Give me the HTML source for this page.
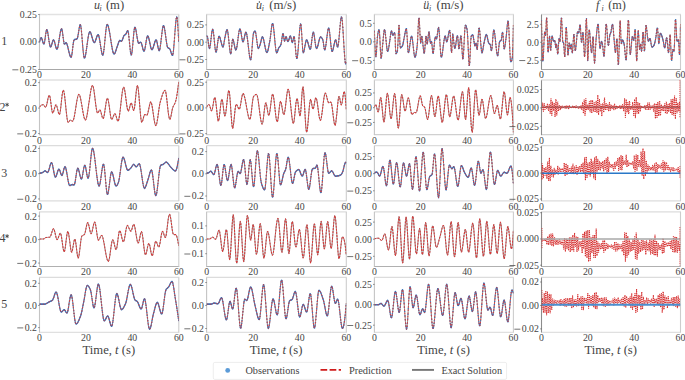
<!DOCTYPE html>
<html><head><meta charset="utf-8"><style>
html,body{margin:0;padding:0;background:#fff;width:685px;height:380px;overflow:hidden}
svg text{font-family:"Liberation Serif", serif}
</style></head><body>
<svg width="685" height="380" viewBox="0 0 685 380" style="display:block">
<rect width="685" height="380" fill="#fff"/>
<clipPath id="c00"><rect x="39.5" y="14.0" width="139.3" height="55.900000000000006"/></clipPath>
<path d="M39.0 14.5H179.3" stroke="#e2e2e2" stroke-width="1.3"/>
<path d="M39.0 69.5H179.3" stroke="#a8a8a8" stroke-width="1.0"/>
<path d="M178.8 14.5V69.4" stroke="#cdcdcd" stroke-width="1.1"/>
<path d="M39.5 14.5V69.4" stroke="#c4c4c4" stroke-width="1.1"/>
<g clip-path="url(#c00)">
<path id="p00" d="M39.5 42.0L40.0 39.9 40.5 38.4 41.0 37.7 41.5 37.8 42.0 39.0 42.5 40.8 43.0 42.5 43.5 43.8 44.0 44.1 44.5 42.4 45.0 39.3 45.5 35.5 46.0 32.0 46.5 29.8 47.0 29.7 47.5 31.3 48.0 34.1 48.5 37.6 49.0 41.1 49.6 44.2 50.1 46.4 50.6 47.1 51.1 46.4 51.6 45.0 52.1 43.2 52.6 41.5 53.1 40.2 53.6 39.8 54.1 40.5 54.6 42.1 55.1 44.0 55.6 46.1 56.1 47.9 56.6 49.1 57.1 49.2 57.6 48.1 58.1 46.0 58.6 43.2 59.1 40.0 59.6 36.7 60.1 33.6 60.6 31.1 61.1 29.3 61.6 28.7 62.1 30.0 62.6 33.1 63.1 37.0 63.6 40.8 64.1 43.5 64.6 44.2 65.1 43.6 65.6 42.9 66.1 42.7 66.6 43.3 67.1 44.6 67.6 46.3 68.1 48.3 68.6 50.5 69.1 52.6 69.7 54.5 70.2 56.1 70.7 57.1 71.2 57.4 71.7 55.8 72.2 52.5 72.7 48.2 73.2 44.1 73.7 40.9 74.2 39.8 74.7 39.6 75.2 39.5 75.7 39.4 76.2 39.3 76.7 39.1 77.2 38.8 77.7 37.1 78.2 34.5 78.7 31.3 79.2 28.2 79.7 25.8 80.2 24.6 80.7 25.5 81.2 28.8 81.7 33.8 82.2 39.7 82.7 45.9 83.2 51.5 83.7 55.8 84.2 58.0 84.7 57.9 85.2 56.5 85.7 54.2 86.2 51.1 86.7 47.6 87.2 43.9 87.7 40.3 88.2 37.0 88.7 34.3 89.3 32.5 89.8 31.7 90.3 32.0 90.8 33.0 91.3 34.4 91.8 36.2 92.3 38.0 92.8 39.7 93.3 41.2 93.8 42.3 94.3 42.7 94.8 42.3 95.3 41.4 95.8 40.0 96.3 38.4 96.8 36.8 97.3 35.5 97.8 34.7 98.3 34.7 98.8 35.8 99.3 37.9 99.8 40.8 100.3 44.0 100.8 47.2 101.3 50.3 101.8 52.9 102.3 54.6 102.8 55.2 103.3 54.0 103.8 51.0 104.3 46.6 104.8 41.6 105.3 36.3 105.8 31.4 106.3 27.4 106.8 24.9 107.3 24.3 107.8 25.0 108.3 26.5 108.8 28.6 109.4 31.2 109.9 34.1 110.4 37.3 110.9 40.6 111.4 43.7 111.9 46.7 112.4 49.4 112.9 51.6 113.4 53.2 113.9 54.0 114.4 54.0 114.9 53.3 115.4 52.1 115.9 50.7 116.4 49.0 116.9 47.4 117.4 46.0 117.9 44.6 118.4 43.1 118.9 41.6 119.4 40.7 119.9 40.5 120.4 40.8 120.9 41.1 121.4 41.3 121.9 41.0 122.4 39.9 122.9 38.4 123.4 36.9 123.9 35.8 124.4 35.2 124.9 35.0 125.4 34.7 125.9 34.1 126.4 33.0 126.9 31.7 127.4 30.7 127.9 30.6 128.4 32.9 128.9 37.1 129.5 42.4 130.0 47.8 130.5 52.3 131.0 54.9 131.5 54.9 132.0 52.2 132.5 47.6 133.0 42.1 133.5 36.4 134.0 31.4 134.5 28.0 135.0 27.0 135.5 28.1 136.0 30.4 136.5 33.4 137.0 36.7 137.5 39.7 138.0 42.0 138.5 43.2 139.0 43.1 139.5 42.9 140.0 42.6 140.5 42.3 141.0 42.4 141.5 43.4 142.0 45.2 142.5 47.3 143.0 49.3 143.5 50.8 144.0 51.3 144.5 50.4 145.0 48.4 145.5 45.5 146.0 42.4 146.5 39.4 147.0 37.1 147.5 35.9 148.0 36.1 148.5 37.3 149.1 39.2 149.6 41.6 150.1 44.1 150.6 46.4 151.1 48.3 151.6 49.5 152.1 49.8 152.6 49.1 153.1 47.9 153.6 46.3 154.1 44.5 154.6 42.8 155.1 41.3 155.6 40.2 156.1 39.8 156.6 40.5 157.1 42.5 157.6 45.0 158.1 47.6 158.6 49.7 159.1 50.8 159.6 50.2 160.1 47.9 160.6 44.4 161.1 40.2 161.6 35.8 162.1 31.7 162.6 28.3 163.1 26.1 163.6 25.6 164.1 26.7 164.6 29.0 165.1 32.2 165.6 35.8 166.1 39.5 166.6 43.0 167.1 45.8 167.6 47.5 168.1 48.0 168.6 48.2 169.2 48.4 169.7 48.7 170.2 49.7 170.7 51.2 171.2 52.8 171.7 54.3 172.2 55.3 172.7 55.3 173.2 53.0 173.7 48.4 174.2 42.4 174.7 35.7 175.2 29.0 175.7 23.2 176.2 18.8 176.7 16.8 177.2 18.1 177.7 23.5 178.2 31.7 178.7 41.3" fill="none" stroke-linejoin="round"/>
<use href="#p00" stroke="#7a7a7a" stroke-width="0.8"/>
<path d="M39.5 42h0m.3-1.2h0m.3-1.1h0m.3-.9h0m.3-.7h0m.3-.4h0m.3 .1h0m.3 .3h0m.3 .7h0m.3 .9h0m.3 1h0m.3 1.1h0m.3 1h0m.3 .7h0m.3 .4h0m.3 .2h0m.3-.9h0m.3-1.2h0m.3-1.9h0m.3-2.1h0m.3-2.3h0m.3-2.1h0m.3-1.9h0m.3-1.3h0m.3-.6h0m.3-.1h0m.3 .9h0m.3 1.1h0m.3 1.6h0m.3 1.9h0m.3 2h0m.3 2.1h0m.3 2.1h0m.3 1.9h0m.3 1.6h0m.3 1.3h0m.3 .5h0m.3 .3h0m.3-.4h0m.3-.6h0m.3-.8h0m.3-1h0m.3-1.1h0m.3-1h0m.3-1h0m.3-.7h0m.3-.4h0m.3-.1h0m.3 .4h0m.3 .6h0m.3 .9h0m.3 1.1h0m.3 1.2h0m.3 1.3h0m.3 1.1h0m.3 1.1h0m.3 .8h0m.3 .7h0m.3 .1h0m.3-.2h0m.3-.7h0m.3-1.1h0m.3-1.2h0m.3-1.7h0m.3-1.8h0m.3-1.9h0m.3-1.9h0m.3-2h0m.3-1.8h0m.3-1.8h0m.3-1.5h0m.3-1.2h0m.3-1h0m.3-.4h0m.3-.1h0m.3 .8h0m.3 1.4h0m.3 1.9h0m.3 2.3h0m.3 2.3h0m.3 2.3h0m.3 1.9h0m.3 1.6h0m.3 .5h0m.3 .2h0m.3-.3h0m.3-.4h0m.3-.4h0m.3-.2h0m.3 0h0m.3 .4h0m.3 .5h0m.3 .8h0m.3 1h0m.3 1h0m.3 1.2h0m.3 1.3h0m.3 1.3h0m.3 1.2h0m.3 1.3h0m.3 1.1h0m.3 1.1h0m.3 .9h0m.3 .7h0m.3 .5h0m.3 .2h0m.3-.4h0m.3-.9h0m.3-1.8h0m.3-2h0m.3-2.6h0m.3-2.5h0m.3-2.5h0m.3-2h0m.3-1.7h0m.3-.7h0m.3-.5h0m.3-.1h0m.3-.1h0m.3 0h0m.3-.1h0m.3 0h0m.3-.1h0m.3-.1h0m.3-.1h0m.3-.2h0m.3-.5h0m.3-1h0m.3-1.4h0m.3-1.6h0m.3-1.9h0m.3-1.8h0m.3-1.9h0m.3-1.5h0m.3-1.5h0m.3-.7h0m.3-.3h0m.3 .5h0m.3 1.5h0m.3 2h0m.3 2.9h0m.3 3.1h0m.3 3.6h0m.3 3.6h0m.3 3.7h0m.3 3.3h0m.3 3.1h0m.3 2.6h0m.3 1.9h0m.3 1.3h0m.3 .1h0m.3-.3h0m.3-.8h0m.3-1.2h0m.3-1.4h0m.3-1.8h0m.3-1.9h0m.3-2h0m.3-2.2h0m.3-2.2h0m.3-2.1h0m.3-2.2h0m.3-1.9h0m.3-1.8h0m.3-1.6h0m.3-1.2h0m.3-1h0m.3-.5h0m.3-.1h0m.3 .2h0m.3 .5h0m.3 .6h0m.3 .9h0m.3 .9h0m.3 1h0m.3 1.1h0m.3 1.1h0m.3 1.1h0m.3 .9h0m.3 .9h0m.3 .7h0m.3 .6h0m.3 .3h0m.3 0h0m.3-.2h0m.3-.5h0m.3-.6h0m.3-.8h0m.3-.9h0m.3-1h0m.3-.9h0m.3-.9h0m.3-.8h0m.3-.6h0m.3-.5h0m.3-.2h0m.3 0h0m.3 .7h0m.3 .9h0m.3 1.2h0m.3 1.6h0m.3 1.6h0m.3 1.9h0m.3 2h0m.3 1.9h0m.3 1.9h0m.3 1.8h0m.3 1.6h0m.3 1.4h0m.3 1h0m.3 .6h0m.3 .4h0m.3-.7h0m.3-1h0m.3-1.8h0m.3-2.3h0m.3-2.5h0m.3-3h0m.3-3.1h0m.3-3.1h0m.3-3.1h0m.3-2.9h0m.3-2.4h0m.3-2.2h0m.3-1.5h0m.3-.9h0m.3-.3h0m.3 .3h0m.3 .5h0m.3 .9h0m.3 1h0m.3 1.3h0m.3 1.5h0m.3 1.6h0m.3 1.7h0m.3 1.9h0m.3 1.8h0m.3 2h0m.3 1.9h0m.3 1.9h0m.3 1.9h0m.3 1.8h0m.3 1.6h0m.3 1.5h0m.3 1.4h0m.3 1.1h0m.3 .9h0m.3 .7h0m.3 .4h0m.3 0h0m.3-.2h0m.3-.4h0m.3-.6h0m.3-.7h0m.3-.9h0m.3-.9h0m.3-1h0m.3-1h0m.3-.9h0m.3-.9h0m.3-.8h0m.3-.8h0m.3-.9h0m.3-1h0m.3-.8h0m.3-.8h0m.3-.5h0m.3-.3h0m.3-.1h0m.3 .2h0m.3 .1h0m.3 .2h0m.3 .2h0m.3 .1h0m.3-.2h0m.3-.3h0m.3-.7h0m.3-.7h0m.3-.9h0m.3-.9h0m.3-.9h0m.3-.7h0m.3-.4h0m.3-.3h0m.3-.2h0m.3-.2h0m.3-.1h0m.3-.3h0m.3-.3h0m.3-.7h0m.3-.7h0m.3-.7h0m.3-.7h0m.3-.6h0m.3-.1h0m.3 .2h0m.3 1.3h0m.3 1.9h0m.3 2.6h0m.3 3h0m.3 3.2h0m.3 3.2h0m.3 3h0m.3 2.7h0m.3 1.8h0m.3 1.3h0m.3 0h0m.3-.8h0m.3-1.6h0m.3-2.5h0m.3-2.7h0m.3-3.4h0m.3-3.3h0m.3-3.4h0m.3-3.1h0m.3-2.8h0m.3-2.1h0m.3-1.4h0m.3-.6h0m.3 .3h0m.3 .7h0m.3 1.3h0m.3 1.6h0m.3 1.8h0m.3 1.9h0m.3 1.9h0m.3 1.8h0m.3 1.7h0m.3 1.4h0m.3 .9h0m.3 .7h0m.3-.1h0m.3 0h0m.3-.2h0m.3-.1h0m.3-.2h0m.3-.2h0m.3 0h0m.3 0h0m.3 .4h0m.3 .6h0m.3 1.1h0m.3 1.1h0m.3 1.2h0m.3 1.2h0m.3 1.2h0m.3 .9h0m.3 .7h0m.3 .4h0m.3-.2h0m.3-.5h0m.3-1.2h0m.3-1.3h0m.3-1.7h0m.3-1.8h0m.3-1.9h0m.3-1.8h0m.3-1.7h0m.3-1.3h0m.3-1.1h0m.3-.7h0m.3 0h0m.3 .2h0m.3 .7h0m.3 1h0m.3 1.1h0m.3 1.4h0m.3 1.4h0m.3 1.5h0m.3 1.4h0m.3 1.5h0m.3 1.2h0m.3 1h0m.3 .8h0m.3 .4h0m.3 .1h0m.3-.2h0m.3-.5h0m.3-.7h0m.3-.8h0m.3-1h0m.3-1h0m.3-1.1h0m.3-1h0m.3-1h0m.3-.9h0m.3-.7h0m.3-.6h0m.3-.2h0m.3 0h0m.3 .4h0m.3 .9h0m.3 1.2h0m.3 1.5h0m.3 1.6h0m.3 1.5h0m.3 1.4h0m.3 1.2h0m.3 .6h0m.3 .4h0m.3-.4h0m.3-1h0m.3-1.4h0m.3-2h0m.3-2.2h0m.3-2.5h0m.3-2.6h0m.3-2.6h0m.3-2.5h0m.3-2.4h0m.3-2h0m.3-1.6h0m.3-1.4h0m.3-.3h0m.3-.1h0m.3 .7h0m.3 1.1h0m.3 1.4h0m.3 1.8h0m.3 2h0m.3 2.1h0m.3 2.2h0m.3 2.3h0m.3 2h0m.3 2h0m.3 1.7h0m.3 1.3h0m.3 1.1h0m.3 .4h0m.3 .3h0m.3 .1h0m.3 .1h0m.3 .1h0m.3 .2h0m.3 .2h0m.3 .6h0m.3 .7h0m.3 .9h0m.3 1h0m.3 .9h0m.3 .9h0m.3 .8h0m.3 .6h0m.3 .1h0m.3-.1h0m.3-1.4h0m.3-2h0m.3-2.7h0m.3-3.4h0m.3-3.6h0m.3-4h0m.3-4h0m.3-4h0m.3-3.6h0m.3-3.5h0m.3-2.5h0m.3-2.1h0m.3-1.3h0m.3 .2h0m.3 .9h0m.3 3.3h0m.3 3.7h0m.3 4.9h0m.3 5.5h0m.3 5.7h0" stroke="#3874bc" stroke-width="1.45" stroke-linecap="round" fill="none"/>
<use href="#p00" stroke="#d83838" stroke-width="0.95" stroke-dasharray="1.7 1.5"/>
</g>
<text x="36.90" y="17.90" text-anchor="end" font-size="9.8" fill="#444444">0.25</text>
<path d="M38.30 14.50H39.5" stroke="#555" stroke-width="0.8"/>
<text x="36.90" y="45.40" text-anchor="end" font-size="9.8" fill="#444444">0.00</text>
<path d="M38.30 42.00H39.5" stroke="#555" stroke-width="0.8"/>
<text x="36.90" y="72.90" text-anchor="end" font-size="9.8" fill="#444444">0.25</text>
<path d="M12.35 69.80H18.35" stroke="#444444" stroke-width="0.75"/>
<path d="M38.30 69.50H39.5" stroke="#555" stroke-width="0.8"/>
<text x="39.50" y="78.30" text-anchor="middle" font-size="9.8" fill="#444444">0</text>
<text x="85.93" y="78.30" text-anchor="middle" font-size="9.8" fill="#444444">20</text>
<text x="132.37" y="78.30" text-anchor="middle" font-size="9.8" fill="#444444">40</text>
<text x="178.80" y="78.30" text-anchor="middle" font-size="9.8" fill="#444444">60</text>
<clipPath id="c01"><rect x="206.6" y="14.0" width="139.70000000000002" height="55.900000000000006"/></clipPath>
<path d="M206.1 14.5H346.8" stroke="#e2e2e2" stroke-width="1.3"/>
<path d="M206.1 69.5H346.8" stroke="#a8a8a8" stroke-width="1.0"/>
<path d="M346.3 14.5V69.4" stroke="#cdcdcd" stroke-width="1.1"/>
<path d="M206.6 14.5V69.4" stroke="#c4c4c4" stroke-width="1.1"/>
<g clip-path="url(#c01)">
<path id="p01" d="M206.6 36.0L207.1 36.1 207.6 37.3 208.1 40.8 208.6 45.0 209.1 48.0 209.6 48.4 210.1 46.2 210.6 42.6 211.1 38.3 211.6 34.0 212.1 30.7 212.6 29.2 213.1 30.3 213.6 33.7 214.1 38.5 214.6 43.8 215.1 48.4 215.6 51.6 216.1 52.2 216.7 50.3 217.2 47.0 217.7 42.9 218.2 39.2 218.7 36.7 219.2 36.2 219.7 36.9 220.2 38.4 220.7 40.3 221.2 42.3 221.7 44.3 222.2 45.9 222.7 46.9 223.2 46.9 223.7 45.0 224.2 41.8 224.7 38.6 225.2 36.3 225.7 33.8 226.2 31.5 226.7 30.0 227.2 29.6 227.7 31.3 228.2 34.8 228.7 39.4 229.2 44.4 229.7 49.0 230.2 52.5 230.7 54.1 231.2 52.2 231.7 46.8 232.2 41.3 232.7 39.0 233.2 39.8 233.7 41.7 234.2 44.2 234.7 46.8 235.2 48.9 235.7 50.0 236.2 49.6 236.8 47.6 237.3 44.4 237.8 40.6 238.3 36.6 238.8 32.9 239.3 30.2 239.8 28.8 240.3 29.2 240.8 31.3 241.3 34.2 241.8 37.4 242.3 40.2 242.8 41.8 243.3 41.7 243.8 40.2 244.3 37.8 244.8 35.3 245.3 33.1 245.8 32.0 246.3 32.5 246.8 34.6 247.3 37.8 247.8 41.7 248.3 46.1 248.8 50.4 249.3 54.3 249.8 57.5 250.3 59.5 250.8 59.9 251.3 57.0 251.8 51.5 252.3 44.8 252.8 38.5 253.3 34.0 253.8 32.4 254.3 31.5 254.8 31.0 255.3 31.2 255.8 33.3 256.3 36.9 256.9 41.0 257.4 44.9 257.9 47.7 258.4 48.6 258.9 48.0 259.4 46.7 259.9 45.2 260.4 43.7 260.9 41.7 261.4 39.4 261.9 37.6 262.4 36.8 262.9 37.3 263.4 38.7 263.9 40.8 264.4 43.3 264.9 46.0 265.4 48.5 265.9 50.6 266.4 52.1 266.9 52.6 267.4 52.0 267.9 50.5 268.4 48.4 268.9 45.8 269.4 43.2 269.9 40.6 270.4 37.1 270.9 32.9 271.4 28.7 271.9 25.3 272.4 23.4 272.9 23.9 273.4 26.5 273.9 30.7 274.4 35.9 274.9 41.3 275.4 46.4 275.9 50.4 276.4 52.7 277.0 52.8 277.5 51.7 278.0 50.0 278.5 48.5 279.0 47.6 279.5 46.9 280.0 46.3 280.5 45.6 281.0 44.4 281.5 41.7 282.0 38.2 282.5 35.0 283.0 33.3 283.5 34.7 284.0 38.8 284.5 41.3 285.0 40.1 285.5 37.7 286.0 36.4 286.5 37.3 287.0 39.3 287.5 41.1 288.0 41.7 288.5 40.8 289.0 39.2 289.5 37.5 290.0 36.2 290.5 35.9 291.0 37.5 291.5 40.2 292.0 42.3 292.5 42.4 293.0 40.4 293.5 37.9 294.0 36.4 294.5 38.0 295.0 42.7 295.5 48.8 296.0 54.6 296.6 58.4 297.1 58.5 297.6 55.4 298.1 50.2 298.6 43.8 299.1 37.0 299.6 30.8 300.1 26.1 300.6 23.7 301.1 25.4 301.6 31.9 302.1 40.6 302.6 48.5 303.1 52.8 303.6 52.5 304.1 50.8 304.6 48.2 305.1 45.3 305.6 42.6 306.1 40.6 306.6 39.8 307.1 40.3 307.6 41.5 308.1 43.3 308.6 45.2 309.1 47.1 309.6 48.5 310.1 49.3 310.6 48.8 311.1 46.2 311.6 42.2 312.1 37.9 312.6 34.2 313.1 32.2 313.6 32.5 314.1 34.8 314.6 38.3 315.1 42.2 315.6 45.7 316.1 48.0 316.7 48.6 317.2 47.8 317.7 46.3 318.2 44.4 318.7 42.2 319.2 40.1 319.7 38.4 320.2 37.2 320.7 36.8 321.2 37.1 321.7 37.7 322.2 38.5 322.7 39.5 323.2 41.4 323.7 45.0 324.2 48.5 324.7 50.1 325.2 49.2 325.7 46.7 326.2 43.1 326.7 39.0 327.2 35.0 327.7 31.4 328.2 28.9 328.7 28.0 329.2 29.5 329.7 33.1 330.2 37.9 330.7 43.1 331.2 47.7 331.7 50.8 332.2 51.6 332.7 50.6 333.2 48.8 333.7 46.5 334.2 44.1 334.7 41.9 335.2 40.3 335.7 39.8 336.2 41.3 336.8 44.1 337.3 46.6 337.8 47.1 338.3 44.9 338.8 40.7 339.3 35.3 339.8 29.4 340.3 23.9 340.8 19.5 341.3 17.0 341.8 17.3 342.3 21.0 342.8 27.3 343.3 35.1 343.8 43.6 344.3 51.7 344.8 58.4 345.3 62.9 345.8 64.0 346.3 62.0" fill="none" stroke-linejoin="round"/>
<use href="#p01" stroke="#7a7a7a" stroke-width="0.8"/>
<path d="M206.6 36h0m.3 0h0m.3 .3h0m.3 .7h0m.3 1.7h0m.3 2.1h0m.3 2.4h0m.3 2.3h0m.3 1.8h0m.3 .9h0m.3 .2h0m.3-1.2h0m.3-1.6h0m.3-2.1h0m.3-2.5h0m.3-2.5h0m.3-2.6h0m.3-2.4h0m.3-1.9h0m.3-1.4h0m.3-.9h0m.3 .5h0m.3 .9h0m.3 2.1h0m.3 2.5h0m.3 2.9h0m.3 3.1h0m.3 3h0m.3 2.8h0m.3 2.3h0m.3 1.9h0m.3 .6h0m.3 .1h0m.3-1.1h0m.3-1.6h0m.3-2h0m.3-2.3h0m.3-2.4h0m.3-2.2h0m.3-1.9h0m.3-1.5h0m.3-.6h0m.3-.2h0m.3 .5h0m.3 .6h0m.3 .9h0m.3 1h0m.3 1.2h0m.3 1.2h0m.3 1.2h0m.3 1.2h0m.3 1h0m.3 .9h0m.3 .6h0m.3 .4h0m.3 0h0m.3-.8h0m.3-1.2h0m.3-1.9h0m.3-1.9h0m.3-1.9h0m.3-1.6h0m.3-1.4h0m.3-1.4h0m.3-1.5h0m.3-1.3h0m.3-1.1h0m.3-.9h0m.3-.3h0m.3 .2h0m.3 1h0m.3 1.7h0m.3 2.1h0m.3 2.8h0m.3 2.8h0m.3 3h0m.3 2.8h0m.3 2.8h0m.3 2.1h0m.3 1.7h0m.3 1h0m.3-.3h0m.3-1.1h0m.3-3.1h0m.3-3.2h0m.3-3.3h0m.3-2.2h0m.3-1.4h0m.3 .3h0m.3 .7h0m.3 1.1h0m.3 1.4h0m.3 1.4h0m.3 1.6h0m.3 1.4h0m.3 1.3h0m.3 .9h0m.3 .7h0m.3-.1h0m.3-.4h0m.3-1.2h0m.3-1.5h0m.3-2h0m.3-2.2h0m.3-2.3h0m.3-2.4h0m.3-2.3h0m.3-2.1h0m.3-1.8h0m.3-1.5h0m.3-.9h0m.3-.3h0m.3 .3h0m.3 1h0m.3 1.2h0m.3 1.8h0m.3 1.8h0m.3 1.9h0m.3 1.7h0m.3 1.6h0m.3 1h0m.3 .6h0m.3-.1h0m.3-.6h0m.3-1h0m.3-1.4h0m.3-1.4h0m.3-1.6h0m.3-1.3h0m.3-1.3h0m.3-.6h0m.3-.4h0m.3 .3h0m.3 1h0m.3 1.2h0m.3 1.9h0m.3 2h0m.3 2.4h0m.3 2.5h0m.3 2.6h0m.3 2.6h0m.3 2.5h0m.3 2.4h0m.3 2h0m.3 1.9h0m.3 1.2h0m.3 1h0m.3 .2h0m.3-.9h0m.3-1.8h0m.3-3.1h0m.3-3.5h0m.3-4h0m.3-3.8h0m.3-3.8h0m.3-2.8h0m.3-2.3h0m.3-1h0m.3-.7h0m.3-.5h0m.3-.4h0m.3-.2h0m.3 .1h0m.3 .8h0m.3 1.2h0m.3 2h0m.3 2.2h0m.3 2.5h0m.3 2.3h0m.3 2.4h0m.3 1.7h0m.3 1.6h0m.3 .5h0m.3 .1h0m.3-.3h0m.3-.7h0m.3-.8h0m.3-.9h0m.3-.9h0m.3-.9h0m.3-1.1h0m.3-1.3h0m.3-1.3h0m.3-1.2h0m.3-1.1h0m.3-.7h0m.3-.4h0m.3 .3h0m.3 .5h0m.3 .9h0m.3 1.1h0m.3 1.3h0m.3 1.5h0m.3 1.5h0m.3 1.6h0m.3 1.5h0m.3 1.5h0m.3 1.3h0m.3 1.1h0m.3 .9h0m.3 .5h0m.3 .3h0m.3-.3h0m.3-.5h0m.3-.9h0m.3-1.2h0m.3-1.3h0m.3-1.5h0m.3-1.5h0m.3-1.6h0m.3-1.6h0m.3-1.5h0m.3-2.1h0m.3-2.1h0m.3-2.6h0m.3-2.5h0m.3-2.5h0m.3-2.1h0m.3-1.8h0m.3-1.1h0m.3-.3h0m.3 .2h0m.3 1.5h0m.3 1.7h0m.3 2.6h0m.3 2.8h0m.3 3.1h0m.3 3.2h0m.3 3.2h0m.3 3h0m.3 2.7h0m.3 2.4h0m.3 1.5h0m.3 1.2h0m.3 .1h0m.3-.3h0m.3-.7h0m.3-.9h0m.3-1h0m.3-.9h0m.3-.8h0m.3-.5h0m.3-.4h0m.3-.4h0m.3-.4h0m.3-.4h0m.3-.4h0m.3-.7h0m.3-.8h0m.3-1.6h0m.3-1.8h0m.3-2.1h0m.3-1.9h0m.3-1.9h0m.3-1h0m.3-.3h0m.3 .9h0m.3 2h0m.3 2.4h0m.3 1.5h0m.3 .6h0m.3-.7h0m.3-1.2h0m.3-1.4h0m.3-.8h0m.3-.3h0m.3 .5h0m.3 1h0m.3 1.2h0m.3 1.1h0m.3 .8h0m.3 .3h0m.3-.2h0m.3-.5h0m.3-.9h0m.3-1h0m.3-1h0m.3-.9h0m.3-.8h0m.3-.2h0m.3 .1h0m.3 1h0m.3 1.4h0m.3 1.6h0m.3 1.3h0m.3 .9h0m.3 .1h0m.3-.7h0m.3-1.2h0m.3-1.4h0m.3-1.4h0m.3-.9h0m.3 .1h0m.3 1h0m.3 2.5h0m.3 3h0m.3 3.7h0m.3 3.5h0m.3 3.5h0m.3 2.4h0m.3 1.9h0m.3 0h0m.3-.8h0m.3-1.8h0m.3-2.9h0m.3-3.2h0m.3-3.8h0m.3-4h0m.3-4h0m.3-3.8h0m.3-3.6h0m.3-2.8h0m.3-2.2h0m.3-1.5h0m.3 .5h0m.3 1.2h0m.3 3.9h0m.3 4.4h0m.3 5.2h0m.3 4.9h0m.3 4.5h0m.3 2.6h0m.3 1.5h0m.3-.1h0m.3-.8h0m.3-1.1h0m.3-1.5h0m.3-1.6h0m.3-1.8h0m.3-1.6h0m.3-1.6h0m.3-1.2h0m.3-1h0m.3-.4h0m.3 0h0m.3 .3h0m.3 .7h0m.3 .9h0m.3 1h0m.3 1.1h0m.3 1.2h0m.3 1.1h0m.3 1h0m.3 .9h0m.3 .6h0m.3 .5h0m.3-.2h0m.3-.7h0m.3-1.6h0m.3-2h0m.3-2.4h0m.3-2.5h0m.3-2.5h0m.3-2.2h0m.3-1.7h0m.3-1.2h0m.3 0h0m.3 .5h0m.3 1.4h0m.3 1.7h0m.3 2.1h0m.3 2.3h0m.3 2.3h0m.3 2.1h0m.3 1.7h0m.3 1.4h0m.3 .5h0m.3 .2h0m.3-.5h0m.3-.6h0m.3-.9h0m.3-1.1h0m.3-1.2h0m.3-1.3h0m.3-1.3h0m.3-1.2h0m.3-1.1h0m.3-1h0m.3-.7h0m.3-.5h0m.3-.2h0m.3 0h0m.3 .2h0m.3 .3h0m.3 .5h0m.3 .5h0m.3 .6h0m.3 .6h0m.3 1.1h0m.3 1.6h0m.3 2.1h0m.3 2.1h0m.3 2h0m.3 1h0m.3 .4h0m.3-.6h0m.3-1.2h0m.3-1.5h0m.3-2.1h0m.3-2.2h0m.3-2.4h0m.3-2.5h0m.3-2.4h0m.3-2.1h0m.3-2h0m.3-1.4h0m.3-.9h0m.3-.6h0m.3 .8h0m.3 1.3h0m.3 2.1h0m.3 2.6h0m.3 2.9h0m.3 3.1h0m.3 3h0m.3 2.8h0m.3 2.2h0m.3 1.8h0m.3 .6h0m.3 .2h0m.3-.5h0m.3-.9h0m.3-1.1h0m.3-1.3h0m.3-1.4h0m.3-1.5h0m.3-1.3h0m.3-1.4h0m.3-.9h0m.3-.8h0m.3-.3h0m.3 .3h0m.3 .9h0m.3 1.5h0m.3 1.6h0m.3 1.5h0m.3 .9h0m.3 .3h0m.3-1h0m.3-1.5h0m.3-2.5h0m.3-2.8h0m.3-3.2h0m.3-3.5h0m.3-3.4h0m.3-3.3h0m.3-3.1h0m.3-2.6h0m.3-1.7h0m.3-1.4h0m.3 .2h0m.3 1h0m.3 2.2h0m.3 3.3h0m.3 3.8h0m.3 4.7h0m.3 4.8h0m.3 5.1h0m.3 4.9h0m.3 4.8h0m.3 4h0m.3 3.6h0m.3 2.6h0m.3 1.3h0m.3 .7h0m.3-1.2h0" stroke="#3874bc" stroke-width="1.45" stroke-linecap="round" fill="none"/>
<use href="#p01" stroke="#d83838" stroke-width="0.95" stroke-dasharray="1.7 1.5"/>
</g>
<text x="204.00" y="28.30" text-anchor="end" font-size="9.8" fill="#444444">0.25</text>
<path d="M205.40 24.90H206.6" stroke="#555" stroke-width="0.8"/>
<text x="204.00" y="45.60" text-anchor="end" font-size="9.8" fill="#444444">0.00</text>
<path d="M205.40 42.20H206.6" stroke="#555" stroke-width="0.8"/>
<text x="204.00" y="62.90" text-anchor="end" font-size="9.8" fill="#444444">0.25</text>
<path d="M179.45 59.80H185.45" stroke="#444444" stroke-width="0.75"/>
<path d="M205.40 59.50H206.6" stroke="#555" stroke-width="0.8"/>
<text x="206.60" y="78.30" text-anchor="middle" font-size="9.8" fill="#444444">0</text>
<text x="253.17" y="78.30" text-anchor="middle" font-size="9.8" fill="#444444">20</text>
<text x="299.73" y="78.30" text-anchor="middle" font-size="9.8" fill="#444444">40</text>
<text x="346.30" y="78.30" text-anchor="middle" font-size="9.8" fill="#444444">60</text>
<clipPath id="c02"><rect x="374.4" y="14.0" width="139.0" height="55.900000000000006"/></clipPath>
<path d="M373.9 14.5H513.9" stroke="#e2e2e2" stroke-width="1.3"/>
<path d="M373.9 69.5H513.9" stroke="#a8a8a8" stroke-width="1.0"/>
<path d="M513.4 14.5V69.4" stroke="#cdcdcd" stroke-width="1.1"/>
<path d="M374.4 14.5V69.4" stroke="#c4c4c4" stroke-width="1.1"/>
<g clip-path="url(#c02)">
<path id="p02" d="M374.4 30.9L374.9 44.4 375.4 53.5 375.9 56.7 376.4 53.0 376.9 45.0 377.4 37.2 377.9 33.5 378.4 31.2 378.9 29.8 379.4 30.6 379.9 39.0 380.4 50.3 380.9 58.2 381.4 57.8 381.9 53.1 382.4 47.3 382.9 42.4 383.4 36.8 383.9 31.9 384.4 29.5 384.9 30.6 385.4 34.1 385.9 38.9 386.4 44.1 386.9 48.5 387.4 51.2 387.9 51.3 388.5 49.3 389.0 46.1 389.5 43.0 390.0 39.5 390.5 35.4 391.0 32.1 391.5 30.9 392.0 32.3 392.5 34.5 393.0 35.4 393.5 34.8 394.0 33.6 394.5 32.6 395.0 34.1 395.5 48.5 396.0 53.8 396.5 53.3 397.0 52.4 397.5 50.4 398.0 42.3 398.5 31.8 399.0 25.3 399.5 31.6 400.0 45.8 400.5 47.9 401.0 47.6 401.5 47.1 402.0 46.5 402.5 45.7 403.0 44.0 403.5 41.4 404.0 38.5 404.5 36.1 405.0 33.3 405.5 30.7 406.0 28.9 406.5 28.7 407.0 34.5 407.5 44.0 408.0 51.6 408.5 52.8 409.0 50.9 409.5 47.7 410.0 44.0 410.5 40.3 411.0 37.4 411.5 36.1 412.0 37.1 412.5 40.1 413.0 44.3 413.5 49.0 414.0 53.3 414.5 56.4 415.0 57.4 415.5 56.4 416.0 54.1 416.6 50.8 417.1 46.9 417.6 40.7 418.1 29.6 418.6 19.8 419.1 17.9 419.6 25.3 420.1 36.0 420.6 43.1 421.1 41.1 421.6 36.2 422.1 36.9 422.6 40.8 423.1 46.0 423.6 50.7 424.1 53.4 424.6 51.7 425.1 45.7 425.6 39.3 426.1 36.1 426.6 40.0 427.1 44.2 427.6 42.1 428.1 37.5 428.6 33.2 429.1 31.8 429.6 35.8 430.1 41.4 430.6 43.4 431.1 42.0 431.6 41.4 432.1 45.7 432.6 51.7 433.1 53.7 433.6 51.0 434.1 46.2 434.6 41.1 435.1 37.4 435.6 37.1 436.1 38.8 436.6 39.0 437.1 36.3 437.6 32.4 438.1 28.9 438.6 27.5 439.1 30.5 439.6 37.3 440.1 45.5 440.6 52.9 441.1 57.1 441.6 56.9 442.1 54.8 442.6 51.5 443.1 47.5 443.6 43.3 444.2 39.6 444.7 37.0 445.2 35.8 445.7 37.2 446.2 40.2 446.7 42.0 447.2 41.2 447.7 39.1 448.2 36.3 448.7 33.4 449.2 31.2 449.7 30.2 450.2 33.7 450.7 42.0 451.2 50.1 451.7 52.7 452.2 41.2 452.7 34.0 453.2 36.5 453.7 41.1 454.2 45.8 454.7 48.5 455.2 47.9 455.7 45.2 456.2 41.7 456.7 38.2 457.2 35.9 457.7 36.2 458.2 42.4 458.7 48.6 459.2 48.5 459.7 44.7 460.2 39.8 460.7 36.1 461.2 36.2 461.7 43.1 462.2 52.5 462.7 59.1 463.2 58.1 463.7 50.9 464.2 40.8 464.7 31.2 465.2 25.5 465.7 25.2 466.2 26.3 466.7 28.1 467.2 30.4 467.7 37.1 468.2 48.2 468.7 59.2 469.2 65.9 469.7 63.6 470.2 53.0 470.7 41.3 471.2 36.0 471.8 35.4 472.3 35.0 472.8 34.9 473.3 36.6 473.8 39.9 474.3 43.4 474.8 45.9 475.3 45.7 475.8 43.6 476.3 43.3 476.8 48.2 477.3 49.6 477.8 43.6 478.3 35.0 478.8 28.5 479.3 28.2 479.8 31.9 480.3 37.6 480.8 43.9 481.3 49.4 481.8 52.7 482.3 52.7 482.8 50.3 483.3 47.0 483.8 44.0 484.3 41.7 484.8 39.3 485.3 37.1 485.8 35.4 486.3 34.6 486.8 35.2 487.3 37.1 487.8 39.6 488.3 41.9 488.8 43.4 489.3 43.8 489.8 44.0 490.3 44.8 490.8 47.9 491.3 50.6 491.8 49.8 492.3 44.7 492.8 38.0 493.3 32.2 493.8 29.9 494.3 31.2 494.8 34.4 495.3 38.8 495.8 43.8 496.3 48.7 496.8 52.8 497.3 55.4 497.8 55.8 498.3 52.5 498.8 47.3 499.3 42.7 499.9 41.2 500.4 40.9 500.9 40.7 501.4 39.6 501.9 35.8 502.4 32.3 502.9 33.1 503.4 40.8 503.9 48.2 504.4 49.0 504.9 46.7 505.4 43.1 505.9 39.2 506.4 35.1 506.9 29.6 507.4 24.3 507.9 21.0 508.4 22.0 508.9 29.6 509.4 40.9 509.9 52.3 510.4 60.3 510.9 61.9 511.4 61.3 511.9 60.0 512.4 57.1 512.9 44.2 513.4 25.0" fill="none" stroke-linejoin="round"/>
<use href="#p02" stroke="#7a7a7a" stroke-width="0.8"/>
<path d="M374.4 30.9h0m.3 8.1h0m.3 7.2h0m.3 5.4h0m.3 3.1h0m.3 2h0m.3-2.2h0m.3-3h0m.3-4.8h0m.3-4.7h0m.3-4.6h0m.3-2.3h0m.3-2h0m.3-1.4h0m.3-1h0m.3-.9h0m.3 .4h0m.3 1.7h0m.3 5.1h0m.3 6h0m.3 6.8h0m.3 4.9h0m.3 3.4h0m.3-.2h0m.3-1.8h0m.3-2.8h0m.3-3.4h0m.3-3.3h0m.3-2.9h0m.3-3.2h0m.3-3.3h0m.3-3h0m.3-2.6h0m.3-1.4h0m.3-.3h0m.3 .6h0m.3 1.9h0m.3 2.3h0m.3 2.9h0m.3 2.9h0m.3 3.1h0m.3 2.7h0m.3 2.5h0m.3 1.6h0m.3 .8h0m.3 .1h0m.3-1h0m.3-1.4h0m.3-1.8h0m.3-1.9h0m.3-1.9h0m.3-2h0m.3-2.1h0m.3-2.5h0m.3-2.2h0m.3-2h0m.3-1h0m.3-.5h0m.3 .9h0m.3 1h0m.3 1.3h0m.3 .7h0m.3 .4h0m.3-.3h0m.3-.5h0m.3-.7h0m.3-.6h0m.3-.5h0m.3 .9h0m.3 4.1h0m.3 8.6h0m.3 4.6h0m.3 2.8h0m.3-.2h0m.3-.4h0m.3-.6h0m.3-1h0m.3-1.3h0m.3-4.9h0m.3-5.4h0m.3-6.3h0m.3-4.6h0m.3-3.6h0m.3 3.8h0m.3 5.5h0m.3 8.5h0m.3 3.4h0m.3 1.3h0m.3-.2h0m.3-.2h0m.3-.3h0m.3-.3h0m.3-.4h0m.3-.5h0m.3-.6h0m.3-1h0m.3-1.4h0m.3-1.6h0m.3-1.7h0m.3-1.6h0m.3-1.5h0m.3-1.6h0m.3-1.6h0m.3-1.6h0m.3-1.4h0m.3-1.1h0m.3-.5h0m.3-.1h0m.3 3.3h0m.3 4.1h0m.3 5.6h0m.3 5h0m.3 4.5h0m.3 1h0m.3 .3h0m.3-1.1h0m.3-1.6h0m.3-1.9h0m.3-2.2h0m.3-2.3h0m.3-2.2h0m.3-1.9h0m.3-1.7h0m.3-.9h0m.3-.5h0m.3 .6h0m.3 1.2h0m.3 1.8h0m.3 2.5h0m.3 2.6h0m.3 2.8h0m.3 2.7h0m.3 2.5h0m.3 2h0m.3 1.6h0m.3 .6h0m.3 0h0m.3-.6h0m.3-1.2h0m.3-1.5h0m.3-2h0m.3-2.1h0m.3-2.4h0m.3-3.5h0m.3-4.1h0m.3-6.6h0m.3-6.3h0m.3-5.8h0m.3-2.1h0m.3-.4h0m.3 4.4h0m.3 5.4h0m.3 6.3h0m.3 4.7h0m.3 3.7h0m.3-1.2h0m.3-2h0m.3-2.9h0m.3-.4h0m.3 .6h0m.3 2.3h0m.3 2.7h0m.3 3.1h0m.3 2.9h0m.3 2.8h0m.3 1.5h0m.3 .6h0m.3-1h0m.3-2.9h0m.3-3.6h0m.3-3.9h0m.3-3.1h0m.3-1.9h0m.3 1.2h0m.3 2.3h0m.3 2.5h0m.3 1.1h0m.3-1.2h0m.3-2.3h0m.3-2.7h0m.3-2.6h0m.3-2h0m.3-.8h0m.3 1.4h0m.3 2.4h0m.3 3.3h0m.3 2.6h0m.3 1.2h0m.3-.1h0m.3-.9h0m.3-.4h0m.3 .6h0m.3 2.6h0m.3 3.2h0m.3 3.6h0m.3 1.2h0m.3 .4h0m.3-1.6h0m.3-2.4h0m.3-2.9h0m.3-3h0m.3-2.8h0m.3-2.2h0m.3-1h0m.3-.2h0m.3 1h0m.3 .7h0m.3 .1h0m.3-.9h0m.3-1.6h0m.3-2.2h0m.3-2.3h0m.3-2.1h0m.3-1.4h0m.3-.8h0m.3 1.5h0m.3 2.3h0m.3 4.1h0m.3 4.5h0m.3 4.9h0m.3 4.5h0m.3 4h0m.3 2.5h0m.3 1.1h0m.3-.1h0m.3-1.1h0m.3-1.4h0m.3-2h0m.3-2.2h0m.3-2.4h0m.3-2.4h0m.3-2.4h0m.3-2.2h0m.3-2h0m.3-1.6h0m.3-.8h0m.3-.5h0m.3 .8h0m.3 1.3h0m.3 1.8h0m.3 1.2h0m.3 .9h0m.3-.4h0m.3-.8h0m.3-1.3h0m.3-1.6h0m.3-1.7h0m.3-1.7h0m.3-1.6h0m.3-1.3h0m.3-.8h0m.3-.3h0m.3 2.1h0m.3 3.3h0m.3 5h0m.3 4.9h0m.3 4.5h0m.3 1.6h0m.3-1.9h0m.3-6.9h0m.3-5h0m.3-3.9h0m.3 1.4h0m.3 2h0m.3 2.8h0m.3 2.8h0m.3 2.8h0m.3 1.6h0m.3 .8h0m.3-.3h0m.3-1.2h0m.3-1.6h0m.3-2.1h0m.3-2.2h0m.3-2h0m.3-1.6h0m.3-1.4h0m.3 .1h0m.3 1.4h0m.3 3.7h0m.3 3.7h0m.3 3.7h0m.3 0h0m.3-.7h0m.3-2.3h0m.3-2.7h0m.3-2.9h0m.3-2.2h0m.3-1.6h0m.3 .1h0m.3 2.6h0m.3 4.1h0m.3 5.6h0m.3 5.1h0m.3 3.9h0m.3 1.2h0m.3-.5h0m.3-4.1h0m.3-4.8h0m.3-6h0m.3-5.9h0m.3-5.7h0m.3-3.6h0m.3-2.7h0m.3-.1h0m.3 .3h0m.3 .6h0m.3 1.1h0m.3 1.1h0m.3 1.4h0m.3 2.8h0m.3 4h0m.3 6.3h0m.3 6.6h0m.3 6.7h0m.3 5.2h0m.3 4h0m.3-.7h0m.3-2.3h0m.3-6.4h0m.3-6.7h0m.3-6.9h0m.3-3.8h0m.3-2.6h0m.3-.4h0m.3-.3h0m.3-.2h0m.3-.1h0m.3 .1h0m.3 1h0m.3 1.4h0m.3 2h0m.3 2.1h0m.3 2h0m.3 1.5h0m.3 .7h0m.3-.1h0m.3-1h0m.3-1.2h0m.3-.1h0m.3 1.2h0m.3 3h0m.3 1.3h0m.3 .3h0m.3-3.5h0m.3-4.3h0m.3-5.2h0m.3-4.2h0m.3-3.5h0m.3-.2h0m.3 .8h0m.3 2.2h0m.3 3.1h0m.3 3.4h0m.3 3.8h0m.3 3.6h0m.3 3.3h0m.3 2.4h0m.3 1.8h0m.3 0h0m.3-.6h0m.3-1.4h0m.3-1.8h0m.3-1.9h0m.3-1.8h0m.3-1.7h0m.3-1.3h0m.3-1.5h0m.3-1.4h0m.3-1.3h0m.3-1.2h0m.3-1h0m.3-.7h0m.3-.5h0m.3 .3h0m.3 .6h0m.3 1.2h0m.3 1.3h0m.3 1.5h0m.3 1.4h0m.3 1.3h0m.3 .9h0m.3 .4h0m.3 .3h0m.3 .1h0m.3 .2h0m.3 .5h0m.3 1.3h0m.3 1.8h0m.3 1.7h0m.3 1.1h0m.3-.5h0m.3-2h0m.3-3h0m.3-4h0m.3-3.8h0m.3-3.5h0m.3-2.3h0m.3-1.4h0m.3 .6h0m.3 1.1h0m.3 1.9h0m.3 2.3h0m.3 2.6h0m.3 3h0m.3 2.9h0m.3 2.9h0m.3 2.7h0m.3 2.4h0m.3 1.7h0m.3 1.3h0m.3 .3h0m.3-.9h0m.3-2h0m.3-2.9h0m.3-3.1h0m.3-2.7h0m.3-1.8h0m.3-1h0m.3-.3h0m.3-.1h0m.3-.1h0m.3-.4h0m.3-.6h0m.3-2h0m.3-2.3h0m.3-2.1h0m.3-.9h0m.3 .5h0m.3 3.8h0m.3 4.5h0m.3 4.5h0m.3 2.6h0m.3 .5h0m.3-1h0m.3-1.4h0m.3-2.2h0m.3-2.2h0m.3-2.3h0m.3-2.5h0m.3-2.5h0m.3-3.3h0m.3-3.2h0m.3-3.2h0m.3-2.2h0m.3-1.9h0m.3 .6h0m.3 2.2h0m.3 4.5h0m.3 6.2h0m.3 6.7h0m.3 6.9h0m.3 6h0m.3 4.8h0m.3 2h0m.3 .9h0m.3-.3h0m.3-.5h0m.3-.7h0m.3-1.5h0m.3-1.8h0m.3-7.7h0m.3-9h0m.3-11.5h0" stroke="#3874bc" stroke-width="1.45" stroke-linecap="round" fill="none"/>
<use href="#p02" stroke="#d83838" stroke-width="0.95" stroke-dasharray="1.7 1.5"/>
</g>
<text x="371.80" y="26.70" text-anchor="end" font-size="9.8" fill="#444444">0.5</text>
<path d="M373.20 23.30H374.4" stroke="#555" stroke-width="0.8"/>
<text x="371.80" y="45.25" text-anchor="end" font-size="9.8" fill="#444444">0.0</text>
<path d="M373.20 41.85H374.4" stroke="#555" stroke-width="0.8"/>
<text x="371.80" y="63.80" text-anchor="end" font-size="9.8" fill="#444444">0.5</text>
<path d="M352.15 60.70H358.15" stroke="#444444" stroke-width="0.75"/>
<path d="M373.20 60.40H374.4" stroke="#555" stroke-width="0.8"/>
<text x="374.40" y="78.30" text-anchor="middle" font-size="9.8" fill="#444444">0</text>
<text x="420.73" y="78.30" text-anchor="middle" font-size="9.8" fill="#444444">20</text>
<text x="467.07" y="78.30" text-anchor="middle" font-size="9.8" fill="#444444">40</text>
<text x="513.40" y="78.30" text-anchor="middle" font-size="9.8" fill="#444444">60</text>
<clipPath id="c03"><rect x="541.5" y="14.0" width="139.0" height="55.900000000000006"/></clipPath>
<path d="M541.0 14.5H681.0" stroke="#e2e2e2" stroke-width="1.3"/>
<path d="M541.0 69.5H681.0" stroke="#a8a8a8" stroke-width="1.0"/>
<path d="M680.5 14.5V69.4" stroke="#cdcdcd" stroke-width="1.1"/>
<path d="M541.5 14.5V69.4" stroke="#8c8c8c" stroke-width="1.1"/>
<g clip-path="url(#c03)">
<path id="p03" d="M541.5 20.6L541.9 39.0 542.3 53.1 542.7 60.9 543.1 60.8 543.5 53.9 543.9 44.0 544.3 35.3 544.7 31.7 545.1 33.6 545.5 36.0 545.9 31.5 546.3 20.6 546.7 17.6 547.1 27.0 547.5 41.2 547.9 51.7 548.3 51.9 548.7 46.4 549.1 39.8 549.5 35.9 549.9 39.8 550.3 48.3 550.7 50.4 551.1 46.3 551.5 40.5 551.9 36.2 552.3 36.2 552.7 38.2 553.2 40.4 553.6 41.2 554.0 41.0 554.4 40.6 554.8 40.5 555.2 42.9 555.6 46.5 556.0 47.8 556.4 44.1 556.8 44.9 557.2 49.9 557.6 54.1 558.0 52.9 558.4 46.9 558.8 40.5 559.2 38.4 559.6 40.7 560.0 41.8 560.4 35.9 560.8 26.1 561.2 18.3 561.6 18.1 562.0 26.3 562.4 36.5 562.8 42.0 563.2 42.3 563.6 42.7 564.0 47.3 564.4 54.8 564.8 57.0 565.2 49.3 565.6 37.3 566.0 27.9 566.4 27.6 566.8 34.1 567.2 43.5 567.6 51.8 568.0 55.2 568.4 51.7 568.8 45.7 569.2 42.7 569.6 45.2 570.0 48.8 570.4 48.6 570.8 45.8 571.2 44.2 571.6 46.8 572.0 51.0 572.4 53.0 572.8 49.1 573.2 41.8 573.6 35.4 574.0 34.4 574.4 39.5 574.8 46.6 575.2 50.7 575.6 49.6 576.0 46.0 576.5 41.2 576.9 36.4 577.3 32.9 577.7 31.7 578.1 32.3 578.5 33.0 578.9 32.4 579.3 29.6 579.7 26.3 580.1 24.6 580.5 27.7 580.9 35.0 581.3 41.4 581.7 42.3 582.1 39.3 582.5 35.3 582.9 32.6 583.3 34.4 583.7 42.2 584.1 51.3 584.5 57.0 584.9 54.7 585.3 44.5 585.7 31.5 586.1 21.1 586.5 18.6 586.9 30.4 587.3 48.4 587.7 60.5 588.1 57.3 588.5 45.2 588.9 33.1 589.3 29.6 589.7 32.2 590.1 37.1 590.5 42.9 590.9 48.3 591.3 52.1 591.7 52.7 592.1 48.3 592.5 41.7 592.9 36.8 593.3 38.0 593.7 47.5 594.1 58.5 594.5 63.3 594.9 60.2 595.3 53.5 595.7 45.6 596.1 38.7 596.5 34.5 596.9 30.6 597.3 27.1 597.7 24.8 598.1 24.0 598.5 27.4 598.9 34.3 599.3 41.9 599.8 47.4 600.2 48.4 600.6 46.3 601.0 43.4 601.4 41.4 601.8 41.6 602.2 43.2 602.6 45.2 603.0 48.7 603.4 52.9 603.8 56.1 604.2 56.1 604.6 51.2 605.0 43.1 605.4 34.3 605.8 27.2 606.2 24.0 606.6 25.7 607.0 30.3 607.4 36.1 607.8 41.6 608.2 45.1 608.6 45.3 609.0 42.3 609.4 38.2 609.8 35.0 610.2 34.0 610.6 33.3 611.0 31.9 611.4 29.5 611.8 26.8 612.2 24.8 612.6 24.4 613.0 26.5 613.4 30.6 613.8 35.7 614.2 41.0 614.6 45.6 615.0 49.7 615.4 52.9 615.8 51.0 616.2 45.3 616.6 39.8 617.0 38.8 617.4 46.0 617.8 56.6 618.2 64.4 618.6 63.2 619.0 52.5 619.4 37.9 619.8 25.3 620.2 20.7 620.6 29.0 621.0 40.9 621.4 44.0 621.8 42.3 622.2 40.3 622.7 39.9 623.1 40.5 623.5 41.6 623.9 43.0 624.3 44.9 624.7 48.6 625.1 53.0 625.5 57.2 625.9 59.9 626.3 59.8 626.7 54.2 627.1 44.8 627.5 34.2 627.9 25.0 628.3 20.0 628.7 21.8 629.1 30.7 629.5 42.2 629.9 51.6 630.3 54.4 630.7 52.3 631.1 48.1 631.5 43.2 631.9 39.0 632.3 36.6 632.7 37.0 633.1 38.5 633.5 40.0 633.9 40.3 634.3 37.3 634.7 32.7 635.1 29.6 635.5 32.9 635.9 44.0 636.3 55.9 636.7 61.2 637.1 55.5 637.5 43.7 637.9 33.1 638.3 30.5 638.7 35.7 639.1 43.5 639.5 49.3 639.9 49.1 640.3 45.0 640.7 43.9 641.1 47.9 641.5 51.5 641.9 49.1 642.3 42.1 642.7 34.9 643.1 32.0 643.5 36.6 643.9 44.7 644.3 50.9 644.7 49.7 645.1 41.1 645.5 30.8 646.0 25.2 646.4 26.4 646.8 30.0 647.2 34.2 647.6 37.2 648.0 39.6 648.4 41.2 648.8 41.1 649.2 40.1 649.6 38.9 650.0 38.3 650.4 39.2 650.8 41.5 651.2 44.3 651.6 46.5 652.0 47.2 652.4 47.1 652.8 46.8 653.2 46.4 653.6 46.0 654.0 45.4 654.4 44.3 654.8 42.8 655.2 41.0 655.6 39.1 656.0 36.6 656.4 33.2 656.8 30.0 657.2 27.9 657.6 28.5 658.0 33.9 658.4 40.4 658.8 43.5 659.2 41.6 659.6 37.7 660.0 34.2 660.4 33.2 660.8 33.6 661.2 34.3 661.6 35.3 662.0 36.5 662.4 37.8 662.8 39.2 663.2 40.8 663.6 43.1 664.0 45.6 664.4 47.5 664.8 47.8 665.2 46.1 665.6 43.2 666.0 40.2 666.4 38.1 666.8 37.8 667.2 40.7 667.6 45.3 668.0 49.9 668.4 52.8 668.8 51.7 669.3 45.7 669.7 38.5 670.1 34.6 670.5 38.9 670.9 49.4 671.3 58.8 671.7 60.5 672.1 57.2 672.5 52.7 672.9 49.7 673.3 49.8 673.7 51.0 674.1 51.4 674.5 43.8 674.9 31.1 675.3 20.7 675.7 19.6 676.1 26.2 676.5 35.1 676.9 40.9 677.3 41.2 677.7 40.6 678.1 40.1 678.5 39.8 678.9 45.3 679.3 54.2 679.7 54.5 680.1 43.5 680.5 24.3" fill="none" stroke-linejoin="round"/>
<use href="#p03" stroke="#7a7a7a" stroke-width="0.8"/>
<path d="M541.5 20.6h0m.3 13.7h0m.3 11.6h0m.3 9h0m.3 5.9h0m.3 0h0m.3-3.3h0m.3-5.9h0m.3-7.3h0m.3-6.6h0m.3-4.1h0m.3-1.5h0m.3 1.5h0m.3 1.7h0m.3-1.4h0m.3-4.6h0m.3-8.2h0m.3-2.6h0m.3 3.3h0m.3 7.9h0m.3 10.6h0m.3 8h0m.3 3.5h0m.3-.8h0m.3-4.1h0m.3-4.9h0m.3-3.8h0m.3-1.7h0m.3 2.9h0m.3 5.9h0m.3 3.8h0m.3 .7h0m.3-3h0m.3-4.2h0m.3-3.8h0m.3-2.6h0m.3 0h0m.3 1.3h0m.3 1.5h0m.3 1.5h0m.3 .6h0m.3 0h0m.3-.2h0m.3-.3h0m.3 0h0m.3 1.4h0m.3 2.2h0m.3 2.4h0m.3 1h0m.3-2h0m.3-1.3h0m.3 1h0m.3 3.8h0m.3 3.3h0m.3 1.3h0m.3-1.2h0m.3-4.5h0m.3-4.7h0m.3-3.4h0m.3-1.4h0m.3 1.7h0m.3 1.1h0m.3-1.3h0m.3-4.5h0m.3-7.3h0m.3-6.3h0m.3-3.7h0m.3 .2h0m.3 6.1h0m.3 7.1h0m.3 6.4h0m.3 4h0m.3 .3h0m.3 .2h0m.3 1.4h0m.3 3.5h0m.3 5.6h0m.3 2.9h0m.3-.8h0m.3-5.7h0m.3-9h0m.3-7.7h0m.3-4.9h0m.3-.2h0m.3 4.7h0m.3 6.3h0m.3 6.7h0m.3 6.2h0m.3 2.7h0m.3-.6h0m.3-3.1h0m.3-4.5h0m.3-2.4h0m.3 .2h0m.3 2.1h0m.3 2.7h0m.3 .1h0m.3-1.3h0m.3-1.9h0m.3-1.2h0m.3 1.6h0m.3 2.7h0m.3 2.8h0m.3 1.4h0m.3-2.4h0m.3-4.3h0m.3-5.3h0m.3-4.8h0m.3-1.3h0m.3 1.7h0m.3 4.2h0m.3 5.2h0m.3 3.4h0m.3 1.1h0m.3-1.1h0m.3-2.7h0m.3-3.5h0m.3-3.5h0m.3-3.5h0m.3-2.7h0m.3-1.1h0m.3-.3h0m.3 .5h0m.3 .5h0m.3-.2h0m.3-1.3h0m.3-2.1h0m.3-2.4h0m.3-1.6h0m.3 .3h0m.3 2.7h0m.3 5.4h0m.3 5h0m.3 3h0m.3 .4h0m.3-2.2h0m.3-2.8h0m.3-2.6h0m.3-1.8h0m.3 1.4h0m.3 4.6h0m.3 6.1h0m.3 6.7h0m.3 4.3h0m.3 0h0m.3-4h0m.3-7.7h0m.3-9.6h0m.3-8.4h0m.3-5.7h0m.3-1.7h0m.3 8.9h0m.3 12h0m.3 11.9h0m.3 9h0m.3-2.4h0m.3-6.8h0m.3-9h0m.3-9h0m.3-2.7h0m.3 .3h0m.3 2.4h0m.3 3.7h0m.3 4.3h0m.3 4.1h0m.3 3.7h0m.3 2.8h0m.3 .6h0m.3-1.8h0m.3-3.7h0m.3-4.9h0m.3-3.8h0m.3-1h0m.3 2.5h0m.3 7.1h0m.3 8.2h0m.3 5.5h0m.3 2.1h0m.3-2.2h0m.3-4.8h0m.3-5.5h0m.3-5.8h0m.3-5.1h0m.3-3.4h0m.3-3h0m.3-2.9h0m.3-2.5h0m.3-1.9h0m.3-1.1h0m.3 0h0m.3 2.5h0m.3 4.8h0m.3 5.4h0m.3 5.4h0m.3 4.1h0m.3 1.3h0m.3-.4h0m.3-1.6h0m.3-2.2h0m.3-1.6h0m.3-.7h0m.3 .2h0m.3 1.2h0m.3 1.5h0m.3 2h0m.3 2.7h0m.3 3.1h0m.3 2.6h0m.3 1.3h0m.3-.3h0m.3-3.7h0m.3-5.5h0m.3-6.2h0m.3-6.5h0m.3-5.4h0m.3-3.1h0m.3-.9h0m.3 1.4h0m.3 3.4h0m.3 4.1h0m.3 4.3h0m.3 4h0m.3 2.7h0m.3 .8h0m.3-.7h0m.3-2.3h0m.3-3.1h0m.3-2.6h0m.3-1.8h0m.3-.7h0m.3-.5h0m.3-.9h0m.3-1.3h0m.3-1.8h0m.3-2h0m.3-1.7h0m.3-1.1h0m.3-.3h0m.3 1.5h0m.3 2.5h0m.3 3.3h0m.3 3.8h0m.3 4h0m.3 3.6h0m.3 3.4h0m.3 3h0m.3 2.4h0m.3 .1h0m.3-2.1h0m.3-4.3h0m.3-4.1h0m.3-2.1h0m.3 .8h0m.3 5.3h0m.3 7.6h0m.3 6.8h0m.3 4.3h0m.3-.9h0m.3-7.2h0m.3-9.6h0m.3-10.6h0m.3-9.4h0m.3-4.2h0m.3 1.7h0m.3 6.7h0m.3 9h0m.3 3.2h0m.3 .5h0m.3-1.4h0m.3-1.5h0m.3-.5h0m.3 .1h0m.3 .5h0m.3 .8h0m.3 1h0m.3 1.3h0m.3 1.6h0m.3 2.7h0m.3 3.3h0m.3 3.2h0m.3 2.9h0m.3 2.1h0m.3 .3h0m.3-1.9h0m.3-4.5h0m.3-7h0m.3-7.7h0m.3-7.4h0m.3-6.6h0m.3-3.8h0m.3 .1h0m.3 3.6h0m.3 6.8h0m.3 8.5h0m.3 7.5h0m.3 5h0m.3 1.9h0m.3-1.6h0m.3-2.7h0m.3-3.3h0m.3-3.6h0m.3-3.2h0m.3-2.2h0m.3-1h0m.3 .3h0m.3 1.1h0m.3 1.2h0m.3 .8h0m.3 .2h0m.3-2.2h0m.3-3.1h0m.3-3.1h0m.3-2.2h0m.3 2.4h0m.3 6.2h0m.3 8.4h0m.3 8.9h0m.3 4.1h0m.3-1.2h0m.3-5.6h0m.3-8.8h0m.3-7.9h0m.3-4.3h0m.3-.3h0m.3 3.9h0m.3 5.6h0m.3 5h0m.3 3.2h0m.3-.2h0m.3-2.8h0m.3-1.8h0m.3 .1h0m.3 3h0m.3 2.7h0m.3 .2h0m.3-2.5h0m.3-5.3h0m.3-5.4h0m.3-3.6h0m.3-1h0m.3 3.4h0m.3 5.8h0m.3 5.3h0m.3 3.6h0m.3-1h0m.3-5.6h0m.3-7h0m.3-7.1h0m.3-4.2h0m.3 0h0m.3 1.8h0m.3 2.8h0m.3 3.1h0m.3 2.4h0m.3 2.1h0m.3 1.6h0m.3 1.2h0m.3 .2h0m.3-.4h0m.3-.7h0m.3-.9h0m.3-.5h0m.3 0h0m.3 .8h0m.3 1.7h0m.3 2h0m.3 1.9h0m.3 1.6h0m.3 .5h0m.3 0h0m.3-.1h0m.3-.2h0m.3-.3h0m.3-.3h0m.3-.4h0m.3-.5h0m.3-.8h0m.3-1h0m.3-1.2h0m.3-1.3h0m.3-1.4h0m.3-1.8h0m.3-2.1h0m.3-2.5h0m.3-2.4h0m.3-1.9h0m.3-.8h0m.3 .4h0m.3 4h0m.3 4.6h0m.3 4h0m.3 2.4h0m.3-1.4h0m.3-2.3h0m.3-2.9h0m.3-2.6h0m.3-.8h0m.3-.1h0m.3 .3h0m.3 .6h0m.3 .7h0m.3 .8h0m.3 1h0m.3 1h0m.3 1h0m.3 1.1h0m.3 1.3h0m.3 1.8h0m.3 1.8h0m.3 1.6h0m.3 1.1h0m.3 .2h0m.3-1h0m.3-1.8h0m.3-2.1h0m.3-2.3h0m.3-1.7h0m.3-.8h0m.3 .3h0m.3 2.1h0m.3 3.2h0m.3 3.5h0m.3 3.2h0m.3 2.2h0m.3-.4h0m.3-2.6h0m.3-4.7h0m.3-5.3h0m.3-3.3h0m.3 0h0m.3 3.8h0m.3 7.9h0m.3 7.2h0m.3 4.3h0m.3 .8h0m.3-2.4h0m.3-3.2h0m.3-2.9h0m.3-2h0m.3 .1h0m.3 .7h0m.3 .6h0m.3-.2h0m.3-5.7h0m.3-8.6h0m.3-8.8h0m.3-7.2h0m.3-.8h0m.3 3.4h0m.3 5.7h0m.3 6.4h0m.3 4.4h0m.3 1.3h0m.3 0h0m.3-.4h0m.3-.4h0m.3-.3h0m.3 1.4h0m.3 4.2h0m.3 6.6h0m.3 2.3h0m.3-2.7h0m.3-8.2h0m.3-14.4h0" stroke="#3874bc" stroke-width="1.45" stroke-linecap="round" fill="none"/>
<use href="#p03" stroke="#d83838" stroke-width="0.95" stroke-dasharray="1.7 1.5"/>
</g>
<text x="538.90" y="27.75" text-anchor="end" font-size="9.8" fill="#444444">2.5</text>
<path d="M540.30 24.35H541.5" stroke="#555" stroke-width="0.8"/>
<text x="538.90" y="45.70" text-anchor="end" font-size="9.8" fill="#444444">0.0</text>
<path d="M540.30 42.30H541.5" stroke="#555" stroke-width="0.8"/>
<text x="538.90" y="63.65" text-anchor="end" font-size="9.8" fill="#444444">2.5</text>
<path d="M519.25 60.55H525.25" stroke="#444444" stroke-width="0.75"/>
<path d="M540.30 60.25H541.5" stroke="#555" stroke-width="0.8"/>
<text x="541.50" y="78.30" text-anchor="middle" font-size="9.8" fill="#444444">0</text>
<text x="587.83" y="78.30" text-anchor="middle" font-size="9.8" fill="#444444">20</text>
<text x="634.17" y="78.30" text-anchor="middle" font-size="9.8" fill="#444444">40</text>
<text x="680.50" y="78.30" text-anchor="middle" font-size="9.8" fill="#444444">60</text>
<text x="1.3" y="45.05" font-size="12" fill="#444444">1</text>
<clipPath id="c10"><rect x="39.5" y="79.8" width="139.3" height="55.8"/></clipPath>
<path d="M39.0 80.0H179.3" stroke="#e0e0e0" stroke-width="1.3"/>
<path d="M39.0 134.7H179.3" stroke="#d0d0d0" stroke-width="1.2"/>
<path d="M178.8 80.3V135.1" stroke="#cdcdcd" stroke-width="1.1"/>
<path d="M39.5 80.3V135.1" stroke="#c4c4c4" stroke-width="1.1"/>
<g clip-path="url(#c10)">
<path id="p10" d="M39.5 107.2L40.0 106.4 40.5 105.9 41.0 105.4 41.5 105.1 42.0 104.9 42.5 104.8 43.0 104.7 43.5 104.8 44.0 105.3 44.5 106.1 45.0 106.8 45.5 107.2 46.0 106.9 46.5 105.6 47.0 103.5 47.5 101.0 48.0 98.6 48.5 96.6 49.0 95.4 49.6 95.5 50.1 97.4 50.6 100.7 51.1 104.6 51.6 108.4 52.1 111.5 52.6 113.0 53.1 112.8 53.6 111.7 54.1 109.9 54.6 108.0 55.1 106.3 55.6 105.1 56.1 104.7 56.6 105.5 57.1 107.1 57.6 109.2 58.1 111.3 58.6 113.2 59.1 114.4 59.6 114.4 60.1 112.5 60.6 109.0 61.1 104.6 61.6 99.8 62.1 95.4 62.6 92.0 63.1 90.2 63.6 90.4 64.1 92.4 64.6 95.8 65.1 100.2 65.6 105.0 66.1 110.0 66.6 114.6 67.1 118.5 67.6 121.2 68.1 122.4 68.6 122.2 69.1 121.5 69.7 120.7 70.2 120.2 70.7 120.1 71.2 120.4 71.7 120.8 72.2 121.1 72.7 121.2 73.2 120.6 73.7 119.1 74.2 117.0 74.7 114.4 75.2 111.4 75.7 108.2 76.2 105.0 76.7 101.9 77.2 99.2 77.7 96.9 78.2 95.2 78.7 94.4 79.2 94.5 79.7 95.4 80.2 97.0 80.7 99.2 81.2 101.8 81.7 104.6 82.2 107.6 82.7 110.5 83.2 113.3 83.7 115.8 84.2 117.9 84.7 119.3 85.2 120.0 85.7 119.9 86.2 118.8 86.7 116.9 87.2 114.3 87.7 111.3 88.2 107.8 88.7 104.2 89.3 100.6 89.8 97.0 90.3 93.6 90.8 90.6 91.3 88.2 91.8 86.4 92.3 85.5 92.8 85.6 93.3 87.1 93.8 89.7 94.3 93.1 94.8 97.0 95.3 101.1 95.8 105.1 96.3 108.5 96.8 111.2 97.3 112.8 97.8 113.0 98.3 112.4 98.8 111.4 99.3 110.4 99.8 109.9 100.3 110.3 100.8 111.6 101.3 113.5 101.8 115.5 102.3 117.3 102.8 118.4 103.3 118.5 103.8 117.1 104.3 114.7 104.8 111.6 105.3 108.1 105.8 104.7 106.3 101.6 106.8 99.4 107.3 98.2 107.8 98.5 108.3 100.5 108.8 103.5 109.4 107.2 109.9 111.2 110.4 114.8 110.9 117.7 111.4 119.3 111.9 119.4 112.4 118.7 112.9 117.6 113.4 116.2 113.9 115.0 114.4 114.0 114.9 113.6 115.4 114.1 115.9 115.4 116.4 117.2 116.9 119.0 117.4 120.5 117.9 121.3 118.4 120.8 118.9 119.0 119.4 116.1 119.9 112.4 120.4 108.2 120.9 103.7 121.4 99.2 121.9 95.1 122.4 91.5 122.9 88.8 123.4 87.3 123.9 87.3 124.4 88.7 124.9 91.3 125.4 94.8 125.9 98.6 126.4 102.5 126.9 106.1 127.4 109.0 127.9 110.8 128.4 111.1 128.9 110.1 129.5 108.1 130.0 105.9 130.5 103.9 131.0 102.9 131.5 103.2 132.0 104.8 132.5 107.0 133.0 109.1 133.5 110.4 134.0 110.2 134.5 107.8 135.0 103.7 135.5 98.8 136.0 93.8 136.5 89.4 137.0 86.5 137.5 85.6 138.0 87.4 138.5 91.3 139.0 96.7 139.5 102.8 140.0 109.0 140.5 114.7 141.0 119.3 141.5 122.0 142.0 122.3 142.5 121.3 143.0 119.6 143.5 117.6 144.0 115.9 144.5 114.8 145.0 114.6 145.5 114.7 146.0 114.9 146.5 115.0 147.0 115.1 147.5 114.3 148.0 112.5 148.5 110.1 149.1 107.4 149.6 104.8 150.1 102.9 150.6 101.9 151.1 102.1 151.6 103.6 152.1 106.0 152.6 109.1 153.1 112.5 153.6 116.0 154.1 119.4 154.6 122.2 155.1 124.4 155.6 125.6 156.1 125.5 156.6 124.1 157.1 121.8 157.6 118.8 158.1 115.3 158.6 111.6 159.1 108.1 159.6 105.0 160.1 102.5 160.6 100.8 161.1 99.1 161.6 97.4 162.1 95.8 162.6 94.3 163.1 93.0 163.6 91.9 164.1 91.0 164.6 90.5 165.1 90.3 165.6 91.3 166.1 93.9 166.6 97.6 167.1 102.0 167.6 106.7 168.1 111.2 168.6 115.1 169.2 118.0 169.7 119.4 170.2 119.1 170.7 117.5 171.2 115.1 171.7 112.4 172.2 109.7 172.7 107.7 173.2 106.4 173.7 105.5 174.2 104.7 174.7 103.8 175.2 102.7 175.7 101.2 176.2 99.1 176.7 96.5 177.2 93.4 177.7 90.0 178.2 86.2 178.7 82.2" fill="none" stroke-linejoin="round"/>
<use href="#p10" stroke="#959595" stroke-width="1.0"/>
<use href="#p10" stroke="#d83838" stroke-width="1.05" stroke-dasharray="2.0 1.1"/>
</g>
<text x="36.90" y="86.04" text-anchor="end" font-size="9.8" fill="#444444">0.2</text>
<path d="M38.30 82.64H39.5" stroke="#555" stroke-width="0.8"/>
<text x="36.90" y="111.50" text-anchor="end" font-size="9.8" fill="#444444">0.0</text>
<path d="M38.30 108.10H39.5" stroke="#555" stroke-width="0.8"/>
<text x="36.90" y="136.96" text-anchor="end" font-size="9.8" fill="#444444">0.2</text>
<path d="M17.25 133.86H23.25" stroke="#444444" stroke-width="0.75"/>
<path d="M38.30 133.56H39.5" stroke="#555" stroke-width="0.8"/>
<text x="39.50" y="144.00" text-anchor="middle" font-size="9.8" fill="#444444">0</text>
<text x="85.93" y="144.00" text-anchor="middle" font-size="9.8" fill="#444444">20</text>
<text x="132.37" y="144.00" text-anchor="middle" font-size="9.8" fill="#444444">40</text>
<text x="178.80" y="144.00" text-anchor="middle" font-size="9.8" fill="#444444">60</text>
<clipPath id="c11"><rect x="206.6" y="79.8" width="139.70000000000002" height="55.8"/></clipPath>
<path d="M206.1 80.0H346.8" stroke="#e0e0e0" stroke-width="1.3"/>
<path d="M206.1 134.7H346.8" stroke="#d0d0d0" stroke-width="1.2"/>
<path d="M346.3 80.3V135.1" stroke="#cdcdcd" stroke-width="1.1"/>
<path d="M206.6 80.3V135.1" stroke="#c4c4c4" stroke-width="1.1"/>
<g clip-path="url(#c11)">
<path id="p11" d="M206.6 107.2L207.1 106.1 207.6 105.3 208.1 104.9 208.6 104.7 209.1 104.7 209.6 105.4 210.1 106.9 210.6 108.8 211.1 110.3 211.6 110.9 212.1 110.0 212.6 107.8 213.1 104.9 213.6 101.8 214.1 99.2 214.6 97.6 215.1 97.7 215.6 100.3 216.1 104.7 216.7 109.8 217.2 114.9 217.7 119.0 218.2 121.1 218.7 120.6 219.2 118.0 219.7 114.1 220.2 109.5 220.7 105.1 221.2 101.4 221.7 99.3 222.2 99.5 222.7 102.0 223.2 105.8 223.7 110.0 224.2 113.7 224.7 115.9 225.2 115.7 225.7 113.4 226.2 109.7 226.7 105.1 227.2 100.3 227.7 95.8 228.2 92.3 228.7 90.5 229.2 91.0 229.7 94.8 230.2 100.8 230.7 108.1 231.2 115.5 231.7 122.1 232.2 126.7 232.7 128.3 233.2 126.8 233.7 123.2 234.2 118.5 234.7 113.3 235.2 108.7 235.7 105.4 236.2 104.3 236.8 104.7 237.3 105.7 237.8 106.9 238.3 108.1 238.8 108.9 239.3 109.2 239.8 108.3 240.3 106.2 240.8 103.4 241.3 100.3 241.8 97.3 242.3 95.0 242.8 93.7 243.3 93.6 243.8 94.4 244.3 95.9 244.8 97.8 245.3 100.2 245.8 102.8 246.3 105.6 246.8 108.5 247.3 111.2 247.8 113.8 248.3 116.0 248.8 117.8 249.3 119.0 249.8 119.5 250.3 118.7 250.8 116.1 251.3 112.3 251.8 107.9 252.3 103.5 252.8 99.7 253.3 97.1 253.8 96.2 254.3 95.6 254.8 95.2 255.3 94.8 255.8 94.5 256.3 94.4 256.9 94.7 257.4 96.3 257.9 98.8 258.4 102.1 258.9 105.8 259.4 109.8 259.9 113.8 260.4 117.4 260.9 120.5 261.4 122.8 261.9 124.1 262.4 123.9 262.9 121.7 263.4 118.3 263.9 114.0 264.4 109.8 264.9 106.0 265.4 103.5 265.9 102.8 266.4 104.1 266.9 106.7 267.4 109.9 267.9 112.9 268.4 115.0 268.9 115.5 269.4 114.2 269.9 111.3 270.4 107.5 270.9 103.4 271.4 99.4 271.9 96.2 272.4 94.3 272.9 94.2 273.4 96.0 273.9 99.2 274.4 103.3 274.9 107.9 275.4 112.5 275.9 116.7 276.4 119.9 277.0 121.8 277.5 121.6 278.0 119.2 278.5 115.3 279.0 110.6 279.5 106.2 280.0 102.8 280.5 101.4 281.0 102.1 281.5 104.2 282.0 107.0 282.5 110.0 283.0 112.6 283.5 114.3 284.0 114.5 284.5 112.9 285.0 110.0 285.5 106.2 286.0 101.9 286.5 97.6 287.0 93.7 287.5 90.8 288.0 89.2 288.5 89.5 289.0 91.4 289.5 94.6 290.0 98.8 290.5 103.5 291.0 108.5 291.5 113.3 292.0 117.6 292.5 120.9 293.0 123.0 293.5 123.4 294.0 121.4 294.5 117.5 295.0 112.6 295.5 107.4 296.0 102.7 296.6 99.5 297.1 98.4 297.6 100.0 298.1 103.5 298.6 107.8 299.1 112.0 299.6 115.1 300.1 116.1 300.6 113.1 301.1 107.0 301.6 99.4 302.1 92.4 302.6 87.6 303.1 86.9 303.6 90.7 304.1 97.7 304.6 106.5 305.1 115.7 305.6 124.0 306.1 130.0 306.6 132.3 307.1 130.9 307.6 127.1 308.1 121.8 308.6 115.7 309.1 109.7 309.6 104.4 310.1 100.7 310.6 99.4 311.1 100.6 311.6 103.2 312.1 106.3 312.6 108.6 313.1 109.1 313.6 107.8 314.1 105.3 314.6 102.3 315.1 99.6 315.6 97.9 316.1 97.9 316.7 99.5 317.2 102.2 317.7 105.7 318.2 109.6 318.7 113.4 319.2 116.7 319.7 119.2 320.2 120.4 320.7 120.1 321.2 118.3 321.7 115.4 322.2 111.8 322.7 107.7 323.2 103.6 323.7 99.7 324.2 96.5 324.7 94.1 325.2 93.0 325.7 93.4 326.2 94.7 326.7 96.6 327.2 98.8 327.7 100.8 328.2 102.2 328.7 102.8 329.2 102.7 329.7 102.5 330.2 102.3 330.7 102.1 331.2 102.5 331.7 104.5 332.2 107.6 332.7 111.5 333.2 115.7 333.7 119.6 334.2 122.9 334.7 124.9 335.2 125.3 335.7 123.3 336.2 119.3 336.8 114.1 337.3 108.5 337.8 103.2 338.3 99.0 338.8 96.5 339.3 96.5 339.8 98.5 340.3 101.3 340.8 103.8 341.3 105.0 341.8 104.0 342.3 101.4 342.8 98.0 343.3 94.7 343.8 92.2 344.3 91.5 344.8 93.3 345.3 97.2 345.8 102.8 346.3 109.5" fill="none" stroke-linejoin="round"/>
<use href="#p11" stroke="#959595" stroke-width="1.0"/>
<use href="#p11" stroke="#d83838" stroke-width="1.05" stroke-dasharray="2.0 1.1"/>
</g>
<text x="204.00" y="85.60" text-anchor="end" font-size="9.8" fill="#444444">0.25</text>
<path d="M205.40 82.20H206.6" stroke="#555" stroke-width="0.8"/>
<text x="204.00" y="111.30" text-anchor="end" font-size="9.8" fill="#444444">0.00</text>
<path d="M205.40 107.90H206.6" stroke="#555" stroke-width="0.8"/>
<text x="204.00" y="137.00" text-anchor="end" font-size="9.8" fill="#444444">0.25</text>
<path d="M179.45 133.90H185.45" stroke="#444444" stroke-width="0.75"/>
<path d="M205.40 133.60H206.6" stroke="#555" stroke-width="0.8"/>
<text x="206.60" y="144.00" text-anchor="middle" font-size="9.8" fill="#444444">0</text>
<text x="253.17" y="144.00" text-anchor="middle" font-size="9.8" fill="#444444">20</text>
<text x="299.73" y="144.00" text-anchor="middle" font-size="9.8" fill="#444444">40</text>
<text x="346.30" y="144.00" text-anchor="middle" font-size="9.8" fill="#444444">60</text>
<clipPath id="c12"><rect x="374.4" y="79.8" width="139.0" height="55.8"/></clipPath>
<path d="M373.9 80.0H513.9" stroke="#e0e0e0" stroke-width="1.3"/>
<path d="M373.9 134.7H513.9" stroke="#d0d0d0" stroke-width="1.2"/>
<path d="M513.4 80.3V135.1" stroke="#cdcdcd" stroke-width="1.1"/>
<path d="M374.4 80.3V135.1" stroke="#c4c4c4" stroke-width="1.1"/>
<g clip-path="url(#c12)">
<path id="p12" d="M374.4 107.2L374.9 105.7 375.4 104.8 375.9 104.8 376.4 106.1 376.9 108.2 377.4 110.4 377.9 111.8 378.4 111.8 378.9 109.2 379.4 105.0 379.9 100.8 380.4 97.9 380.9 97.7 381.4 100.4 381.9 105.1 382.4 110.6 382.9 115.9 383.4 120.1 383.9 122.0 384.4 120.7 384.9 116.7 385.4 110.9 385.9 104.6 386.4 98.8 386.9 94.7 387.4 93.3 387.9 94.9 388.5 98.6 389.0 103.5 389.5 108.9 390.0 113.8 390.5 117.4 391.0 119.0 391.5 117.9 392.0 114.5 392.5 109.8 393.0 104.5 393.5 99.5 394.0 95.6 394.5 93.6 395.0 94.5 395.5 98.4 396.0 104.4 396.5 111.3 397.0 118.2 397.5 124.0 398.0 127.6 398.5 128.0 399.0 124.7 399.5 118.7 400.0 111.5 400.5 104.2 401.0 98.2 401.5 94.7 402.0 94.8 402.5 96.8 403.0 99.9 403.5 103.6 404.0 107.1 404.5 109.9 405.0 111.2 405.5 110.6 406.0 108.5 406.5 105.6 407.0 102.5 407.5 99.7 408.0 98.0 408.5 97.9 409.0 99.4 409.5 102.0 410.0 105.3 410.5 108.7 411.0 111.7 411.5 113.9 412.0 114.6 412.5 114.3 413.0 113.6 413.5 112.9 414.0 112.4 414.5 112.4 415.0 112.5 415.5 112.7 416.0 112.7 416.6 111.9 417.1 110.0 417.6 107.4 418.1 104.5 418.6 101.5 419.1 98.8 419.6 96.8 420.1 95.8 420.6 96.2 421.1 98.3 421.6 101.1 422.1 103.8 422.6 105.6 423.1 106.2 423.6 106.5 424.1 106.7 424.6 107.2 425.1 108.5 425.6 110.8 426.1 113.7 426.6 116.5 427.1 118.6 427.6 119.5 428.1 118.4 428.6 115.6 429.1 111.6 429.6 107.1 430.1 102.6 430.6 98.7 431.1 96.2 431.6 95.6 432.1 97.3 432.6 100.8 433.1 105.3 433.6 110.0 434.1 113.9 434.6 116.4 435.1 116.5 435.6 114.2 436.1 110.3 436.6 105.6 437.1 101.1 437.6 97.6 438.1 95.9 438.6 96.7 439.1 99.4 439.6 103.4 440.1 108.1 440.6 112.9 441.1 117.2 441.6 120.6 442.1 122.3 442.6 121.8 443.1 119.2 443.6 115.0 444.2 110.0 444.7 104.7 445.2 100.0 445.7 96.3 446.2 94.5 446.7 95.1 447.2 98.0 447.7 102.3 448.2 107.2 448.7 111.9 449.2 115.3 449.7 116.8 450.2 116.0 450.7 113.5 451.2 110.1 451.7 106.1 452.2 102.2 452.7 98.8 453.2 96.6 453.7 95.9 454.2 97.0 454.7 99.5 455.2 102.8 455.7 106.7 456.2 110.8 456.7 114.5 457.2 117.6 457.7 119.6 458.2 120.1 458.7 118.6 459.2 115.6 459.7 111.4 460.2 106.7 460.7 101.8 461.2 97.4 461.7 93.9 462.2 91.8 462.7 91.9 463.2 95.3 463.7 101.1 464.2 107.9 464.7 114.1 465.2 118.5 465.7 119.4 466.2 116.2 466.7 109.9 467.2 102.4 467.7 95.0 468.2 89.6 468.7 87.7 469.2 90.7 469.7 97.7 470.2 107.0 470.7 116.8 471.2 125.4 471.8 131.1 472.3 132.2 472.8 128.5 473.3 121.5 473.8 112.7 474.3 103.6 474.8 95.8 475.3 90.7 475.8 89.8 476.3 92.2 476.8 96.6 477.3 102.2 477.8 107.7 478.3 112.4 478.8 115.1 479.3 115.0 479.8 112.7 480.3 109.1 480.8 105.0 481.3 101.5 481.8 99.4 482.3 99.6 482.8 101.6 483.3 104.9 483.8 108.8 484.3 112.8 484.8 116.1 485.3 118.2 485.8 118.5 486.3 117.4 486.8 115.5 487.3 112.8 487.8 109.6 488.3 106.3 488.8 103.1 489.3 100.1 489.8 97.7 490.3 96.1 490.8 95.5 491.3 96.5 491.8 98.9 492.3 102.2 492.8 105.8 493.3 109.3 493.8 112.0 494.3 113.5 494.8 113.3 495.3 111.7 495.8 109.6 496.3 107.4 496.8 105.8 497.3 105.5 497.8 106.8 498.3 109.4 498.8 112.6 499.3 115.6 499.9 118.0 500.4 119.1 500.9 118.0 501.4 114.5 501.9 109.6 502.4 104.1 502.9 98.7 503.4 94.3 503.9 91.8 504.4 91.9 504.9 94.6 505.4 98.9 505.9 104.1 506.4 109.1 506.9 113.0 507.4 115.0 507.9 114.0 508.4 110.0 508.9 104.8 509.4 100.1 509.9 97.5 510.4 97.9 510.9 99.9 511.4 103.4 511.9 108.4 512.4 114.9 512.9 122.9 513.4 132.4" fill="none" stroke-linejoin="round"/>
<use href="#p12" stroke="#959595" stroke-width="1.0"/>
<use href="#p12" stroke="#d83838" stroke-width="1.05" stroke-dasharray="2.0 1.1"/>
</g>
<text x="371.80" y="96.35" text-anchor="end" font-size="9.8" fill="#444444">0.25</text>
<path d="M373.20 92.95H374.4" stroke="#555" stroke-width="0.8"/>
<text x="371.80" y="111.10" text-anchor="end" font-size="9.8" fill="#444444">0.00</text>
<path d="M373.20 107.70H374.4" stroke="#555" stroke-width="0.8"/>
<text x="371.80" y="125.85" text-anchor="end" font-size="9.8" fill="#444444">0.25</text>
<path d="M347.25 122.75H353.25" stroke="#444444" stroke-width="0.75"/>
<path d="M373.20 122.45H374.4" stroke="#555" stroke-width="0.8"/>
<text x="374.40" y="144.00" text-anchor="middle" font-size="9.8" fill="#444444">0</text>
<text x="420.73" y="144.00" text-anchor="middle" font-size="9.8" fill="#444444">20</text>
<text x="467.07" y="144.00" text-anchor="middle" font-size="9.8" fill="#444444">40</text>
<text x="513.40" y="144.00" text-anchor="middle" font-size="9.8" fill="#444444">60</text>
<clipPath id="c13"><rect x="541.5" y="79.8" width="139.0" height="55.8"/></clipPath>
<path d="M541.0 80.0H681.0" stroke="#e0e0e0" stroke-width="1.3"/>
<path d="M541.0 134.7H681.0" stroke="#d0d0d0" stroke-width="1.2"/>
<path d="M680.5 80.3V135.1" stroke="#cdcdcd" stroke-width="1.1"/>
<path d="M541.5 80.3V135.1" stroke="#8c8c8c" stroke-width="1.1"/>
<g clip-path="url(#c13)">
<path d="M541.5 107.2H680.5" stroke="#707070" stroke-width="1.2"/>
<path d="M541.8 110.2L542.2 107.9 542.6 102.8 543.0 105.4 543.4 111.6 543.8 109.3 544.2 103.1 544.6 105.5 545.0 109.6 545.4 107.8 545.8 106.3 546.2 105.9 546.6 108.5 547.0 108.4 547.4 103.6 547.8 105.0 548.2 109.3 548.6 111.0 549.0 106.8 549.4 104.3 549.8 107.5 550.2 113.8 550.6 107.2 551.0 98.6 551.4 106.9 551.8 115.7 552.2 109.4 552.6 101.8 553.0 104.8 553.4 110.8 553.8 108.7 554.2 103.1 554.6 104.1 555.0 117.0 555.4 111.5 555.8 99.1 556.2 100.6 556.6 115.3 557.0 115.3 557.4 102.7 557.8 101.8 558.2 109.4 558.6 111.2 559.0 107.0 559.4 105.3 559.8 107.0 560.2 110.1 560.6 107.5 561.0 105.7 561.4 106.9 561.8 108.6 562.2 107.7 562.6 105.8 563.0 106.6 563.4 107.7 563.8 107.7 564.2 106.3 564.6 106.3 565.0 108.6 565.4 108.3 565.8 105.5 566.2 105.5 566.6 108.3 567.0 108.4 567.4 106.7 567.8 105.5 568.2 107.5 568.6 109.5 569.0 107.1 569.4 105.1 569.8 106.8 570.2 107.9 570.6 107.4 571.0 106.7 571.4 107.0 571.8 107.8 572.2 107.6 572.6 105.8 573.0 105.5 573.4 108.1 573.8 107.9 574.2 106.5 574.6 106.0 575.0 108.1 575.4 108.0 575.8 106.9 576.2 105.6 576.6 107.8 577.0 108.2 577.4 107.1 577.8 106.6 578.2 107.4 578.6 108.6 579.0 107.1 579.4 106.3 579.8 107.5 580.2 108.5 580.6 107.0 581.0 105.4 581.4 107.4 581.8 109.9 582.2 106.9 582.6 102.2 583.0 107.0 583.4 113.5 583.8 108.0 584.2 99.6 584.6 105.4 585.0 115.7 585.4 110.6 585.8 98.5 586.2 103.3 586.6 109.9 587.0 109.7 587.4 105.6 587.8 104.6 588.2 109.9 588.6 108.9 589.0 104.2 589.4 101.5 589.8 110.6 590.2 112.2 590.6 105.3 591.0 100.0 591.4 109.8 591.8 113.3 592.2 106.6 592.6 100.1 593.0 107.0 593.4 111.5 593.8 108.2 594.2 102.4 594.6 104.1 595.0 112.4 595.4 110.9 595.8 104.3 596.2 100.9 596.6 109.0 597.0 113.0 597.4 105.4 597.8 94.9 598.2 106.5 598.6 115.0 599.0 107.6 599.4 99.0 599.8 105.2 600.2 111.6 600.6 108.8 601.0 104.4 601.4 105.5 601.8 116.3 602.2 108.0 602.6 103.4 603.0 104.0 603.4 110.4 603.8 112.5 604.2 100.2 604.6 97.7 605.0 108.9 605.4 110.0 605.8 104.2 606.2 103.2 606.6 106.6 607.0 109.6 607.4 107.0 607.8 104.3 608.2 105.8 608.6 111.4 609.0 108.7 609.4 102.1 609.8 105.0 610.2 110.8 610.6 109.3 611.0 104.6 611.4 106.1 611.8 109.0 612.2 108.8 612.6 106.3 613.0 105.3 613.4 108.5 613.8 110.1 614.2 105.7 614.6 103.7 615.0 107.8 615.4 109.7 615.8 107.0 616.2 105.4 616.6 107.1 617.0 108.8 617.4 107.7 617.8 106.1 618.2 106.7 618.6 108.0 619.0 107.8 619.4 105.3 619.8 106.1 620.2 109.2 620.6 108.8 621.0 105.4 621.4 105.9 621.8 108.7 622.2 108.2 622.6 104.1 623.0 105.7 623.4 108.0 623.8 111.3 624.2 106.0 624.6 98.3 625.0 106.0 625.4 117.6 625.8 111.4 626.2 99.3 626.6 105.6 627.0 112.4 627.4 111.1 627.8 102.3 628.2 105.2 628.6 114.1 629.0 112.4 629.4 100.9 629.8 102.7 630.2 109.8 630.6 109.5 631.0 106.0 631.4 105.8 631.8 108.9 632.2 109.7 632.6 102.1 633.0 104.5 633.4 109.8 633.8 115.8 634.2 106.5 634.6 99.2 635.0 107.3 635.4 118.1 635.8 109.1 636.2 97.1 636.6 104.6 637.0 113.4 637.4 110.3 637.8 102.2 638.2 104.6 638.6 114.0 639.0 109.9 639.4 102.9 639.8 103.8 640.2 111.6 640.6 109.5 641.0 105.7 641.4 106.1 641.8 107.9 642.2 107.9 642.6 106.6 643.0 106.6 643.4 107.8 643.8 108.0 644.2 106.8 644.6 105.2 645.0 108.0 645.4 109.8 645.8 106.6 646.2 105.1 646.6 107.5 647.0 109.7 647.4 107.4 647.8 102.7 648.2 106.8 648.6 110.1 649.0 108.1 649.4 102.7 649.8 106.5 650.2 109.7 650.6 108.5 651.0 105.7 651.4 106.2 651.8 108.5 652.2 107.8 652.6 106.1 653.0 105.4 653.4 110.3 653.8 111.8 654.2 104.3 654.6 103.4 655.0 111.3 655.4 118.6 655.8 108.3 656.2 103.5 656.6 109.1 657.0 117.8 657.4 110.6 657.8 102.0 658.2 106.8 658.6 116.0 659.0 114.2 659.4 100.7 659.8 101.6 660.2 115.7 660.6 114.9 661.0 105.4 661.4 104.4 661.8 110.7 662.2 110.8 662.6 108.0 663.0 105.9 663.4 108.2 663.8 111.3 664.2 107.4 664.6 103.6 665.0 105.6 665.4 113.5 665.8 109.8 666.2 101.8 666.6 102.9 667.0 114.0 667.4 112.4 667.8 104.3 668.2 104.3 668.6 112.0 669.0 110.2 669.4 102.9 669.8 103.5 670.2 110.7 670.6 113.3 671.0 99.3 671.4 100.3 671.8 113.5 672.2 114.9 672.6 100.7 673.0 98.7 673.4 112.2 673.8 115.4 674.2 101.7 674.6 95.7 675.0 109.6 675.4 119.0 675.8 106.7 676.2 98.0 676.6 106.7 677.0 113.2 677.4 108.4 677.8 102.8 678.2 106.3 678.6 111.3 679.0 110.9 679.4 102.1 679.8 103.8 680.2 111.7" fill="none" stroke="#d42a2a" stroke-width="1.0" stroke-dasharray="1.3 0.9"/>
<path d="M680.0 80.3V118.0" stroke="#d42a2a" stroke-width="1.0" stroke-dasharray="1.2 0.9"/>
</g>
<text x="538.90" y="92.90" text-anchor="end" font-size="9.8" fill="#444444">0.025</text>
<path d="M540.30 89.50H541.5" stroke="#555" stroke-width="0.8"/>
<text x="538.90" y="111.30" text-anchor="end" font-size="9.8" fill="#444444">0.000</text>
<path d="M540.30 107.90H541.5" stroke="#555" stroke-width="0.8"/>
<text x="538.90" y="129.70" text-anchor="end" font-size="9.8" fill="#444444">0.025</text>
<path d="M509.45 126.60H515.45" stroke="#444444" stroke-width="0.75"/>
<path d="M540.30 126.30H541.5" stroke="#555" stroke-width="0.8"/>
<text x="541.50" y="144.00" text-anchor="middle" font-size="9.8" fill="#444444">0</text>
<text x="587.83" y="144.00" text-anchor="middle" font-size="9.8" fill="#444444">20</text>
<text x="634.17" y="144.00" text-anchor="middle" font-size="9.8" fill="#444444">40</text>
<text x="680.50" y="144.00" text-anchor="middle" font-size="9.8" fill="#444444">60</text>
<text x="-0.6" y="110.80" font-size="12" fill="#444444">2</text>
<path d="M7.10 106.25L7.10 103.15M5.76 105.47L8.44 103.92M8.44 105.47L5.76 103.92" stroke="#444444" stroke-width="0.9" stroke-linecap="round"/>
<clipPath id="c20"><rect x="39.5" y="145.6" width="139.3" height="55.80000000000001"/></clipPath>
<path d="M39.0 145.7H179.3" stroke="#dcdcdc" stroke-width="1.3"/>
<path d="M39.0 200.9H179.3" stroke="#dcdcdc" stroke-width="1.3"/>
<path d="M178.8 146.1V200.9" stroke="#cdcdcd" stroke-width="1.1"/>
<path d="M39.5 146.1V200.9" stroke="#c4c4c4" stroke-width="1.1"/>
<g clip-path="url(#c20)">
<path id="p20" d="M39.5 173.2L40.0 173.2 40.5 173.2 41.0 173.1 41.5 173.0 42.0 172.9 42.5 172.6 43.0 172.3 43.5 171.8 44.0 171.4 44.5 171.1 45.0 171.0 45.5 171.1 46.0 171.5 46.5 171.9 47.0 172.3 47.5 172.5 48.0 172.1 48.5 171.0 49.0 169.4 49.6 167.5 50.1 165.6 50.6 164.0 51.1 162.9 51.6 162.5 52.1 163.3 52.6 165.2 53.1 167.7 53.6 170.5 54.1 173.3 54.6 175.5 55.1 176.9 55.6 177.1 56.1 176.4 56.6 175.0 57.1 173.4 57.6 171.7 58.1 170.2 58.6 169.3 59.1 169.2 59.6 170.0 60.1 171.4 60.6 173.0 61.1 174.4 61.6 175.3 62.1 175.4 62.6 174.3 63.1 172.5 63.6 170.3 64.1 168.3 64.6 167.0 65.1 166.6 65.6 167.5 66.1 169.4 66.6 171.9 67.1 174.8 67.6 177.8 68.1 180.7 68.6 183.1 69.1 184.8 69.7 185.5 70.2 185.4 70.7 185.3 71.2 185.0 71.7 184.8 72.2 184.7 72.7 184.6 73.2 184.7 73.7 184.9 74.2 185.0 74.7 183.9 75.2 181.5 75.7 178.4 76.2 175.0 76.7 171.8 77.2 169.3 77.7 168.1 78.2 168.5 78.7 169.8 79.2 171.8 79.7 174.1 80.2 176.3 80.7 178.0 81.2 179.0 81.7 178.8 82.2 177.1 82.7 174.4 83.2 171.4 83.7 168.4 84.2 166.2 84.7 165.1 85.2 165.7 85.7 167.7 86.2 170.5 86.7 173.5 87.2 176.2 87.7 178.0 88.2 178.3 88.7 176.6 89.3 173.3 89.8 168.8 90.3 163.8 90.8 158.7 91.3 154.0 91.8 150.5 92.3 148.4 92.8 148.4 93.3 149.6 93.8 151.9 94.3 155.0 94.8 158.6 95.3 162.7 95.8 167.0 96.3 171.3 96.8 175.4 97.3 179.1 97.8 182.2 98.3 184.5 98.8 185.9 99.3 186.0 99.8 184.6 100.3 182.0 100.8 178.7 101.3 175.0 101.8 171.3 102.3 167.9 102.8 165.4 103.3 164.1 103.8 164.6 104.3 167.4 104.8 171.9 105.3 177.4 105.8 183.1 106.3 188.3 106.8 192.4 107.3 194.5 107.8 194.1 108.3 192.1 108.8 188.8 109.4 184.9 109.9 180.7 110.4 176.8 110.9 173.8 111.4 172.0 111.9 171.9 112.4 172.9 112.9 174.6 113.4 176.7 113.9 179.1 114.4 181.4 114.9 183.5 115.4 185.1 115.9 186.0 116.4 186.0 116.9 185.5 117.4 184.7 117.9 183.7 118.4 182.6 118.9 180.7 119.4 177.9 119.9 174.5 120.4 170.8 120.9 167.1 121.4 163.6 121.9 160.5 122.4 158.3 122.9 157.2 123.4 157.3 123.9 158.2 124.4 159.7 124.9 161.5 125.4 163.6 125.9 165.7 126.4 167.6 126.9 169.1 127.4 170.1 127.9 170.3 128.4 170.1 128.9 169.8 129.5 169.4 130.0 168.9 130.5 168.4 131.0 167.9 131.5 167.2 132.0 166.4 132.5 165.6 133.0 164.9 133.5 164.4 134.0 164.5 134.5 165.0 135.0 165.7 135.5 166.4 136.0 166.8 136.5 166.8 137.0 166.4 137.5 165.6 138.0 164.8 138.5 164.1 139.0 163.7 139.5 163.9 140.0 165.2 140.5 167.5 141.0 170.4 141.5 173.7 142.0 177.2 142.5 180.6 143.0 183.7 143.5 186.2 144.0 187.8 144.5 188.4 145.0 188.0 145.5 187.1 146.0 185.7 146.5 184.2 147.0 182.6 147.5 181.0 148.0 179.6 148.5 177.8 149.1 175.9 149.6 174.0 150.1 172.3 150.6 170.9 151.1 170.1 151.6 170.0 152.1 171.5 152.6 174.4 153.1 178.3 153.6 182.6 154.1 187.0 154.6 190.9 155.1 194.0 155.6 195.6 156.1 195.5 156.6 193.7 157.1 190.7 157.6 186.7 158.1 182.3 158.6 177.6 159.1 173.2 159.6 169.5 160.1 166.7 160.6 165.3 161.1 165.0 161.6 164.8 162.1 164.7 162.6 164.6 163.1 164.4 163.6 164.1 164.1 163.7 164.6 163.2 165.1 162.7 165.6 162.3 166.1 162.2 166.6 162.3 167.1 162.6 167.6 163.1 168.1 163.7 168.6 164.4 169.2 165.1 169.7 165.8 170.2 166.5 170.7 167.1 171.2 167.6 171.7 168.1 172.2 168.6 172.7 169.2 173.2 169.7 173.7 170.2 174.2 170.5 174.7 170.8 175.2 171.0 175.7 170.9 176.2 170.0 176.7 168.5 177.2 166.5 177.7 164.1 178.2 161.4 178.7 158.5" fill="none" stroke-linejoin="round"/>
<use href="#p20" stroke="#7a7a7a" stroke-width="0.8"/>
<path d="M39.5 173.2h0m.3 0h0m.3 0h0m.3 0h0m.3-.1h0m.3 0h0m.3 0h0m.3-.1h0m.3-.1h0m.3-.1h0m.3-.2h0m.3-.2h0m.3-.2h0m.3-.3h0m.3-.2h0m.3-.2h0m.3-.2h0m.3-.2h0m.3-.1h0m.3 0h0m.3 .1h0m.3 .2h0m.3 .2h0m.3 .3h0m.3 .2h0m.3 .3h0m.3 .1h0m.3 .1h0m.3-.3h0m.3-.4h0m.3-.7h0m.3-.9h0m.3-1h0m.3-1.1h0m.3-1.2h0m.3-1.1h0m.3-1h0m.3-.9h0m.3-.7h0m.3-.4h0m.3-.2h0m.3 .3h0m.3 .6h0m.3 1.1h0m.3 1.3h0m.3 1.5h0m.3 1.6h0m.3 1.7h0m.3 1.6h0m.3 1.5h0m.3 1.4h0m.3 .9h0m.3 .8h0m.3 .2h0m.3-.1h0m.3-.5h0m.3-.7h0m.3-.8h0m.3-1h0m.3-1h0m.3-1h0m.3-1h0m.3-.8h0m.3-.6h0m.3-.3h0m.3-.1h0m.3 .3h0m.3 .5h0m.3 .8h0m.3 .9h0m.3 .9h0m.3 .9h0m.3 .9h0m.3 .5h0m.3 .4h0m.3 .1h0m.3-.4h0m.3-.7h0m.3-1h0m.3-1.2h0m.3-1.3h0m.3-1.2h0m.3-1.2h0m.3-.8h0m.3-.7h0m.3-.2h0m.3 .2h0m.3 .6h0m.3 1h0m.3 1.2h0m.3 1.5h0m.3 1.6h0m.3 1.8h0m.3 1.7h0m.3 1.8h0m.3 1.7h0m.3 1.6h0m.3 1.5h0m.3 1h0m.3 1h0m.3 .4h0m.3 .2h0m.3-.1h0m.3 0h0m.3-.1h0m.3-.2h0m.3-.1h0m.3-.2h0m.3-.1h0m.3 0h0m.3-.1h0m.3 0h0m.3 .1h0m.3 .1h0m.3 .1h0m.3 .1h0m.3-.3h0m.3-.6h0m.3-1.3h0m.3-1.4h0m.3-1.9h0m.3-1.9h0m.3-2.1h0m.3-1.9h0m.3-1.9h0m.3-1.5h0m.3-1.1h0m.3-.7h0m.3-.1h0m.3 .2h0m.3 .8h0m.3 .9h0m.3 1.2h0m.3 1.3h0m.3 1.4h0m.3 1.3h0m.3 1.2h0m.3 1.1h0m.3 .7h0m.3 .6h0m.3-.1h0m.3-.4h0m.3-1h0m.3-1.4h0m.3-1.6h0m.3-1.8h0m.3-1.8h0m.3-1.8h0m.3-1.5h0m.3-1.3h0m.3-.7h0m.3-.4h0m.3 .4h0m.3 .8h0m.3 1.2h0m.3 1.6h0m.3 1.6h0m.3 1.8h0m.3 1.7h0m.3 1.6h0m.3 1.2h0m.3 .9h0m.3 .2h0m.3-.4h0m.3-1h0m.3-1.8h0m.3-2.2h0m.3-2.6h0m.3-2.9h0m.3-3h0m.3-3h0m.3-3h0m.3-2.8h0m.3-2.5h0m.3-2.1h0m.3-1.4h0m.3-1.1h0m.3 0h0m.3 .3h0m.3 .8h0m.3 1.2h0m.3 1.4h0m.3 1.8h0m.3 2h0m.3 2.2h0m.3 2.3h0m.3 2.5h0m.3 2.5h0m.3 2.6h0m.3 2.6h0m.3 2.5h0m.3 2.4h0m.3 2.2h0m.3 2.1h0m.3 1.9h0m.3 1.5h0m.3 1.4h0m.3 .7h0m.3 .6h0m.3 0h0m.3-.5h0m.3-.8h0m.3-1.5h0m.3-1.7h0m.3-2h0m.3-2.1h0m.3-2.3h0m.3-2.2h0m.3-2.1h0m.3-2h0m.3-1.7h0m.3-1.5h0m.3-.8h0m.3-.5h0m.3 .3h0m.3 1.1h0m.3 1.6h0m.3 2.6h0m.3 2.9h0m.3 3.2h0m.3 3.4h0m.3 3.4h0m.3 3.2h0m.3 2.9h0m.3 2.5h0m.3 1.7h0m.3 1.3h0m.3 0h0m.3-.4h0m.3-1.2h0m.3-1.6h0m.3-2h0m.3-2.3h0m.3-2.4h0m.3-2.4h0m.3-2.4h0m.3-2.3h0m.3-2h0m.3-1.7h0m.3-1h0m.3-.6h0m.3 0h0m.3 .4h0m.3 .6h0m.3 1h0m.3 1.1h0m.3 1.3h0m.3 1.4h0m.3 1.4h0m.3 1.4h0m.3 1.3h0m.3 1.3h0m.3 1h0m.3 1h0m.3 .5h0m.3 .3h0m.3 0h0m.3-.2h0m.3-.3h0m.3-.5h0m.3-.5h0m.3-.6h0m.3-.7h0m.3-.6h0m.3-1.2h0m.3-1.3h0m.3-1.6h0m.3-1.9h0m.3-2h0m.3-2.2h0m.3-2.3h0m.3-2.2h0m.3-2.2h0m.3-2.1h0m.3-1.8h0m.3-1.6h0m.3-1.4h0m.3-.9h0m.3-.7h0m.3 0h0m.3 .2h0m.3 .6h0m.3 .7h0m.3 .9h0m.3 1.1h0m.3 1.1h0m.3 1.3h0m.3 1.2h0m.3 1.3h0m.3 1.1h0m.3 1.1h0m.3 .9h0m.3 .7h0m.3 .6h0m.3 .2h0m.3 .1h0m.3-.1h0m.3-.2h0m.3-.1h0m.3-.3h0m.3-.2h0m.3-.3h0m.3-.3h0m.3-.3h0m.3-.3h0m.3-.3h0m.3-.4h0m.3-.5h0m.3-.5h0m.3-.5h0m.3-.5h0m.3-.4h0m.3-.3h0m.3-.3h0m.3 0h0m.3 0h0m.3 .3h0m.3 .4h0m.3 .4h0m.3 .4h0m.3 .4h0m.3 .3h0m.3 .1h0m.3 0h0m.3-.2h0m.3-.3h0m.3-.4h0m.3-.4h0m.3-.5h0m.3-.4h0m.3-.5h0m.3-.2h0m.3-.1h0m.3 .1h0m.3 .5h0m.3 .8h0m.3 1.3h0m.3 1.5h0m.3 1.7h0m.3 1.9h0m.3 2h0m.3 2.1h0m.3 2.1h0m.3 2h0m.3 1.9h0m.3 1.9h0m.3 1.5h0m.3 1.3h0m.3 1h0m.3 .6h0m.3 .4h0m.3-.2h0m.3-.3h0m.3-.6h0m.3-.7h0m.3-.8h0m.3-.9h0m.3-.9h0m.3-1h0m.3-.9h0m.3-.9h0m.3-.9h0m.3-.9h0m.3-1h0m.3-1.1h0m.3-1.2h0m.3-1.1h0m.3-1.1h0m.3-1.1h0m.3-.9h0m.3-.8h0m.3-.6h0m.3-.4h0m.3-.1h0m.3 .4h0m.3 .9h0m.3 1.6h0m.3 1.8h0m.3 2.3h0m.3 2.4h0m.3 2.6h0m.3 2.6h0m.3 2.6h0m.3 2.3h0m.3 2.2h0m.3 1.8h0m.3 1.2h0m.3 .9h0m.3-.1h0m.3-.4h0m.3-1.1h0m.3-1.5h0m.3-1.9h0m.3-2.3h0m.3-2.5h0m.3-2.7h0m.3-2.7h0m.3-2.8h0m.3-2.6h0m.3-2.5h0m.3-2.2h0m.3-1.9h0m.3-1.7h0m.3-.8h0m.3-.7h0m.3-.1h0m.3-.2h0m.3 0h0m.3-.1h0m.3-.1h0m.3-.1h0m.3-.1h0m.3-.1h0m.3-.1h0m.3-.2h0m.3-.3h0m.3-.3h0m.3-.3h0m.3-.3h0m.3-.3h0m.3-.2h0m.3-.1h0m.3-.1h0m.3 .1h0m.3 .1h0m.3 .2h0m.3 .2h0m.3 .3h0m.3 .3h0m.3 .4h0m.3 .4h0m.3 .4h0m.3 .4h0m.3 .4h0m.3 .4h0m.3 .4h0m.3 .4h0m.3 .4h0m.3 .3h0m.3 .3h0m.3 .3h0m.3 .3h0m.3 .3h0m.3 .4h0m.3 .3h0m.3 .3h0m.3 .3h0m.3 .3h0m.3 .2h0m.3 .3h0m.3 .1h0m.3 .2h0m.3 .1h0m.3-.1h0m.3-.1h0m.3-.5h0m.3-.6h0m.3-.9h0m.3-1.1h0m.3-1.2h0m.3-1.5h0m.3-1.5h0m.3-1.6h0m.3-1.7h0m.3-1.7h0" stroke="#3874bc" stroke-width="1.45" stroke-linecap="round" fill="none"/>
<use href="#p20" stroke="#d83838" stroke-width="0.95" stroke-dasharray="1.7 1.5"/>
</g>
<text x="36.90" y="151.85" text-anchor="end" font-size="9.8" fill="#444444">0.2</text>
<path d="M38.30 148.45H39.5" stroke="#555" stroke-width="0.8"/>
<text x="36.90" y="177.10" text-anchor="end" font-size="9.8" fill="#444444">0.0</text>
<path d="M38.30 173.70H39.5" stroke="#555" stroke-width="0.8"/>
<text x="36.90" y="202.35" text-anchor="end" font-size="9.8" fill="#444444">0.2</text>
<path d="M17.25 199.25H23.25" stroke="#444444" stroke-width="0.75"/>
<path d="M38.30 198.95H39.5" stroke="#555" stroke-width="0.8"/>
<text x="39.50" y="209.80" text-anchor="middle" font-size="9.8" fill="#444444">0</text>
<text x="85.93" y="209.80" text-anchor="middle" font-size="9.8" fill="#444444">20</text>
<text x="132.37" y="209.80" text-anchor="middle" font-size="9.8" fill="#444444">40</text>
<text x="178.80" y="209.80" text-anchor="middle" font-size="9.8" fill="#444444">60</text>
<clipPath id="c21"><rect x="206.6" y="145.6" width="139.70000000000002" height="55.80000000000001"/></clipPath>
<path d="M206.1 145.7H346.8" stroke="#dcdcdc" stroke-width="1.3"/>
<path d="M206.1 200.9H346.8" stroke="#dcdcdc" stroke-width="1.3"/>
<path d="M346.3 146.1V200.9" stroke="#cdcdcd" stroke-width="1.1"/>
<path d="M206.6 146.1V200.9" stroke="#c4c4c4" stroke-width="1.1"/>
<g clip-path="url(#c21)">
<path id="p21" d="M206.6 173.2L207.1 173.2 207.6 173.1 208.1 173.0 208.6 172.8 209.1 172.5 209.6 172.0 210.1 171.6 210.6 171.3 211.1 171.4 211.6 171.8 212.1 172.6 212.6 173.5 213.1 174.2 213.6 174.7 214.1 174.4 214.6 173.0 215.1 171.0 215.6 168.6 216.1 166.5 216.7 164.9 217.2 164.4 217.7 165.6 218.2 168.4 218.7 172.2 219.2 176.3 219.7 180.3 220.2 183.5 220.7 185.3 221.2 185.1 221.7 182.4 222.2 178.1 222.7 173.2 223.2 168.6 223.7 165.4 224.2 164.4 224.7 165.7 225.2 168.3 225.7 171.8 226.2 175.3 226.7 178.3 227.2 180.3 227.7 180.4 228.2 179.0 228.7 176.3 229.2 173.1 229.7 169.7 230.2 166.8 230.7 164.9 231.2 164.5 231.7 166.3 232.2 169.9 232.7 174.5 233.2 179.4 233.7 183.8 234.2 186.9 234.7 188.0 235.2 186.9 235.7 184.2 236.2 180.8 236.8 177.1 237.3 173.9 237.8 171.8 238.3 171.3 238.8 171.9 239.3 172.8 239.8 173.5 240.3 173.6 240.8 172.3 241.3 170.0 241.8 167.0 242.3 164.0 242.8 161.5 243.3 159.8 243.8 159.7 244.3 162.2 244.8 166.6 245.3 172.0 245.8 177.4 246.3 181.8 246.8 184.4 247.3 184.0 247.8 180.6 248.3 175.4 248.8 169.6 249.3 164.2 249.8 160.5 250.3 159.6 250.8 161.9 251.3 166.5 251.8 172.3 252.3 178.3 252.8 183.3 253.3 186.4 253.8 186.5 254.3 183.1 254.8 177.4 255.3 170.4 255.8 163.1 256.3 156.6 256.9 152.2 257.4 150.7 257.9 152.2 258.4 155.6 258.9 160.3 259.4 165.8 259.9 171.4 260.4 176.6 260.9 180.6 261.4 183.0 261.9 184.7 262.4 186.2 262.9 187.6 263.4 188.7 263.9 189.5 264.4 189.9 264.9 189.3 265.4 186.2 265.9 180.9 266.4 174.4 266.9 167.5 267.4 161.2 267.9 156.3 268.4 153.6 268.9 154.2 269.4 158.1 269.9 164.6 270.4 172.5 270.9 180.7 271.4 188.3 271.9 194.2 272.4 197.3 272.9 196.8 273.4 193.2 273.9 187.4 274.4 180.2 274.9 172.5 275.4 165.1 275.9 158.9 276.4 154.7 277.0 153.4 277.5 155.4 278.0 160.0 278.5 166.1 279.0 172.6 279.5 178.7 280.0 183.1 280.5 185.0 281.0 184.5 281.5 183.1 282.0 181.0 282.5 178.6 283.0 176.3 283.5 174.3 284.0 172.9 284.5 171.9 285.0 171.0 285.5 169.9 286.0 168.0 286.5 165.1 287.0 161.8 287.5 158.9 288.0 157.3 288.5 157.5 289.0 159.5 289.5 162.8 290.0 166.9 290.5 171.4 291.0 175.8 291.5 179.6 292.0 182.4 292.5 183.6 293.0 183.0 293.5 181.1 294.0 178.5 294.5 175.7 295.0 173.3 295.5 171.9 296.0 171.3 296.6 170.8 297.1 170.3 297.6 170.0 298.1 169.7 298.6 169.6 299.1 169.7 299.6 170.5 300.1 171.7 300.6 173.1 301.1 174.5 301.6 175.6 302.1 176.2 302.6 175.9 303.1 174.8 303.6 173.1 304.1 171.4 304.6 170.0 305.1 169.3 305.6 170.0 306.1 172.4 306.6 176.1 307.1 180.3 307.6 184.3 308.1 187.6 308.6 189.3 309.1 189.1 309.6 187.0 310.1 183.6 310.6 179.6 311.1 175.5 311.6 171.9 312.1 169.5 312.6 168.7 313.1 168.6 313.6 168.5 314.1 168.4 314.6 168.4 315.1 168.2 315.6 167.9 316.1 166.6 316.7 165.1 317.2 165.2 317.7 167.5 318.2 171.5 318.7 176.4 319.2 181.7 319.7 186.6 320.2 190.4 320.7 192.6 321.2 192.4 321.7 189.1 322.2 183.6 322.7 176.7 323.2 169.3 323.7 162.4 324.2 156.7 324.7 153.2 325.2 152.8 325.7 154.5 326.2 157.7 326.7 161.7 327.2 165.9 327.7 169.6 328.2 172.3 328.7 173.3 329.2 173.1 329.7 172.6 330.2 172.0 330.7 171.4 331.2 171.0 331.7 170.8 332.2 171.1 332.7 171.8 333.2 172.8 333.7 173.9 334.2 174.9 334.7 175.7 335.2 176.2 335.7 176.2 336.2 176.2 336.8 176.1 337.3 176.1 337.8 176.0 338.3 175.9 338.8 175.8 339.3 175.6 339.8 175.5 340.3 175.3 340.8 175.0 341.3 174.5 341.8 173.7 342.3 172.7 342.8 171.6 343.3 169.8 343.8 167.7 344.3 165.6 344.8 163.8 345.3 162.5 345.8 162.2 346.3 163.0" fill="none" stroke-linejoin="round"/>
<use href="#p21" stroke="#7a7a7a" stroke-width="0.8"/>
<path d="M206.6 173.2h0m.3 0h0m.3 0h0m.3-.1h0m.3 0h0m.3-.1h0m.3-.1h0m.3-.1h0m.3-.2h0m.3-.3h0m.3-.3h0m.3-.2h0m.3-.2h0m.3-.2h0m.3-.1h0m.3 .1h0m.3 .2h0m.3 .3h0m.3 .5h0m.3 .5h0m.3 .5h0m.3 .5h0m.3 .4h0m.3 .3h0m.3 0h0m.3-.2h0m.3-.7h0m.3-.9h0m.3-1.2h0m.3-1.4h0m.3-1.3h0m.3-1.4h0m.3-1.2h0m.3-.9h0m.3-.6h0m.3-.3h0m.3 .5h0m.3 .9h0m.3 1.6h0m.3 2h0m.3 2.2h0m.3 2.4h0m.3 2.5h0m.3 2.4h0m.3 2.1h0m.3 1.9h0m.3 1.3h0m.3 1h0m.3-.2h0m.3-.7h0m.3-1.6h0m.3-2.3h0m.3-2.6h0m.3-3h0m.3-2.8h0m.3-2.7h0m.3-2.2h0m.3-1.9h0m.3-.5h0m.3-.1h0m.3 .8h0m.3 1.3h0m.3 1.6h0m.3 2h0m.3 2.1h0m.3 2.1h0m.3 1.9h0m.3 1.8h0m.3 1.2h0m.3 .8h0m.3 .1h0m.3-.5h0m.3-.9h0m.3-1.6h0m.3-1.6h0m.3-2h0m.3-2h0m.3-2h0m.3-1.7h0m.3-1.6h0m.3-1.1h0m.3-.6h0m.3-.3h0m.3 1h0m.3 1.3h0m.3 2.2h0m.3 2.5h0m.3 2.8h0m.3 2.9h0m.3 2.8h0m.3 2.6h0m.3 2.2h0m.3 1.9h0m.3 .8h0m.3 .4h0m.3-.7h0m.3-1.2h0m.3-1.5h0m.3-2h0m.3-2.1h0m.3-2.2h0m.3-2.1h0m.3-1.9h0m.3-1.3h0m.3-1.2h0m.3-.2h0m.3 0h0m.3 .3h0m.3 .5h0m.3 .5h0m.3 .5h0m.3 .2h0m.3 .1h0m.3-.6h0m.3-.8h0m.3-1.4h0m.3-1.6h0m.3-1.7h0m.3-1.8h0m.3-1.8h0m.3-1.5h0m.3-1.3h0m.3-1h0m.3-.3h0m.3 0h0m.3 1.5h0m.3 1.8h0m.3 2.7h0m.3 3h0m.3 3.2h0m.3 3.3h0m.3 3h0m.3 2.7h0m.3 1.8h0m.3 1.5h0m.3-.2h0m.3-.8h0m.3-2h0m.3-2.7h0m.3-3.1h0m.3-3.5h0m.3-3.4h0m.3-3.2h0m.3-2.6h0m.3-2.2h0m.3-.6h0m.3 0h0m.3 1.4h0m.3 2.1h0m.3 2.8h0m.3 3.4h0m.3 3.5h0m.3 3.5h0m.3 3.3h0m.3 3h0m.3 2h0m.3 1.4h0m.3 .1h0m.3-1.1h0m.3-2h0m.3-3.2h0m.3-3.6h0m.3-4.2h0m.3-4.3h0m.3-4.4h0m.3-3.9h0m.3-3.6h0m.3-2.7h0m.3-1.8h0m.3-.8h0m.3 .5h0m.3 1.1h0m.3 2h0m.3 2.4h0m.3 2.8h0m.3 3.2h0m.3 3.3h0m.3 3.4h0m.3 3.2h0m.3 3.1h0m.3 2.5h0m.3 2.4h0m.3 1.4h0m.3 1.3h0m.3 .9h0m.3 1h0m.3 .9h0m.3 .8h0m.3 .7h0m.3 .7h0m.3 .5h0m.3 .5h0m.3 .2h0m.3 0h0m.3-.3h0m.3-1.4h0m.3-1.9h0m.3-3.2h0m.3-3.4h0m.3-3.8h0m.3-4h0m.3-4.1h0m.3-3.8h0m.3-3.5h0m.3-2.9h0m.3-2.1h0m.3-1.6h0m.3 .2h0m.3 1h0m.3 2.3h0m.3 3.3h0m.3 3.9h0m.3 4.6h0m.3 4.8h0m.3 4.9h0m.3 4.7h0m.3 4.5h0m.3 3.6h0m.3 3.1h0m.3 1.9h0m.3 .6h0m.3-.3h0m.3-2h0m.3-2.4h0m.3-3.5h0m.3-3.9h0m.3-4.2h0m.3-4.6h0m.3-4.5h0m.3-4.4h0m.3-4.1h0m.3-3.7h0m.3-2.7h0m.3-2.2h0m.3-.8h0m.3 .2h0m.3 1.2h0m.3 2.4h0m.3 2.9h0m.3 3.6h0m.3 3.8h0m.3 3.9h0m.3 3.7h0m.3 3.5h0m.3 2.6h0m.3 2h0m.3 1.1h0m.3 .1h0m.3-.4h0m.3-.8h0m.3-1.1h0m.3-1.2h0m.3-1.4h0m.3-1.4h0m.3-1.4h0m.3-1.3h0m.3-1.2h0m.3-.9h0m.3-.9h0m.3-.6h0m.3-.5h0m.3-.6h0m.3-.6h0m.3-.6h0m.3-1.2h0m.3-1.3h0m.3-1.8h0m.3-1.8h0m.3-2h0m.3-1.7h0m.3-1.5h0m.3-1h0m.3-.3h0m.3 .2h0m.3 1.1h0m.3 1.5h0m.3 1.9h0m.3 2.3h0m.3 2.5h0m.3 2.7h0m.3 2.6h0m.3 2.7h0m.3 2.4h0m.3 2.2h0m.3 1.7h0m.3 1.4h0m.3 .8h0m.3 .1h0m.3-.4h0m.3-1h0m.3-1.2h0m.3-1.6h0m.3-1.6h0m.3-1.7h0m.3-1.4h0m.3-1.4h0m.3-.8h0m.3-.6h0m.3-.4h0m.3-.3h0m.3-.3h0m.3-.2h0m.3-.3h0m.3-.2h0m.3-.1h0m.3-.2h0m.3 0h0m.3-.1h0m.3 .1h0m.3 .4h0m.3 .4h0m.3 .8h0m.3 .7h0m.3 .9h0m.3 .8h0m.3 .9h0m.3 .6h0m.3 .6h0m.3 .3h0m.3 0h0m.3-.2h0m.3-.7h0m.3-.8h0m.3-1h0m.3-1h0m.3-1h0m.3-.8h0m.3-.7h0m.3-.4h0m.3 .1h0m.3 .4h0m.3 1.5h0m.3 1.7h0m.3 2.2h0m.3 2.3h0m.3 2.5h0m.3 2.5h0m.3 2.2h0m.3 2h0m.3 1.3h0m.3 1.1h0m.3-.1h0m.3-.5h0m.3-1.2h0m.3-1.7h0m.3-2.1h0m.3-2.3h0m.3-2.5h0m.3-2.4h0m.3-2.3h0m.3-2.1h0m.3-1.5h0m.3-1.2h0m.3-.5h0m.3-.2h0m.3-.1h0m.3 0h0m.3-.1h0m.3 0h0m.3-.1h0m.3 0h0m.3-.1h0m.3-.1h0m.3-.2h0m.3-.5h0m.3-.8h0m.3-.8h0m.3-.7h0m.3 0h0m.3 .7h0m.3 1.4h0m.3 2.1h0m.3 2.5h0m.3 2.9h0m.3 3.1h0m.3 3.1h0m.3 3h0m.3 2.8h0m.3 2.3h0m.3 1.9h0m.3 1.3h0m.3 .2h0m.3-.3h0m.3-1.9h0m.3-2.5h0m.3-3.3h0m.3-4h0m.3-4.1h0m.3-4.4h0m.3-4.3h0m.3-4.1h0m.3-3.6h0m.3-3.4h0m.3-2h0m.3-1.5h0m.3-.2h0m.3 .6h0m.3 1h0m.3 1.9h0m.3 2.1h0m.3 2.4h0m.3 2.5h0m.3 2.5h0m.3 2.2h0m.3 2h0m.3 1.6h0m.3 1h0m.3 .6h0m.3-.1h0m.3-.2h0m.3-.3h0m.3-.3h0m.3-.4h0m.3-.3h0m.3-.3h0m.3-.3h0m.3-.2h0m.3-.1h0m.3 .2h0m.3 .2h0m.3 .4h0m.3 .6h0m.3 .5h0m.3 .7h0m.3 .6h0m.3 .7h0m.3 .5h0m.3 .5h0m.3 .3h0m.3 .2h0m.3 0h0m.3 0h0m.3 0h0m.3 0h0m.3-.1h0m.3 0h0m.3-.1h0m.3 0h0m.3-.1h0m.3 0h0m.3-.1h0m.3-.1h0m.3-.1h0m.3-.1h0m.3 0h0m.3-.2h0m.3-.1h0m.3-.1h0m.3-.3h0m.3-.4h0m.3-.5h0m.3-.5h0m.3-.5h0m.3-.7h0m.3-.7h0m.3-1.1h0m.3-1.1h0m.3-1.2h0m.3-1.3h0m.3-1.3h0m.3-1h0m.3-1h0m.3-.7h0m.3-.4h0m.3-.2h0m.3 .5h0" stroke="#3874bc" stroke-width="1.45" stroke-linecap="round" fill="none"/>
<use href="#p21" stroke="#d83838" stroke-width="0.95" stroke-dasharray="1.7 1.5"/>
</g>
<text x="204.00" y="155.00" text-anchor="end" font-size="9.8" fill="#444444">0.2</text>
<path d="M205.40 151.60H206.6" stroke="#555" stroke-width="0.8"/>
<text x="204.00" y="177.20" text-anchor="end" font-size="9.8" fill="#444444">0.0</text>
<path d="M205.40 173.80H206.6" stroke="#555" stroke-width="0.8"/>
<text x="204.00" y="199.40" text-anchor="end" font-size="9.8" fill="#444444">0.2</text>
<path d="M184.35 196.30H190.35" stroke="#444444" stroke-width="0.75"/>
<path d="M205.40 196.00H206.6" stroke="#555" stroke-width="0.8"/>
<text x="206.60" y="209.80" text-anchor="middle" font-size="9.8" fill="#444444">0</text>
<text x="253.17" y="209.80" text-anchor="middle" font-size="9.8" fill="#444444">20</text>
<text x="299.73" y="209.80" text-anchor="middle" font-size="9.8" fill="#444444">40</text>
<text x="346.30" y="209.80" text-anchor="middle" font-size="9.8" fill="#444444">60</text>
<clipPath id="c22"><rect x="374.4" y="145.6" width="139.0" height="55.80000000000001"/></clipPath>
<path d="M373.9 145.7H513.9" stroke="#dcdcdc" stroke-width="1.3"/>
<path d="M373.9 200.9H513.9" stroke="#dcdcdc" stroke-width="1.3"/>
<path d="M513.4 146.1V200.9" stroke="#cdcdcd" stroke-width="1.1"/>
<path d="M374.4 146.1V200.9" stroke="#c4c4c4" stroke-width="1.1"/>
<g clip-path="url(#c22)">
<path id="p22" d="M374.4 173.2L374.9 172.7 375.4 172.4 375.9 172.3 376.4 172.2 376.9 172.2 377.4 172.4 377.9 173.2 378.4 174.4 378.9 175.5 379.4 176.1 379.9 176.0 380.4 174.7 380.9 172.9 381.4 170.7 381.9 168.6 382.4 167.0 382.9 166.3 383.4 167.1 383.9 169.7 384.4 173.5 384.9 177.6 385.4 181.5 385.9 184.5 386.4 185.8 386.9 184.6 387.4 180.9 387.9 175.7 388.5 170.1 389.0 164.9 389.5 161.2 390.0 160.0 390.5 161.7 391.0 165.6 391.5 170.7 392.0 176.0 392.5 180.6 393.0 183.6 393.5 184.1 394.0 182.0 394.5 178.0 395.0 173.2 395.5 168.4 396.0 164.5 396.5 162.6 397.0 163.3 397.5 166.2 398.0 170.7 398.5 175.7 399.0 180.7 399.5 184.7 400.0 187.0 400.5 186.7 401.0 183.6 401.5 178.9 402.0 173.4 402.5 168.2 403.0 164.4 403.5 162.9 404.0 163.8 404.5 166.2 405.0 169.3 405.5 172.4 406.0 175.0 406.5 176.2 407.0 175.5 407.5 173.2 408.0 170.1 408.5 167.0 409.0 164.6 409.5 163.7 410.0 165.8 410.5 170.7 411.0 177.0 411.5 183.1 412.0 187.7 412.5 189.4 413.0 187.3 413.5 182.4 414.0 175.9 414.5 168.9 415.0 162.6 415.5 158.1 416.0 156.6 416.6 158.9 417.1 164.1 417.6 171.0 418.1 178.4 418.6 185.0 419.1 189.7 419.6 191.2 420.1 188.7 420.6 183.3 421.1 176.0 421.6 168.1 422.1 160.6 422.6 154.9 423.1 152.0 423.6 153.1 424.1 157.6 424.6 164.4 425.1 172.2 425.6 179.8 426.1 186.0 426.6 189.5 427.1 189.6 427.6 187.7 428.1 184.8 428.6 181.5 429.1 178.6 429.6 176.6 430.1 175.9 430.6 175.6 431.1 175.4 431.6 175.1 432.1 174.5 432.6 171.1 433.1 165.5 433.6 159.5 434.1 155.0 434.6 153.8 435.1 156.4 435.6 161.8 436.1 168.9 436.6 176.9 437.1 184.8 437.6 191.5 438.1 196.2 438.6 197.8 439.1 194.5 439.6 186.8 440.1 176.6 440.6 165.7 441.1 156.1 441.6 149.7 442.1 148.4 442.6 151.1 443.1 156.6 443.6 163.7 444.2 171.6 444.7 179.1 445.2 185.4 445.7 189.3 446.2 190.0 446.7 187.7 447.2 183.4 447.7 178.1 448.2 172.6 448.7 168.1 449.2 165.4 449.7 165.2 450.2 165.9 450.7 167.0 451.2 168.0 451.7 168.7 452.2 168.7 452.7 168.0 453.2 167.1 453.7 166.6 454.2 167.1 454.7 169.1 455.2 172.1 455.7 175.7 456.2 179.5 456.7 182.8 457.2 185.3 457.7 186.5 458.2 185.8 458.7 183.2 459.2 179.4 459.7 175.0 460.2 170.8 460.7 167.4 461.2 165.6 461.7 165.6 462.2 166.4 462.7 167.6 463.2 169.1 463.7 170.6 464.2 171.9 464.7 172.8 465.2 173.7 465.7 174.6 466.2 175.4 466.7 176.2 467.2 176.8 467.7 177.2 468.2 177.3 468.7 176.5 469.2 174.7 469.7 172.3 470.2 170.1 470.7 168.4 471.2 167.8 471.8 169.0 472.3 171.8 472.8 175.5 473.3 179.4 473.8 182.8 474.3 185.0 474.8 185.4 475.3 183.4 475.8 179.7 476.3 175.1 476.8 170.1 477.3 165.6 477.8 162.4 478.3 161.0 478.8 162.1 479.3 164.9 479.8 168.4 480.3 171.5 480.8 173.2 481.3 173.0 481.8 171.9 482.3 170.6 482.8 169.7 483.3 170.0 483.8 172.3 484.3 176.1 484.8 180.4 485.3 184.6 485.8 187.9 486.3 189.5 486.8 188.4 487.3 184.6 487.8 178.8 488.3 172.0 488.8 165.0 489.3 158.7 489.8 154.1 490.3 151.9 490.8 152.9 491.3 156.1 491.8 161.0 492.3 166.7 492.8 172.7 493.3 178.1 493.8 182.3 494.3 184.4 494.8 184.2 495.3 182.2 495.8 179.2 496.3 175.9 496.8 172.8 497.3 170.8 497.8 170.3 498.3 171.0 498.8 172.2 499.3 173.7 499.9 175.1 500.4 176.0 500.9 176.2 501.4 175.8 501.9 175.2 502.4 174.3 502.9 173.5 503.4 172.8 503.9 172.4 504.4 172.3 504.9 172.5 505.4 172.7 505.9 173.0 506.4 173.2 506.9 173.3 507.4 173.1 507.9 172.4 508.4 171.3 508.9 169.9 509.4 168.5 509.9 167.3 510.4 166.4 510.9 165.9 511.4 166.6 511.9 169.2 512.4 173.2 512.9 178.2 513.4 183.6" fill="none" stroke-linejoin="round"/>
<use href="#p22" stroke="#7a7a7a" stroke-width="0.8"/>
<path d="M374.4 173.2h0m.3-.3h0m.3-.2h0m.3-.2h0m.3-.1h0m.3-.1h0m.3-.1h0m.3 0h0m.3 0h0m.3 .1h0m.3 .1h0m.3 .4h0m.3 .6h0m.3 .7h0m.3 .7h0m.3 .6h0m.3 .4h0m.3 .3h0m.3-.1h0m.3-.5h0m.3-.7h0m.3-1.1h0m.3-1.2h0m.3-1.3h0m.3-1.2h0m.3-1.3h0m.3-.9h0m.3-.9h0m.3-.4h0m.3 .1h0m.3 .5h0m.3 1.4h0m.3 1.7h0m.3 2.2h0m.3 2.4h0m.3 2.5h0m.3 2.4h0m.3 2.2h0m.3 1.7h0m.3 1.3h0m.3 .8h0m.3-.5h0m.3-1h0m.3-2.2h0m.3-2.7h0m.3-3.1h0m.3-3.3h0m.3-3.3h0m.3-3.1h0m.3-2.7h0m.3-2.2h0m.3-1h0m.3-.4h0m.3 1h0m.3 1.6h0m.3 2.4h0m.3 2.8h0m.3 3.1h0m.3 3.2h0m.3 2.9h0m.3 2.8h0m.3 2h0m.3 1.7h0m.3 .3h0m.3-.4h0m.3-1.3h0m.3-2.1h0m.3-2.5h0m.3-2.9h0m.3-2.8h0m.3-2.9h0m.3-2.4h0m.3-2.3h0m.3-1.1h0m.3-.5h0m.3 .4h0m.3 1.4h0m.3 1.8h0m.3 2.6h0m.3 2.8h0m.3 3.1h0m.3 2.9h0m.3 3h0m.3 2.4h0m.3 2h0m.3 1.3h0m.3 .3h0m.3-.2h0m.3-1.8h0m.3-2.1h0m.3-2.9h0m.3-3.1h0m.3-3.3h0m.3-3.1h0m.3-2.8h0m.3-2.3h0m.3-1.4h0m.3-.9h0m.3 .6h0m.3 .8h0m.3 1.4h0m.3 1.7h0m.3 1.8h0m.3 1.9h0m.3 1.8h0m.3 1.5h0m.3 1h0m.3 .7h0m.3-.3h0m.3-.7h0m.3-1.3h0m.3-1.7h0m.3-1.8h0m.3-1.9h0m.3-1.8h0m.3-1.4h0m.3-.9h0m.3-.5h0m.3 1.1h0m.3 1.6h0m.3 2.9h0m.3 3.4h0m.3 3.8h0m.3 3.7h0m.3 3.4h0m.3 2.8h0m.3 1.8h0m.3 1h0m.3-1h0m.3-1.6h0m.3-2.9h0m.3-3.4h0m.3-3.9h0m.3-4.2h0m.3-4.1h0m.3-3.8h0m.3-3.2h0m.3-2.7h0m.3-1.1h0m.3-.6h0m.3 1.4h0m.3 2.2h0m.3 3.2h0m.3 3.9h0m.3 4.2h0m.3 4.4h0m.3 4.2h0m.3 4h0m.3 3h0m.3 2.5h0m.3 .9h0m.3-.2h0m.3-1.5h0m.3-2.8h0m.3-3.4h0m.3-4.4h0m.3-4.5h0m.3-4.7h0m.3-4.5h0m.3-4.4h0m.3-3.4h0m.3-2.7h0m.3-1.7h0m.3 0h0m.3 .8h0m.3 2.7h0m.3 3.2h0m.3 4.1h0m.3 4.5h0m.3 4.7h0m.3 4.5h0m.3 4.3h0m.3 3.6h0m.3 2.6h0m.3 2h0m.3 .1h0m.3-.4h0m.3-1.1h0m.3-1.6h0m.3-1.7h0m.3-2h0m.3-1.9h0m.3-1.8h0m.3-1.3h0m.3-1.2h0m.3-.4h0m.3-.3h0m.3-.2h0m.3-.2h0m.3-.1h0m.3-.2h0m.3-.2h0m.3-.4h0m.3-1.4h0m.3-2h0m.3-3.3h0m.3-3.4h0m.3-3.6h0m.3-3.1h0m.3-2.7h0m.3-.8h0m.3-.1h0m.3 1.6h0m.3 2.6h0m.3 3.2h0m.3 4.2h0m.3 4.4h0m.3 4.8h0m.3 4.7h0m.3 4.7h0m.3 4.1h0m.3 3.7h0m.3 2.8h0m.3 1.7h0m.3 1h0m.3-1.7h0m.3-2.5h0m.3-4.6h0m.3-5.5h0m.3-6.1h0m.3-6.4h0m.3-6.4h0m.3-5.7h0m.3-4.7h0m.3-3.8h0m.3-1.3h0m.3-.3h0m.3 1.6h0m.3 2.5h0m.3 3.3h0m.3 4.1h0m.3 4.3h0m.3 4.7h0m.3 4.6h0m.3 4.5h0m.3 3.9h0m.3 3.5h0m.3 2.4h0m.3 1.4h0m.3 .5h0m.3-1.1h0m.3-1.5h0m.3-2.6h0m.3-2.9h0m.3-3.2h0m.3-3.2h0m.3-3.2h0m.3-2.7h0m.3-2.2h0m.3-1.6h0m.3-.5h0m.3 0h0m.3 .4h0m.3 .5h0m.3 .6h0m.3 .7h0m.3 .6h0m.3 .4h0m.3 .2h0m.3 0h0m.3-.3h0m.3-.4h0m.3-.5h0m.3-.5h0m.3-.3h0m.3 .1h0m.3 .4h0m.3 1.2h0m.3 1.4h0m.3 1.8h0m.3 2h0m.3 2.2h0m.3 2.2h0m.3 2.2h0m.3 2h0m.3 1.6h0m.3 1.5h0m.3 .7h0m.3 .3h0m.3-.4h0m.3-1.2h0m.3-1.5h0m.3-2.3h0m.3-2.4h0m.3-2.6h0m.3-2.5h0m.3-2.5h0m.3-2.1h0m.3-1.7h0m.3-1.1h0m.3-.4h0m.3 0h0m.3 .4h0m.3 .6h0m.3 .7h0m.3 .9h0m.3 .9h0m.3 .9h0m.3 .8h0m.3 .8h0m.3 .6h0m.3 .5h0m.3 .6h0m.3 .5h0m.3 .6h0m.3 .5h0m.3 .5h0m.3 .5h0m.3 .4h0m.3 .3h0m.3 .3h0m.3 .2h0m.3 .1h0m.3 0h0m.3-.5h0m.3-.8h0m.3-1.1h0m.3-1.3h0m.3-1.4h0m.3-1.4h0m.3-1.1h0m.3-1.1h0m.3-.4h0m.3-.2h0m.3 .8h0m.3 1.2h0m.3 1.6h0m.3 2.2h0m.3 2.2h0m.3 2.3h0m.3 2.2h0m.3 2h0m.3 1.5h0m.3 1.1h0m.3 .2h0m.3-.4h0m.3-1.1h0m.3-2h0m.3-2.3h0m.3-2.8h0m.3-2.8h0m.3-3h0m.3-2.7h0m.3-2.7h0m.3-1.9h0m.3-1.5h0m.3-.8h0m.3 .3h0m.3 .7h0m.3 1.7h0m.3 1.9h0m.3 2.1h0m.3 1.9h0m.3 1.8h0m.3 1h0m.3 .6h0m.3-.2h0m.3-.5h0m.3-.7h0m.3-.7h0m.3-.7h0m.3-.5h0m.3-.1h0m.3 .3h0m.3 1.3h0m.3 1.7h0m.3 2.3h0m.3 2.4h0m.3 2.6h0m.3 2.5h0m.3 2.3h0m.3 2h0m.3 1.3h0m.3 .9h0m.3-.6h0m.3-1.1h0m.3-2.3h0m.3-3h0m.3-3.5h0m.3-4.1h0m.3-4.1h0m.3-4.2h0m.3-3.9h0m.3-3.7h0m.3-2.8h0m.3-2.4h0m.3-1.3h0m.3-.1h0m.3 .5h0m.3 1.9h0m.3 2.2h0m.3 2.9h0m.3 3.2h0m.3 3.5h0m.3 3.5h0m.3 3.5h0m.3 3.2h0m.3 2.8h0m.3 2.5h0m.3 1.4h0m.3 1h0m.3-.2h0m.3-.7h0m.3-1.2h0m.3-1.7h0m.3-1.8h0m.3-2h0m.3-1.9h0m.3-1.8h0m.3-1.3h0m.3-1.1h0m.3-.2h0m.3 0h0m.3 .4h0m.3 .7h0m.3 .8h0m.3 .9h0m.3 .8h0m.3 .8h0m.3 .6h0m.3 .5h0m.3 .1h0m.3 0h0m.3-.2h0m.3-.4h0m.3-.4h0m.3-.5h0m.3-.5h0m.3-.5h0m.3-.5h0m.3-.4h0m.3-.2h0m.3-.2h0m.3 0h0m.3 .1h0m.3 .1h0m.3 .1h0m.3 .2h0m.3 .1h0m.3 .2h0m.3 .1h0m.3 .1h0m.3 0h0m.3-.2h0m.3-.3h0m.3-.5h0m.3-.6h0m.3-.8h0m.3-.8h0m.3-.8h0m.3-.8h0m.3-.7h0m.3-.7h0m.3-.6h0m.3-.3h0m.3-.3h0m.3 .4h0m.3 .8h0m.3 1.6h0m.3 2.1h0m.3 2.5h0m.3 2.9h0m.3 3.1h0m.3 3.2h0" stroke="#3874bc" stroke-width="1.45" stroke-linecap="round" fill="none"/>
<use href="#p22" stroke="#d83838" stroke-width="0.95" stroke-dasharray="1.7 1.5"/>
</g>
<text x="371.80" y="160.00" text-anchor="end" font-size="9.8" fill="#444444">0.25</text>
<path d="M373.20 156.60H374.4" stroke="#555" stroke-width="0.8"/>
<text x="371.80" y="177.10" text-anchor="end" font-size="9.8" fill="#444444">0.00</text>
<path d="M373.20 173.70H374.4" stroke="#555" stroke-width="0.8"/>
<text x="371.80" y="194.20" text-anchor="end" font-size="9.8" fill="#444444">0.25</text>
<path d="M347.25 191.10H353.25" stroke="#444444" stroke-width="0.75"/>
<path d="M373.20 190.80H374.4" stroke="#555" stroke-width="0.8"/>
<text x="374.40" y="209.80" text-anchor="middle" font-size="9.8" fill="#444444">0</text>
<text x="420.73" y="209.80" text-anchor="middle" font-size="9.8" fill="#444444">20</text>
<text x="467.07" y="209.80" text-anchor="middle" font-size="9.8" fill="#444444">40</text>
<text x="513.40" y="209.80" text-anchor="middle" font-size="9.8" fill="#444444">60</text>
<clipPath id="c23"><rect x="541.5" y="145.6" width="139.0" height="55.80000000000001"/></clipPath>
<path d="M541.0 145.7H681.0" stroke="#dcdcdc" stroke-width="1.3"/>
<path d="M541.0 200.9H681.0" stroke="#dcdcdc" stroke-width="1.3"/>
<path d="M680.5 146.1V200.9" stroke="#cdcdcd" stroke-width="1.1"/>
<path d="M541.5 146.1V200.9" stroke="#8c8c8c" stroke-width="1.1"/>
<g clip-path="url(#c23)">
<path d="M541.8 179.5L542.2 172.4 542.6 164.7 543.0 171.1 543.4 178.3 543.8 173.9 544.2 167.8 544.6 170.5 545.0 175.6 545.4 175.2 545.8 167.1 546.2 169.8 546.6 176.5 547.0 178.9 547.4 164.4 547.8 161.6 548.2 175.5 548.6 181.0 549.0 164.4 549.4 157.7 549.8 177.9 550.2 181.1 550.6 167.2 551.0 165.9 551.4 173.5 551.8 176.5 552.2 171.8 552.6 169.6 553.0 172.8 553.4 177.4 553.8 172.9 554.2 167.9 554.6 171.8 555.0 174.9 555.4 173.0 555.8 169.7 556.2 170.7 556.6 173.8 557.0 172.8 557.4 169.1 557.8 165.8 558.2 174.8 558.6 172.5 559.0 168.7 559.4 167.6 559.8 170.3 560.2 172.0 560.6 169.7 561.0 168.3 561.4 169.8 561.8 171.5 562.2 170.2 562.6 168.3 563.0 169.7 563.4 171.9 563.8 171.5 564.2 162.7 564.6 167.0 565.0 176.2 565.4 174.8 565.8 165.1 566.2 163.5 566.6 173.2 567.0 175.0 567.4 168.8 567.8 165.1 568.2 170.6 568.6 171.9 569.0 170.0 569.4 168.3 569.8 169.6 570.2 173.9 570.6 173.2 571.0 166.9 571.4 166.8 571.8 174.1 572.2 173.1 572.6 166.5 573.0 163.8 573.4 173.2 573.8 174.1 574.2 168.8 574.6 166.5 575.0 170.3 575.4 173.4 575.8 170.7 576.2 165.3 576.6 167.8 577.0 175.0 577.4 172.7 577.8 167.3 578.2 166.7 578.6 171.8 579.0 170.3 579.4 166.8 579.8 165.8 580.2 169.7 580.6 172.0 581.0 167.0 581.4 164.0 581.8 168.8 582.2 171.8 582.6 168.0 583.0 162.7 583.4 169.5 583.8 173.8 584.2 168.3 584.6 157.5 585.0 168.6 585.4 180.4 585.8 169.2 586.2 156.6 586.6 166.0 587.0 177.9 587.4 170.6 587.8 162.8 588.2 167.5 588.6 171.0 589.0 175.0 589.4 162.0 589.8 162.2 590.2 176.5 590.6 173.2 591.0 158.8 591.4 159.0 591.8 172.7 592.2 173.0 592.6 164.0 593.0 161.5 593.4 169.9 593.8 178.3 594.2 164.6 594.6 157.5 595.0 169.0 595.4 180.3 595.8 163.7 596.2 156.0 596.6 165.5 597.0 172.2 597.4 165.9 597.8 158.9 598.2 164.3 598.6 170.0 599.0 167.8 599.4 161.4 599.8 161.1 600.2 170.6 600.6 168.1 601.0 162.4 601.4 162.8 601.8 167.2 602.2 168.4 602.6 161.2 603.0 161.3 603.4 169.5 603.8 171.4 604.2 163.0 604.6 159.8 605.0 166.8 605.4 169.6 605.8 166.0 606.2 158.4 606.6 164.5 607.0 174.2 607.4 168.2 607.8 156.8 608.2 162.0 608.6 172.0 609.0 167.9 609.4 161.8 609.8 164.6 610.2 167.7 610.6 166.5 611.0 164.1 611.4 165.0 611.8 167.7 612.2 167.9 612.6 164.5 613.0 164.2 613.4 169.7 613.8 170.7 614.2 165.3 614.6 162.2 615.0 167.7 615.4 168.8 615.8 164.7 616.2 161.4 616.6 164.1 617.0 166.2 617.4 162.6 617.8 158.0 618.2 161.2 618.6 170.8 619.0 165.1 619.4 157.1 619.8 159.9 620.2 169.8 620.6 166.6 621.0 155.1 621.4 159.1 621.8 170.3 622.2 168.8 622.6 156.1 623.0 160.0 623.4 164.0 623.8 165.0 624.2 161.0 624.6 160.6 625.0 163.6 625.4 164.7 625.8 161.4 626.2 154.8 626.6 163.5 627.0 167.3 627.4 162.3 627.8 160.1 628.2 163.7 628.6 166.3 629.0 163.9 629.4 162.6 629.8 163.5 630.2 164.7 630.6 164.0 631.0 162.6 631.4 163.4 631.8 165.0 632.2 164.6 632.6 161.6 633.0 161.4 633.4 167.0 633.8 168.7 634.2 155.5 634.6 158.3 635.0 171.6 635.4 168.3 635.8 160.6 636.2 154.5 636.6 164.9 637.0 170.7 637.4 162.2 637.8 154.8 638.2 163.2 638.6 166.6 639.0 163.7 639.4 160.0 639.8 162.3 640.2 167.2 640.6 166.2 641.0 151.6 641.4 155.2 641.8 173.6 642.2 175.7 642.6 155.2 643.0 148.4 643.4 168.7 643.8 179.1 644.2 161.2 644.6 151.3 645.0 165.1 645.4 176.1 645.8 169.0 646.2 160.6 646.6 166.2 647.0 172.8 647.4 170.3 647.8 164.7 648.2 164.9 648.6 170.8 649.0 170.3 649.4 166.3 649.8 167.1 650.2 169.0 650.6 170.2 651.0 167.0 651.4 167.2 651.8 169.5 652.2 170.2 652.6 165.1 653.0 165.4 653.4 168.7 653.8 170.5 654.2 166.8 654.6 163.7 655.0 169.2 655.4 173.5 655.8 168.7 656.2 162.1 656.6 165.7 657.0 172.5 657.4 169.0 657.8 164.0 658.2 164.8 658.6 168.3 659.0 168.6 659.4 165.4 659.8 164.9 660.2 167.2 660.6 168.5 661.0 166.2 661.4 163.5 661.8 167.0 662.2 169.6 662.6 166.9 663.0 160.5 663.4 165.6 663.8 171.7 664.2 169.2 664.6 161.7 665.0 163.6 665.4 170.4 665.8 169.0 666.2 162.3 666.6 162.5 667.0 168.3 667.4 169.6 667.8 166.2 668.2 165.2 668.6 167.9 669.0 170.3 669.4 168.6 669.8 167.1 670.2 169.5 670.6 172.1 671.0 169.8 671.4 167.6 671.8 169.1 672.2 170.6 672.6 170.8 673.0 167.0 673.4 168.3 673.8 171.5 674.2 170.5 674.6 168.8 675.0 168.8 675.4 170.1 675.8 170.4 676.2 169.1 676.6 168.8 677.0 170.2 677.4 171.3 677.8 168.8 678.2 167.1 678.6 170.5 679.0 173.5 679.4 171.5 679.8 169.9 680.2 171.9" fill="none" stroke="#d42a2a" stroke-width="1.0" stroke-dasharray="1.3 0.9"/>
<path d="M541.5 173.2H680.5" stroke="#2a78c8" stroke-width="1.5"/>
<path d="M541.9 163.0V180.0" stroke="#d42a2a" stroke-width="1.0" stroke-dasharray="1.2 0.9"/>
<path d="M680.0 166.0V178.0" stroke="#d42a2a" stroke-width="1.0" stroke-dasharray="1.2 0.9"/>
</g>
<text x="538.90" y="150.60" text-anchor="end" font-size="9.8" fill="#444444">0.025</text>
<path d="M540.30 147.20H541.5" stroke="#555" stroke-width="0.8"/>
<text x="538.90" y="176.50" text-anchor="end" font-size="9.8" fill="#444444">0.000</text>
<path d="M540.30 173.10H541.5" stroke="#555" stroke-width="0.8"/>
<text x="538.90" y="202.40" text-anchor="end" font-size="9.8" fill="#444444">0.025</text>
<path d="M509.45 199.30H515.45" stroke="#444444" stroke-width="0.75"/>
<path d="M540.30 199.00H541.5" stroke="#555" stroke-width="0.8"/>
<text x="541.50" y="209.80" text-anchor="middle" font-size="9.8" fill="#444444">0</text>
<text x="587.83" y="209.80" text-anchor="middle" font-size="9.8" fill="#444444">20</text>
<text x="634.17" y="209.80" text-anchor="middle" font-size="9.8" fill="#444444">40</text>
<text x="680.50" y="209.80" text-anchor="middle" font-size="9.8" fill="#444444">60</text>
<text x="1.3" y="176.60" font-size="12" fill="#444444">3</text>
<clipPath id="c30"><rect x="39.5" y="211.4" width="139.3" height="55.599999999999994"/></clipPath>
<path d="M39.0 211.9H179.3" stroke="#dcdcdc" stroke-width="1.3"/>
<path d="M39.0 266.5H179.3" stroke="#b0b0b0" stroke-width="1.0"/>
<path d="M178.8 211.9V266.5" stroke="#cdcdcd" stroke-width="1.1"/>
<path d="M39.5 211.9V266.5" stroke="#c4c4c4" stroke-width="1.1"/>
<g clip-path="url(#c30)">
<path id="p30" d="M39.5 239.0L40.0 239.0 40.5 239.0 41.0 239.0 41.5 239.0 42.0 239.0 42.5 239.0 43.0 239.0 43.5 239.0 44.0 238.7 44.5 238.4 45.0 238.0 45.5 237.7 46.0 237.5 46.5 237.4 47.0 237.4 47.5 237.4 48.0 237.4 48.5 237.3 49.0 237.3 49.6 237.2 50.1 237.1 50.6 236.2 51.1 234.8 51.6 233.2 52.1 231.5 52.6 230.0 53.1 229.0 53.6 228.7 54.1 229.4 54.6 231.1 55.1 233.2 55.6 235.5 56.1 237.6 56.6 239.1 57.1 239.7 57.6 239.3 58.1 238.3 58.6 236.9 59.1 235.4 59.6 234.1 60.1 233.3 60.6 233.3 61.1 234.8 61.6 237.6 62.1 241.1 62.6 244.8 63.1 248.2 63.6 250.7 64.1 251.9 64.6 251.1 65.1 248.7 65.6 245.0 66.1 240.9 66.6 236.9 67.1 233.6 67.6 231.6 68.1 231.6 68.6 233.5 69.1 236.8 69.7 240.9 70.2 245.1 70.7 248.8 71.2 251.4 71.7 252.2 72.2 251.1 72.7 248.8 73.2 245.8 73.7 242.8 74.2 240.3 74.7 239.1 75.2 239.7 75.7 242.2 76.2 245.9 76.7 250.1 77.2 254.0 77.7 256.9 78.2 258.1 78.7 257.1 79.2 254.3 79.7 250.5 80.2 246.2 80.7 241.9 81.2 238.5 81.7 236.3 82.2 235.7 82.7 235.5 83.2 235.3 83.7 235.1 84.2 234.7 84.7 234.0 85.2 232.3 85.7 230.0 86.2 227.5 86.7 225.1 87.2 223.3 87.7 222.5 88.2 223.1 88.7 224.9 89.3 227.4 89.8 230.0 90.3 232.2 90.8 233.6 91.3 233.6 91.8 232.5 92.3 230.6 92.8 228.3 93.3 225.9 93.8 223.9 94.3 222.4 94.8 222.0 95.3 223.2 95.8 225.8 96.3 229.2 96.8 232.8 97.3 236.3 97.8 238.9 98.3 240.2 98.8 240.0 99.3 239.3 99.8 238.2 100.3 237.1 100.8 236.1 101.3 235.4 101.8 235.4 102.3 236.1 102.8 237.6 103.3 239.6 103.8 242.0 104.3 244.7 104.8 247.6 105.3 250.6 105.8 253.4 106.3 256.0 106.8 258.2 107.3 259.9 107.8 261.1 108.3 261.4 108.8 260.5 109.4 258.3 109.9 255.2 110.4 251.6 110.9 247.9 111.4 244.5 111.9 241.8 112.4 240.1 112.9 239.8 113.4 240.7 113.9 242.4 114.4 244.5 114.9 246.7 115.4 248.5 115.9 249.5 116.4 249.3 116.9 247.3 117.4 244.0 117.9 240.1 118.4 236.3 118.9 233.0 119.4 231.0 119.9 230.7 120.4 231.7 120.9 233.4 121.4 235.6 121.9 237.9 122.4 239.9 122.9 241.4 123.4 241.9 123.9 241.1 124.4 239.2 124.9 236.5 125.4 233.5 125.9 230.4 126.4 227.8 126.9 226.0 127.4 225.4 127.9 225.8 128.4 226.7 128.9 228.0 129.5 229.3 130.0 230.4 130.5 231.1 131.0 231.2 131.5 230.4 132.0 228.8 132.5 227.0 133.0 225.4 133.5 224.4 134.0 224.5 134.5 225.8 135.0 228.0 135.5 230.8 136.0 233.9 136.5 237.0 137.0 239.8 137.5 241.9 138.0 243.0 138.5 242.8 139.0 241.4 139.5 239.1 140.0 236.5 140.5 234.1 141.0 232.3 141.5 231.6 142.0 232.7 142.5 235.4 143.0 239.1 143.5 243.5 144.0 247.7 144.5 251.4 145.0 254.0 145.5 254.9 146.0 254.1 146.5 252.3 147.0 250.0 147.5 247.4 148.0 245.2 148.5 243.7 149.1 243.5 149.6 244.8 150.1 247.1 150.6 250.0 151.1 252.8 151.6 255.0 152.1 255.9 152.6 255.3 153.1 253.4 153.6 250.8 154.1 247.8 154.6 244.9 155.1 242.6 155.6 241.3 156.1 241.4 156.6 242.2 157.1 243.5 157.6 245.0 158.1 246.3 158.6 247.0 159.1 246.8 159.6 245.2 160.1 242.6 160.6 239.5 161.1 236.3 161.6 233.6 162.1 231.8 162.6 231.3 163.1 232.0 163.6 233.4 164.1 235.0 164.6 236.4 165.1 237.4 165.6 237.3 166.1 235.5 166.6 232.4 167.1 228.5 167.6 224.2 168.1 220.1 168.6 216.8 169.2 214.7 169.7 214.3 170.2 215.7 170.7 218.3 171.2 221.8 171.7 225.7 172.2 229.3 172.7 232.3 173.2 234.2 173.7 234.6 174.2 234.6 174.7 234.6 175.2 234.6 175.7 234.6 176.2 235.0 176.7 236.1 177.2 237.9 177.7 240.2 178.2 242.8 178.7 245.6" fill="none" stroke-linejoin="round"/>
<use href="#p30" stroke="#959595" stroke-width="1.0"/>
<use href="#p30" stroke="#d83838" stroke-width="1.05" stroke-dasharray="2.0 1.1"/>
</g>
<text x="36.90" y="219.50" text-anchor="end" font-size="9.8" fill="#444444">0.2</text>
<path d="M38.30 216.10H39.5" stroke="#555" stroke-width="0.8"/>
<text x="36.90" y="243.00" text-anchor="end" font-size="9.8" fill="#444444">0.0</text>
<path d="M38.30 239.60H39.5" stroke="#555" stroke-width="0.8"/>
<text x="36.90" y="266.50" text-anchor="end" font-size="9.8" fill="#444444">0.2</text>
<path d="M17.25 263.40H23.25" stroke="#444444" stroke-width="0.75"/>
<path d="M38.30 263.10H39.5" stroke="#555" stroke-width="0.8"/>
<text x="39.50" y="275.40" text-anchor="middle" font-size="9.8" fill="#444444">0</text>
<text x="85.93" y="275.40" text-anchor="middle" font-size="9.8" fill="#444444">20</text>
<text x="132.37" y="275.40" text-anchor="middle" font-size="9.8" fill="#444444">40</text>
<text x="178.80" y="275.40" text-anchor="middle" font-size="9.8" fill="#444444">60</text>
<clipPath id="c31"><rect x="206.6" y="211.4" width="139.70000000000002" height="55.599999999999994"/></clipPath>
<path d="M206.1 211.9H346.8" stroke="#dcdcdc" stroke-width="1.3"/>
<path d="M206.1 266.5H346.8" stroke="#b0b0b0" stroke-width="1.0"/>
<path d="M346.3 211.9V266.5" stroke="#cdcdcd" stroke-width="1.1"/>
<path d="M206.6 211.9V266.5" stroke="#c4c4c4" stroke-width="1.1"/>
<g clip-path="url(#c31)">
<path id="p31" d="M206.6 239.0L207.1 239.0 207.6 239.0 208.1 239.0 208.6 239.0 209.1 239.0 209.6 239.0 210.1 238.8 210.6 238.4 211.1 238.0 211.6 237.6 212.1 237.3 212.6 237.2 213.1 237.3 213.6 237.7 214.1 238.2 214.6 238.8 215.1 239.2 215.6 239.3 216.1 238.7 216.7 237.2 217.2 235.3 217.7 233.3 218.2 231.5 218.7 230.4 219.2 230.2 219.7 231.9 220.2 235.2 220.7 239.2 221.2 243.6 221.7 247.5 222.2 250.3 222.7 251.5 223.2 250.5 223.7 247.6 224.2 243.7 224.7 239.2 225.2 234.9 225.7 231.5 226.2 229.6 226.7 230.1 227.2 233.9 227.7 239.8 228.2 246.7 228.7 253.1 229.2 257.8 229.7 259.6 230.2 257.1 230.7 250.8 231.2 242.3 231.7 232.9 232.2 224.3 232.7 217.7 233.2 214.7 233.7 216.9 234.2 223.8 234.7 233.5 235.2 244.2 235.7 254.0 236.2 261.0 236.8 263.3 237.3 260.6 237.8 254.6 238.3 246.5 238.8 237.8 239.3 229.7 239.8 223.8 240.3 221.3 240.8 223.4 241.3 229.4 241.8 237.6 242.3 246.5 242.8 254.5 243.3 260.1 243.8 261.7 244.3 258.6 244.8 252.1 245.3 243.4 245.8 234.0 246.3 225.3 246.8 218.7 247.3 215.5 247.8 216.4 248.3 220.0 248.8 225.1 249.3 230.8 249.8 235.8 250.3 239.3 250.8 240.1 251.3 237.7 251.8 233.4 252.3 228.7 252.8 225.2 253.3 224.4 253.8 227.2 254.3 232.6 254.8 239.2 255.3 245.9 255.8 251.3 256.3 254.2 256.9 253.6 257.4 250.2 257.9 245.0 258.4 238.8 258.9 232.7 259.4 227.5 259.9 224.2 260.4 223.7 260.9 226.5 261.4 231.7 261.9 238.4 262.4 245.4 262.9 251.7 263.4 256.3 263.9 258.1 264.4 256.8 264.9 253.4 265.4 248.5 265.9 243.1 266.4 237.9 266.9 233.8 267.4 231.5 267.9 231.6 268.4 233.0 268.9 235.5 269.4 238.7 269.9 242.3 270.4 245.9 270.9 249.4 271.4 252.3 271.9 254.3 272.4 255.2 272.9 254.5 273.4 252.3 273.9 248.8 274.4 244.4 274.9 239.4 275.4 234.3 275.9 229.4 276.4 224.9 277.0 221.4 277.5 219.1 278.0 218.4 278.5 220.2 279.0 224.3 279.5 229.9 280.0 236.2 280.5 242.4 281.0 247.7 281.5 251.2 282.0 252.3 282.5 250.1 283.0 245.4 283.5 239.1 284.0 232.3 284.5 226.0 285.0 221.1 285.5 218.8 286.0 220.1 286.5 225.1 287.0 232.3 287.5 240.2 288.0 247.4 288.5 252.4 289.0 253.6 289.5 250.9 290.0 245.5 290.5 238.6 291.0 231.6 291.5 225.6 292.0 221.9 292.5 221.6 293.0 224.1 293.5 228.3 294.0 233.5 294.5 238.8 295.0 243.4 295.5 246.4 296.0 247.0 296.6 245.4 297.1 242.4 297.6 238.6 298.1 234.8 298.6 231.5 299.1 229.6 299.6 229.8 300.1 232.3 300.6 236.6 301.1 241.8 301.6 247.3 302.1 252.3 302.6 256.2 303.1 258.0 303.6 257.1 304.1 253.2 304.6 247.5 305.1 240.8 305.6 234.1 306.1 228.6 306.6 225.2 307.1 224.9 307.6 228.3 308.1 234.2 308.6 241.6 309.1 249.3 309.6 256.2 310.1 261.1 310.6 262.9 311.1 260.9 311.6 255.8 312.1 248.9 312.6 241.2 313.1 233.7 313.6 227.6 314.1 224.0 314.6 224.0 315.1 227.6 315.6 233.6 316.1 240.6 316.7 247.4 317.2 252.6 317.7 254.9 318.2 253.2 318.7 248.4 319.2 241.6 319.7 234.2 320.2 227.5 320.7 222.8 321.2 221.3 321.7 223.7 322.2 228.6 322.7 234.9 323.2 241.2 323.7 246.3 324.2 248.9 324.7 248.0 325.2 244.3 325.7 238.9 326.2 232.9 326.7 227.3 327.2 223.2 327.7 221.6 328.2 223.1 328.7 227.1 329.2 232.4 329.7 238.2 330.2 243.4 330.7 247.2 331.2 248.6 331.7 246.8 332.2 242.3 332.7 236.2 333.2 229.5 333.7 223.2 334.2 218.2 334.7 215.6 335.2 216.3 335.7 220.2 336.2 226.4 336.8 234.0 337.3 242.0 337.8 249.3 338.3 255.2 338.8 258.5 339.3 258.5 339.8 256.0 340.3 252.0 340.8 247.1 341.3 242.5 341.8 238.8 342.3 236.9 342.8 236.9 343.3 237.5 343.8 238.7 344.3 240.5 344.8 242.9 345.3 246.1 345.8 250.1 346.3 255.0" fill="none" stroke-linejoin="round"/>
<use href="#p31" stroke="#959595" stroke-width="1.0"/>
<use href="#p31" stroke="#d83838" stroke-width="1.05" stroke-dasharray="2.0 1.1"/>
</g>
<text x="204.00" y="229.30" text-anchor="end" font-size="9.8" fill="#444444">0.1</text>
<path d="M205.40 225.90H206.6" stroke="#555" stroke-width="0.8"/>
<text x="204.00" y="243.20" text-anchor="end" font-size="9.8" fill="#444444">0.0</text>
<path d="M205.40 239.80H206.6" stroke="#555" stroke-width="0.8"/>
<text x="204.00" y="257.10" text-anchor="end" font-size="9.8" fill="#444444">0.1</text>
<path d="M184.35 254.00H190.35" stroke="#444444" stroke-width="0.75"/>
<path d="M205.40 253.70H206.6" stroke="#555" stroke-width="0.8"/>
<text x="206.60" y="275.40" text-anchor="middle" font-size="9.8" fill="#444444">0</text>
<text x="253.17" y="275.40" text-anchor="middle" font-size="9.8" fill="#444444">20</text>
<text x="299.73" y="275.40" text-anchor="middle" font-size="9.8" fill="#444444">40</text>
<text x="346.30" y="275.40" text-anchor="middle" font-size="9.8" fill="#444444">60</text>
<clipPath id="c32"><rect x="374.4" y="211.4" width="139.0" height="55.599999999999994"/></clipPath>
<path d="M373.9 211.9H513.9" stroke="#dcdcdc" stroke-width="1.3"/>
<path d="M373.9 266.5H513.9" stroke="#b0b0b0" stroke-width="1.0"/>
<path d="M513.4 211.9V266.5" stroke="#cdcdcd" stroke-width="1.1"/>
<path d="M374.4 211.9V266.5" stroke="#c4c4c4" stroke-width="1.1"/>
<g clip-path="url(#c32)">
<path id="p32" d="M374.4 239.0L374.9 238.7 375.4 238.6 375.9 238.4 376.4 238.3 376.9 238.3 377.4 238.2 377.9 238.2 378.4 238.2 378.9 238.3 379.4 238.6 379.9 239.1 380.4 239.6 380.9 240.1 381.4 240.4 381.9 240.5 382.4 239.7 382.9 238.4 383.4 236.7 383.9 235.2 384.4 234.1 384.9 233.9 385.4 235.1 385.9 237.5 386.4 240.5 386.9 243.8 387.4 246.8 387.9 249.0 388.5 250.0 389.0 248.9 389.5 245.5 390.0 240.8 390.5 235.6 391.0 230.9 391.5 227.6 392.0 226.5 392.5 228.5 393.0 232.9 393.5 238.8 394.0 244.9 394.5 250.5 395.0 254.3 395.5 255.5 396.0 253.0 396.5 247.5 397.0 240.3 397.5 232.4 398.0 225.1 398.5 219.5 399.0 216.7 399.5 218.1 400.0 223.8 400.5 232.2 401.0 241.8 401.5 251.1 402.0 258.7 402.5 262.9 403.0 262.3 403.5 256.7 404.0 248.0 404.5 237.9 405.0 228.1 405.5 220.6 406.0 217.0 406.5 218.6 407.0 224.5 407.5 232.9 408.0 242.2 408.5 250.8 409.0 257.0 409.5 259.3 410.0 256.3 410.5 249.2 411.0 239.8 411.5 230.0 412.0 221.6 412.5 216.5 413.0 216.2 413.5 219.9 414.0 226.2 414.5 234.0 415.0 241.8 415.5 248.6 416.0 253.0 416.6 253.8 417.1 251.2 417.6 246.4 418.1 240.5 418.6 234.8 419.1 230.3 419.6 228.4 420.1 230.3 420.6 235.7 421.1 242.6 421.6 249.3 422.1 253.9 422.6 254.6 423.1 251.4 423.6 245.5 424.1 238.3 424.6 231.2 425.1 225.5 425.6 222.6 426.1 223.8 426.6 228.5 427.1 235.3 427.6 242.8 428.1 249.7 428.6 254.5 429.1 255.8 429.6 253.8 430.1 249.5 430.6 243.8 431.1 237.7 431.6 232.1 432.1 227.8 432.6 225.8 433.1 226.4 433.6 229.0 434.1 232.8 434.6 237.2 435.1 241.5 435.6 245.0 436.1 247.1 436.6 247.4 437.1 246.7 437.6 245.4 438.1 243.7 438.6 241.8 439.1 239.8 439.6 238.0 440.1 236.4 440.6 234.4 441.1 232.2 441.6 230.1 442.1 228.1 442.6 226.6 443.1 225.6 443.6 225.5 444.2 227.5 444.7 231.4 445.2 236.5 445.7 242.0 446.2 247.4 446.7 251.8 447.2 254.6 447.7 255.0 448.2 252.2 448.7 246.9 449.2 240.2 449.7 233.3 450.2 227.1 450.7 222.9 451.2 221.7 451.7 224.3 452.2 230.0 452.7 237.5 453.2 245.2 453.7 251.9 454.2 256.2 454.7 256.7 455.2 253.7 455.7 248.2 456.2 241.3 456.7 234.1 457.2 227.9 457.7 223.7 458.2 222.6 458.7 225.1 459.2 230.3 459.7 236.8 460.2 243.4 460.7 248.9 461.2 251.9 461.7 251.8 462.2 249.7 462.7 246.4 463.2 242.3 463.7 238.1 464.2 234.2 464.7 231.1 465.2 229.5 465.7 230.0 466.2 233.0 466.7 237.6 467.2 242.8 467.7 247.6 468.2 251.1 468.7 252.3 469.2 250.8 469.7 247.4 470.2 242.6 470.7 237.2 471.2 231.8 471.8 227.3 472.3 224.1 472.8 223.1 473.3 225.1 473.8 229.7 474.3 236.0 474.8 242.9 475.3 249.5 475.8 254.8 476.3 257.8 476.8 257.4 477.3 252.4 477.8 244.4 478.3 235.2 478.8 226.7 479.3 220.6 479.8 218.8 480.3 221.2 480.8 226.5 481.3 233.5 481.8 241.1 482.3 248.2 482.8 253.7 483.3 256.3 483.8 255.1 484.3 250.4 484.8 243.5 485.3 235.8 485.8 228.6 486.3 223.3 486.8 221.3 487.3 223.1 487.8 227.7 488.3 233.9 488.8 240.8 489.3 247.3 489.8 252.2 490.3 254.4 490.8 253.3 491.3 249.1 491.8 243.2 492.3 236.6 492.8 230.6 493.3 226.2 493.8 224.6 494.3 226.5 494.8 231.1 495.3 237.1 495.8 243.5 496.3 249.1 496.8 252.9 497.3 253.6 497.8 250.5 498.3 244.5 498.8 237.2 499.3 230.1 499.9 224.6 500.4 222.1 500.9 223.6 501.4 228.2 501.9 234.7 502.4 242.1 502.9 249.3 503.4 255.1 503.9 258.5 504.4 258.4 504.9 255.3 505.4 250.1 505.9 243.7 506.4 237.2 506.9 231.5 507.4 227.7 507.9 226.5 508.4 228.0 508.9 231.2 509.4 235.4 509.9 240.0 510.4 244.2 510.9 247.5 511.4 249.0 511.9 248.0 512.4 244.0 512.9 237.8 513.4 230.5" fill="none" stroke-linejoin="round"/>
<use href="#p32" stroke="#959595" stroke-width="1.0"/>
<use href="#p32" stroke="#d83838" stroke-width="1.05" stroke-dasharray="2.0 1.1"/>
</g>
<text x="371.80" y="225.50" text-anchor="end" font-size="9.8" fill="#444444">0.25</text>
<path d="M373.20 222.10H374.4" stroke="#555" stroke-width="0.8"/>
<text x="371.80" y="242.60" text-anchor="end" font-size="9.8" fill="#444444">0.00</text>
<path d="M373.20 239.20H374.4" stroke="#555" stroke-width="0.8"/>
<text x="371.80" y="259.70" text-anchor="end" font-size="9.8" fill="#444444">0.25</text>
<path d="M347.25 256.60H353.25" stroke="#444444" stroke-width="0.75"/>
<path d="M373.20 256.30H374.4" stroke="#555" stroke-width="0.8"/>
<text x="374.40" y="275.40" text-anchor="middle" font-size="9.8" fill="#444444">0</text>
<text x="420.73" y="275.40" text-anchor="middle" font-size="9.8" fill="#444444">20</text>
<text x="467.07" y="275.40" text-anchor="middle" font-size="9.8" fill="#444444">40</text>
<text x="513.40" y="275.40" text-anchor="middle" font-size="9.8" fill="#444444">60</text>
<clipPath id="c33"><rect x="541.5" y="211.4" width="139.0" height="55.599999999999994"/></clipPath>
<path d="M541.0 211.9H681.0" stroke="#dcdcdc" stroke-width="1.3"/>
<path d="M541.0 266.5H681.0" stroke="#b0b0b0" stroke-width="1.0"/>
<path d="M680.5 211.9V266.5" stroke="#cdcdcd" stroke-width="1.1"/>
<path d="M541.5 211.9V266.5" stroke="#8c8c8c" stroke-width="1.1"/>
<g clip-path="url(#c33)">
<path d="M541.8 241.7L542.2 240.5 542.6 239.8 543.0 240.3 543.4 241.0 543.8 240.6 544.2 239.9 544.6 239.0 545.0 241.0 545.4 241.4 545.8 239.5 546.2 238.7 546.6 242.7 547.0 244.7 547.4 238.2 547.8 236.3 548.2 241.7 548.6 245.0 549.0 238.0 549.4 234.5 549.8 240.6 550.2 244.6 550.6 240.4 551.0 233.7 551.4 237.9 551.8 245.9 552.2 243.6 552.6 233.7 553.0 235.5 553.4 246.4 553.8 244.4 554.2 238.4 554.6 237.3 555.0 242.4 555.4 244.5 555.8 241.2 556.2 239.9 556.6 242.4 557.0 245.0 557.4 241.9 557.8 240.1 558.2 241.8 558.6 244.3 559.0 242.9 559.4 239.5 559.8 240.4 560.2 244.3 560.6 242.9 561.0 240.7 561.4 241.1 561.8 244.8 562.2 244.1 562.6 241.3 563.0 240.5 563.4 247.3 563.8 249.4 564.2 242.4 564.6 238.2 565.0 246.9 565.4 251.7 565.8 243.1 566.2 238.6 566.6 244.6 567.0 249.1 567.4 243.9 567.8 239.4 568.2 244.0 568.6 250.6 569.0 244.7 569.4 237.3 569.8 241.5 570.2 252.2 570.6 247.6 571.0 237.2 571.4 239.1 571.8 250.4 572.2 250.5 572.6 235.3 573.0 235.0 573.4 248.7 573.8 251.5 574.2 239.9 574.6 232.8 575.0 245.7 575.4 246.8 575.8 239.7 576.2 236.5 576.6 245.0 577.0 252.0 577.4 242.5 577.8 236.9 578.2 244.8 578.6 250.4 579.0 244.5 579.4 241.6 579.8 243.5 580.2 246.7 580.6 245.2 581.0 241.0 581.4 242.6 581.8 248.9 582.2 253.3 582.6 238.9 583.0 233.5 583.4 248.3 583.8 248.9 584.2 239.9 584.6 231.9 585.0 247.6 585.4 256.6 585.8 242.5 586.2 230.9 586.6 247.6 587.0 258.1 587.4 246.1 587.8 230.1 588.2 241.3 588.6 261.7 589.0 252.6 589.4 230.1 589.8 238.3 590.2 260.6 590.6 251.7 591.0 237.1 591.4 239.6 591.8 253.0 592.2 251.5 592.6 240.9 593.0 235.3 593.4 253.0 593.8 257.6 594.2 240.1 594.6 234.8 595.0 250.3 595.4 257.9 595.8 245.6 596.2 228.7 596.6 244.0 597.0 255.9 597.4 248.8 597.8 241.7 598.2 243.9 598.6 252.5 599.0 248.3 599.4 243.7 599.8 245.1 600.2 247.8 600.6 249.4 601.0 244.5 601.4 243.0 601.8 247.9 602.2 249.1 602.6 244.9 603.0 240.3 603.4 247.1 603.8 252.5 604.2 247.3 604.6 240.2 605.0 245.6 605.4 250.9 605.8 247.2 606.2 243.4 606.6 243.4 607.0 249.2 607.4 247.5 607.8 244.1 608.2 244.3 608.6 248.3 609.0 247.5 609.4 245.6 609.8 245.3 610.2 247.3 610.6 247.6 611.0 245.9 611.4 244.5 611.8 247.4 612.2 248.6 612.6 246.3 613.0 245.0 613.4 247.3 613.8 249.6 614.2 247.2 614.6 241.7 615.0 246.8 615.4 251.3 615.8 248.6 616.2 242.4 616.6 244.2 617.0 251.2 617.4 250.8 617.8 243.3 618.2 243.9 618.6 249.6 619.0 249.5 619.4 245.7 619.8 244.6 620.2 248.4 620.6 249.0 621.0 246.1 621.4 244.6 621.8 248.0 622.2 251.7 622.6 247.1 623.0 241.3 623.4 247.1 623.8 255.5 624.2 248.1 624.6 232.6 625.0 245.4 625.4 261.7 625.8 249.0 626.2 232.4 626.6 245.2 627.0 257.4 627.4 248.1 627.8 236.0 628.2 243.2 628.6 254.7 629.0 249.7 629.4 239.4 629.8 243.4 630.2 251.7 630.6 250.6 631.0 242.0 631.4 243.3 631.8 251.1 632.2 249.7 632.6 244.8 633.0 239.0 633.4 248.8 633.8 249.9 634.2 245.0 634.6 236.5 635.0 248.6 635.4 258.7 635.8 247.9 636.2 232.7 636.6 241.7 637.0 259.7 637.4 254.2 637.8 238.5 638.2 240.3 638.6 253.6 639.0 252.2 639.4 244.2 639.8 241.9 640.2 247.0 640.6 252.0 641.0 247.6 641.4 240.3 641.8 244.8 642.2 250.7 642.6 249.0 643.0 240.0 643.4 243.9 643.8 249.7 644.2 249.7 644.6 244.2 645.0 241.1 645.4 247.7 645.8 254.7 646.2 247.3 646.6 240.5 647.0 246.1 647.4 250.7 647.8 247.7 648.2 242.8 648.6 244.9 649.0 251.2 649.4 249.2 649.8 239.4 650.2 243.8 650.6 254.5 651.0 251.4 651.4 239.5 651.8 240.8 652.2 252.5 652.6 254.0 653.0 241.6 653.4 239.4 653.8 252.7 654.2 255.4 654.6 244.8 655.0 234.8 655.4 250.2 655.8 255.6 656.2 246.3 656.6 241.0 657.0 247.5 657.4 256.6 657.8 248.4 658.2 242.8 658.6 246.5 659.0 249.9 659.4 248.8 659.8 245.1 660.2 246.0 660.6 249.7 661.0 248.9 661.4 244.6 661.8 243.8 662.2 253.1 662.6 253.7 663.0 238.3 663.4 240.5 663.8 253.0 664.2 251.9 664.6 242.4 665.0 241.2 665.4 245.9 665.8 246.6 666.2 243.6 666.6 242.9 667.0 244.7 667.4 246.6 667.8 244.9 668.2 242.2 668.6 243.7 669.0 246.4 669.4 245.9 669.8 242.8 670.2 241.2 670.6 246.9 671.0 249.2 671.4 242.2 671.8 240.2 672.2 246.0 672.6 251.7 673.0 243.8 673.4 236.4 673.8 244.3 674.2 252.6 674.6 246.3 675.0 236.6 675.4 243.0 675.8 252.3 676.2 246.8 676.6 237.0 677.0 242.1 677.4 252.7 677.8 248.3 678.2 240.6 678.6 244.2 679.0 249.8 679.4 251.0 679.8 243.8 680.2 244.5" fill="none" stroke="#d42a2a" stroke-width="1.0" stroke-dasharray="1.3 0.9"/>
<path d="M541.5 239.0H680.5" stroke="#a8a8a8" stroke-width="1.6"/>
<path d="M541.9 228.0V249.0" stroke="#d42a2a" stroke-width="1.0" stroke-dasharray="1.2 0.9"/>
<path d="M680.0 227.0V265.5" stroke="#d42a2a" stroke-width="1.0" stroke-dasharray="1.2 0.9"/>
</g>
<text x="538.90" y="216.10" text-anchor="end" font-size="9.8" fill="#444444">0.025</text>
<path d="M540.30 212.70H541.5" stroke="#555" stroke-width="0.8"/>
<text x="538.90" y="242.35" text-anchor="end" font-size="9.8" fill="#444444">0.000</text>
<path d="M540.30 238.95H541.5" stroke="#555" stroke-width="0.8"/>
<text x="538.90" y="268.60" text-anchor="end" font-size="9.8" fill="#444444">0.025</text>
<path d="M509.45 265.50H515.45" stroke="#444444" stroke-width="0.75"/>
<path d="M540.30 265.20H541.5" stroke="#555" stroke-width="0.8"/>
<text x="541.50" y="275.40" text-anchor="middle" font-size="9.8" fill="#444444">0</text>
<text x="587.83" y="275.40" text-anchor="middle" font-size="9.8" fill="#444444">20</text>
<text x="634.17" y="275.40" text-anchor="middle" font-size="9.8" fill="#444444">40</text>
<text x="680.50" y="275.40" text-anchor="middle" font-size="9.8" fill="#444444">60</text>
<text x="-0.6" y="242.30" font-size="12" fill="#444444">4</text>
<path d="M7.10 237.75L7.10 234.65M5.76 236.97L8.44 235.42M8.44 236.97L5.76 235.42" stroke="#444444" stroke-width="0.9" stroke-linecap="round"/>
<clipPath id="c40"><rect x="39.5" y="277.1" width="139.3" height="55.799999999999955"/></clipPath>
<path d="M39.0 277.4H179.3" stroke="#dcdcdc" stroke-width="1.3"/>
<path d="M39.0 332.4H179.3" stroke="#e0e0e0" stroke-width="1.3"/>
<path d="M178.8 277.6V332.4" stroke="#cdcdcd" stroke-width="1.1"/>
<path d="M39.5 277.6V332.4" stroke="#c4c4c4" stroke-width="1.1"/>
<g clip-path="url(#c40)">
<path id="p40" d="M39.5 304.2L40.0 304.2 40.5 304.2 41.0 304.2 41.5 304.2 42.0 304.2 42.5 304.2 43.0 304.2 43.5 304.2 44.0 304.2 44.5 304.2 45.0 304.2 45.5 304.0 46.0 303.8 46.5 303.5 47.0 303.2 47.5 302.9 48.0 302.6 48.5 302.2 49.0 302.0 49.6 301.7 50.1 301.5 50.6 301.3 51.1 301.1 51.6 300.9 52.1 300.6 52.6 300.1 53.1 299.2 53.6 297.9 54.1 296.3 54.6 294.8 55.1 293.4 55.6 292.4 56.1 292.0 56.6 292.5 57.1 293.9 57.6 296.0 58.1 298.6 58.6 301.4 59.1 304.3 59.6 307.1 60.1 309.4 60.6 311.1 61.1 312.0 61.6 312.0 62.1 311.6 62.6 311.1 63.1 310.5 63.6 309.9 64.1 309.7 64.6 309.9 65.1 310.6 65.6 311.5 66.1 312.3 66.6 312.9 67.1 313.0 67.6 311.9 68.1 309.6 68.6 306.6 69.1 303.2 69.7 300.0 70.2 297.2 70.7 295.3 71.2 294.7 71.7 295.8 72.2 298.3 72.7 301.8 73.2 306.0 73.7 310.5 74.2 314.9 74.7 318.8 75.2 321.9 75.7 323.7 76.2 324.1 76.7 323.8 77.2 323.3 77.7 322.6 78.2 321.7 78.7 320.7 79.2 319.5 79.7 318.2 80.2 316.9 80.7 315.6 81.2 313.9 81.7 311.8 82.2 309.4 82.7 306.9 83.2 304.3 83.7 301.9 84.2 299.3 84.7 296.3 85.2 293.2 85.7 290.3 86.2 287.9 86.7 286.2 87.2 285.4 87.7 285.5 88.2 285.9 88.7 286.6 89.3 287.4 89.8 288.4 90.3 289.4 90.8 291.0 91.3 293.7 91.8 297.0 92.3 300.5 92.8 303.7 93.3 306.3 93.8 307.7 94.3 307.6 94.8 305.9 95.3 303.0 95.8 299.3 96.3 295.3 96.8 291.3 97.3 287.9 97.8 285.3 98.3 284.1 98.8 284.6 99.3 286.4 99.8 289.4 100.3 293.1 100.8 297.5 101.3 302.1 101.8 306.8 102.3 311.2 102.8 315.1 103.3 318.2 103.8 320.2 104.3 320.9 104.8 320.6 105.3 319.8 105.8 318.8 106.3 317.7 106.8 316.8 107.3 316.2 107.8 316.0 108.3 316.8 108.8 318.2 109.4 320.0 109.9 322.0 110.4 323.9 110.9 325.4 111.4 326.3 111.9 326.2 112.4 324.5 112.9 321.5 113.4 317.5 113.9 313.0 114.4 308.3 114.9 303.7 115.4 299.5 115.9 296.2 116.4 294.1 116.9 293.5 117.4 294.2 117.9 295.7 118.4 297.8 118.9 300.3 119.4 302.9 119.9 305.4 120.4 307.5 120.9 309.0 121.4 309.7 121.9 309.6 122.4 309.3 122.9 308.7 123.4 307.9 123.9 307.0 124.4 306.0 124.9 305.0 125.4 303.9 125.9 302.6 126.4 300.7 126.9 298.2 127.4 295.5 127.9 292.7 128.4 290.0 128.9 287.6 129.5 285.8 130.0 284.6 130.5 284.4 131.0 285.1 131.5 286.5 132.0 288.4 132.5 290.5 133.0 292.9 133.5 295.2 134.0 297.3 134.5 298.9 135.0 300.0 135.5 300.5 136.0 300.7 136.5 300.9 137.0 301.2 137.5 301.8 138.0 302.7 138.5 304.0 139.0 305.3 139.5 306.7 140.0 307.8 140.5 308.7 141.0 309.1 141.5 308.7 142.0 307.3 142.5 305.2 143.0 303.0 143.5 300.9 144.0 299.3 144.5 298.8 145.0 299.7 145.5 302.0 146.0 305.4 146.5 309.5 147.0 314.0 147.5 318.4 148.0 322.5 148.5 325.9 149.1 328.3 149.6 329.3 150.1 328.9 150.6 327.5 151.1 325.5 151.6 323.1 152.1 320.4 152.6 317.7 153.1 315.2 153.6 313.2 154.1 311.4 154.6 309.4 155.1 307.5 155.6 305.7 156.1 304.1 156.6 303.0 157.1 302.4 157.6 302.5 158.1 303.3 158.6 304.8 159.1 306.6 159.6 308.6 160.1 310.6 160.6 312.3 161.1 313.5 161.6 314.1 162.1 313.5 162.6 311.6 163.1 308.6 163.6 304.9 164.1 300.9 164.6 296.9 165.1 293.5 165.6 290.9 166.1 289.4 166.6 288.8 167.1 288.3 167.6 287.9 168.1 287.5 168.6 286.9 169.2 286.1 169.7 285.1 170.2 284.0 170.7 282.9 171.2 282.1 171.7 281.5 172.2 281.5 172.7 282.6 173.2 284.7 173.7 287.6 174.2 291.0 174.7 294.5 175.2 297.8 175.7 300.8 176.2 303.8 176.7 306.9 177.2 310.2 177.7 313.5 178.2 317.0 178.7 320.5" fill="none" stroke-linejoin="round"/>
<use href="#p40" stroke="#7a7a7a" stroke-width="0.8"/>
<path d="M39.5 304.2h0m.3 0h0m.3 0h0m.3 0h0m.3 0h0m.3 0h0m.3 0h0m.3 0h0m.3 0h0m.3 0h0m.3 0h0m.3 0h0m.3 0h0m.3 0h0m.3 0h0m.3 0h0m.3 0h0m.3 0h0m.3 0h0m.3-.1h0m.3-.1h0m.3-.1h0m.3-.1h0m.3-.2h0m.3-.2h0m.3-.2h0m.3-.1h0m.3-.2h0m.3-.2h0m.3-.2h0m.3-.2h0m.3-.2h0m.3-.1h0m.3-.2h0m.3-.1h0m.3-.1h0m.3-.2h0m.3-.1h0m.3-.1h0m.3-.1h0m.3-.2h0m.3-.2h0m.3-.2h0m.3-.2h0m.3-.4h0m.3-.6h0m.3-.7h0m.3-.8h0m.3-.9h0m.3-1h0m.3-.9h0m.3-.9h0m.3-.8h0m.3-.6h0m.3-.4h0m.3-.2h0m.3 .1h0m.3 .3h0m.3 .9h0m.3 1h0m.3 1.2h0m.3 1.5h0m.3 1.5h0m.3 1.7h0m.3 1.7h0m.3 1.8h0m.3 1.6h0m.3 1.7h0m.3 1.4h0m.3 1.2h0m.3 1.1h0m.3 .7h0m.3 .5h0m.3 0h0m.3 0h0m.3-.3h0m.3-.3h0m.3-.3h0m.3-.4h0m.3-.3h0m.3-.3h0m.3-.2h0m.3-.2h0m.3 .1h0m.3 .2h0m.3 .4h0m.3 .5h0m.3 .5h0m.3 .5h0m.3 .5h0m.3 .4h0m.3 .2h0m.3 0h0m.3-.6h0m.3-.8h0m.3-1.3h0m.3-1.6h0m.3-1.8h0m.3-2h0m.3-2h0m.3-1.9h0m.3-1.9h0m.3-1.6h0m.3-1.2h0m.3-1.1h0m.3-.3h0m.3 .1h0m.3 .6h0m.3 1.4h0m.3 1.5h0m.3 2.1h0m.3 2.3h0m.3 2.5h0m.3 2.7h0m.3 2.6h0m.3 2.7h0m.3 2.5h0m.3 2.3h0m.3 2h0m.3 1.8h0m.3 1.1h0m.3 .7h0m.3 .2h0m.3 0h0m.3-.2h0m.3-.3h0m.3-.3h0m.3-.4h0m.3-.5h0m.3-.6h0m.3-.6h0m.3-.7h0m.3-.7h0m.3-.7h0m.3-.8h0m.3-.7h0m.3-.8h0m.3-.8h0m.3-.9h0m.3-1h0m.3-1.3h0m.3-1.3h0m.3-1.4h0m.3-1.5h0m.3-1.5h0m.3-1.6h0m.3-1.5h0m.3-1.4h0m.3-1.5h0m.3-1.6h0m.3-1.7h0m.3-1.8h0m.3-1.9h0m.3-1.7h0m.3-1.8h0m.3-1.5h0m.3-1.3h0m.3-1.1h0m.3-.7h0m.3-.4h0m.3 0h0m.3 .1h0m.3 .2h0m.3 .3h0m.3 .4h0m.3 .5h0m.3 .5h0m.3 .6h0m.3 .6h0m.3 .6h0m.3 .9h0m.3 1h0m.3 1.6h0m.3 1.8h0m.3 2h0m.3 2h0m.3 2.1h0m.3 1.9h0m.3 1.8h0m.3 1.5h0m.3 1h0m.3 .8h0m.3 0h0m.3-.5h0m.3-1h0m.3-1.6h0m.3-1.7h0m.3-2.2h0m.3-2.3h0m.3-2.4h0m.3-2.4h0m.3-2.3h0m.3-2.1h0m.3-1.9h0m.3-1.5h0m.3-1h0m.3-.7h0m.3 .3h0m.3 .6h0m.3 1h0m.3 1.6h0m.3 1.7h0m.3 2.3h0m.3 2.4h0m.3 2.6h0m.3 2.7h0m.3 2.7h0m.3 2.8h0m.3 2.8h0m.3 2.6h0m.3 2.4h0m.3 2.4h0m.3 1.8h0m.3 1.7h0m.3 1.2h0m.3 .8h0m.3 .4h0m.3-.2h0m.3-.2h0m.3-.5h0m.3-.5h0m.3-.6h0m.3-.7h0m.3-.6h0m.3-.6h0m.3-.4h0m.3-.4h0m.3-.1h0m.3 0h0m.3 .5h0m.3 .6h0m.3 .8h0m.3 1.1h0m.3 1.1h0m.3 1.2h0m.3 1.2h0m.3 1.1h0m.3 .9h0m.3 .9h0m.3 .5h0m.3 .3h0m.3-.1h0m.3-.8h0m.3-1.1h0m.3-1.8h0m.3-2h0m.3-2.4h0m.3-2.6h0m.3-2.7h0m.3-2.9h0m.3-2.8h0m.3-2.7h0m.3-2.6h0m.3-2.4h0m.3-2h0m.3-1.7h0m.3-1.2h0m.3-.7h0m.3-.3h0m.3 .4h0m.3 .6h0m.3 .9h0m.3 1.2h0m.3 1.3h0m.3 1.4h0m.3 1.5h0m.3 1.6h0m.3 1.5h0m.3 1.4h0m.3 1.3h0m.3 1.2h0m.3 .9h0m.3 .6h0m.3 .4h0m.3-.1h0m.3-.1h0m.3-.2h0m.3-.3h0m.3-.3h0m.3-.4h0m.3-.5h0m.3-.5h0m.3-.6h0m.3-.6h0m.3-.6h0m.3-.7h0m.3-.6h0m.3-.8h0m.3-.7h0m.3-1.1h0m.3-1.2h0m.3-1.5h0m.3-1.5h0m.3-1.7h0m.3-1.6h0m.3-1.7h0m.3-1.6h0m.3-1.5h0m.3-1.4h0m.3-1.2h0m.3-1h0m.3-.7h0m.3-.4h0m.3-.1h0m.3 .3h0m.3 .4h0m.3 .8h0m.3 1h0m.3 1.1h0m.3 1.3h0m.3 1.3h0m.3 1.4h0m.3 1.4h0m.3 1.3h0m.3 1.3h0m.3 1.2h0m.3 1h0m.3 .9h0m.3 .7h0m.3 .3h0m.3 .3h0m.3 .2h0m.3 .1h0m.3 .1h0m.3 .2h0m.3 .1h0m.3 .4h0m.3 .4h0m.3 .5h0m.3 .7h0m.3 .8h0m.3 .8h0m.3 .8h0m.3 .8h0m.3 .7h0m.3 .7h0m.3 .5h0m.3 .5h0m.3 .2h0m.3-.1h0m.3-.2h0m.3-.8h0m.3-1h0m.3-1.2h0m.3-1.3h0m.3-1.4h0m.3-1.2h0m.3-1.2h0m.3-.9h0m.3-.5h0m.3-.4h0m.3 .5h0m.3 .7h0m.3 1.4h0m.3 1.8h0m.3 2h0m.3 2.4h0m.3 2.5h0m.3 2.6h0m.3 2.7h0m.3 2.6h0m.3 2.5h0m.3 2.4h0m.3 2h0m.3 1.8h0m.3 1.4h0m.3 .7h0m.3 .5h0m.3-.3h0m.3-.5h0m.3-.8h0m.3-1.1h0m.3-1.2h0m.3-1.5h0m.3-1.5h0m.3-1.7h0m.3-1.6h0m.3-1.6h0m.3-1.4h0m.3-1.4h0m.3-1.2h0m.3-1.1h0m.3-1.1h0m.3-1.2h0m.3-1.1h0m.3-1.2h0m.3-1.1h0m.3-1.1h0m.3-.9h0m.3-.8h0m.3-.7h0m.3-.5h0m.3-.3h0m.3 0h0m.3 .2h0m.3 .6h0m.3 .7h0m.3 .9h0m.3 1.1h0m.3 1.1h0m.3 1.2h0m.3 1.2h0m.3 1.2h0m.3 1h0m.3 .9h0m.3 .7h0m.3 .5h0m.3 .4h0m.3-.3h0m.3-.6h0m.3-1.2h0m.3-1.5h0m.3-1.8h0m.3-2.2h0m.3-2.2h0m.3-2.4h0m.3-2.4h0m.3-2.3h0m.3-2.1h0m.3-2h0m.3-1.5h0m.3-1.2h0m.3-.9h0m.3-.4h0m.3-.4h0m.3-.3h0m.3-.2h0m.3-.3h0m.3-.2h0m.3-.3h0m.3-.3h0m.3-.4h0m.3-.5h0m.3-.6h0m.3-.6h0m.3-.7h0m.3-.6h0m.3-.6h0m.3-.6h0m.3-.5h0m.3-.3h0m.3-.2h0m.3 0h0m.3 .5h0m.3 .7h0m.3 1.3h0m.3 1.5h0m.3 1.7h0m.3 1.9h0m.3 2h0m.3 2.1h0m.3 2.1h0m.3 1.9h0m.3 1.9h0m.3 1.8h0m.3 1.8h0m.3 1.8h0m.3 1.9h0m.3 1.9h0m.3 1.9h0m.3 2h0m.3 2h0m.3 2.1h0m.3 2.1h0m.3 2.1h0" stroke="#3874bc" stroke-width="1.45" stroke-linecap="round" fill="none"/>
<use href="#p40" stroke="#d83838" stroke-width="0.95" stroke-dasharray="1.7 1.5"/>
</g>
<text x="36.90" y="286.70" text-anchor="end" font-size="9.8" fill="#444444">0.2</text>
<path d="M38.30 283.30H39.5" stroke="#555" stroke-width="0.8"/>
<text x="36.90" y="308.85" text-anchor="end" font-size="9.8" fill="#444444">0.0</text>
<path d="M38.30 305.45H39.5" stroke="#555" stroke-width="0.8"/>
<text x="36.90" y="331.00" text-anchor="end" font-size="9.8" fill="#444444">0.2</text>
<path d="M17.25 327.90H23.25" stroke="#444444" stroke-width="0.75"/>
<path d="M38.30 327.60H39.5" stroke="#555" stroke-width="0.8"/>
<text x="39.50" y="341.30" text-anchor="middle" font-size="9.8" fill="#444444">0</text>
<text x="85.93" y="341.30" text-anchor="middle" font-size="9.8" fill="#444444">20</text>
<text x="132.37" y="341.30" text-anchor="middle" font-size="9.8" fill="#444444">40</text>
<text x="178.80" y="341.30" text-anchor="middle" font-size="9.8" fill="#444444">60</text>
<clipPath id="c41"><rect x="206.6" y="277.1" width="139.70000000000002" height="55.799999999999955"/></clipPath>
<path d="M206.1 277.4H346.8" stroke="#dcdcdc" stroke-width="1.3"/>
<path d="M206.1 332.4H346.8" stroke="#e0e0e0" stroke-width="1.3"/>
<path d="M346.3 277.6V332.4" stroke="#cdcdcd" stroke-width="1.1"/>
<path d="M206.6 277.6V332.4" stroke="#c4c4c4" stroke-width="1.1"/>
<g clip-path="url(#c41)">
<path id="p41" d="M206.6 304.2L207.1 304.2 207.6 304.2 208.1 304.2 208.6 304.2 209.1 304.2 209.6 304.2 210.1 304.2 210.6 304.2 211.1 304.2 211.6 304.1 212.1 303.9 212.6 303.6 213.1 303.4 213.6 303.3 214.1 303.2 214.6 303.2 215.1 303.3 215.6 303.4 216.1 303.5 216.7 303.6 217.2 303.7 217.7 303.8 218.2 303.8 218.7 303.2 219.2 302.2 219.7 300.9 220.2 299.6 220.7 298.5 221.2 297.8 221.7 297.7 222.2 298.8 222.7 300.9 223.2 303.7 223.7 307.0 224.2 310.4 224.7 313.7 225.2 316.6 225.7 318.7 226.2 319.9 226.7 319.6 227.2 317.6 227.7 314.4 228.2 310.6 228.7 306.8 229.2 303.6 229.7 301.6 230.2 301.4 230.7 302.7 231.2 304.7 231.7 306.8 232.2 308.5 232.7 309.1 233.2 307.8 233.7 304.6 234.2 300.5 234.7 295.9 235.2 291.9 235.7 289.0 236.2 288.0 236.8 289.7 237.3 293.8 237.8 299.6 238.3 306.2 238.8 313.1 239.3 319.4 239.8 324.5 240.3 327.6 240.8 328.2 241.3 326.3 241.8 322.7 242.3 318.0 242.8 312.9 243.3 307.8 243.8 303.4 244.3 300.3 244.8 299.1 245.3 299.4 245.8 299.9 246.3 300.4 246.8 300.6 247.3 299.8 247.8 298.1 248.3 295.8 248.8 293.2 249.3 290.8 249.8 288.7 250.3 287.3 250.8 287.0 251.3 287.7 251.8 289.2 252.3 291.4 252.8 293.9 253.3 296.7 253.8 299.5 254.3 302.2 254.8 304.6 255.3 306.7 255.8 308.8 256.3 311.1 256.9 313.4 257.4 315.5 257.9 317.3 258.4 318.7 258.9 319.5 259.4 319.6 259.9 317.5 260.4 313.5 260.9 308.3 261.4 302.4 261.9 296.4 262.4 291.0 262.9 286.9 263.4 284.6 263.9 284.9 264.4 287.7 264.9 292.6 265.4 298.8 265.9 305.7 266.4 312.7 266.9 319.1 267.4 324.3 267.9 327.6 268.4 328.5 268.9 327.2 269.4 324.4 269.9 320.7 270.4 316.2 270.9 311.6 271.4 307.1 271.9 303.3 272.4 300.4 272.9 298.9 273.4 299.1 273.9 300.6 274.4 302.9 274.9 305.7 275.4 308.6 275.9 311.4 276.4 313.6 277.0 314.8 277.5 314.7 278.0 312.2 278.5 308.0 279.0 302.6 279.5 296.7 280.0 290.8 280.5 285.7 281.0 281.8 281.5 280.0 282.0 280.7 282.5 284.0 283.0 289.1 283.5 295.3 284.0 301.9 284.5 308.3 285.0 313.8 285.5 317.6 286.0 319.0 286.5 318.1 287.0 315.8 287.5 312.6 288.0 308.9 288.5 305.4 289.0 302.6 289.5 300.8 290.0 300.4 290.5 300.3 291.0 300.1 291.5 300.0 292.0 299.7 292.5 298.8 293.0 297.3 293.5 295.6 294.0 293.8 294.5 292.4 295.0 291.5 295.5 291.6 296.0 293.4 296.6 296.4 297.1 300.4 297.6 304.7 298.1 309.0 298.6 312.8 299.1 315.6 299.6 317.0 300.1 316.7 300.6 315.1 301.1 312.7 301.6 310.0 302.1 307.4 302.6 305.4 303.1 304.3 303.6 304.6 304.1 305.6 304.6 307.1 305.1 308.9 305.6 310.5 306.1 311.6 306.6 312.1 307.1 311.2 307.6 308.7 308.1 305.3 308.6 301.6 309.1 298.0 309.6 295.2 310.1 293.6 310.6 294.1 311.1 297.1 311.6 302.1 312.1 308.1 312.6 314.5 313.1 320.4 313.6 325.1 314.1 327.9 314.6 328.0 315.1 325.5 315.6 321.2 316.1 315.5 316.7 309.3 317.2 303.0 317.7 297.4 318.2 293.1 318.7 290.6 319.2 290.4 319.7 290.8 320.2 291.5 320.7 292.5 321.2 293.7 321.7 295.0 322.2 296.5 322.7 298.0 323.2 299.5 323.7 301.1 324.2 303.4 324.7 306.0 325.2 308.7 325.7 311.4 326.2 313.6 326.7 315.2 327.2 316.0 327.7 315.3 328.2 312.7 328.7 308.7 329.2 303.9 329.7 298.8 330.2 294.0 330.7 289.9 331.2 287.1 331.7 286.1 332.2 287.1 332.7 289.4 333.2 292.6 333.7 296.1 334.2 299.4 334.7 302.0 335.2 303.4 335.7 303.2 336.2 302.0 336.8 300.6 337.3 299.4 337.8 299.2 338.3 300.6 338.8 303.5 339.3 307.3 339.8 311.7 340.3 316.3 340.8 320.7 341.3 324.5 341.8 327.2 342.3 328.5 342.8 328.3 343.3 327.1 343.8 325.1 344.3 322.2 344.8 318.5 345.3 314.0 345.8 308.8 346.3 303.0" fill="none" stroke-linejoin="round"/>
<use href="#p41" stroke="#7a7a7a" stroke-width="0.8"/>
<path d="M206.6 304.2h0m.3 0h0m.3 0h0m.3 0h0m.3 0h0m.3 0h0m.3 0h0m.3 0h0m.3 0h0m.3 0h0m.3 0h0m.3 0h0m.3 0h0m.3 0h0m.3 0h0m.3 0h0m.3-.1h0m.3-.1h0m.3-.1h0m.3-.1h0m.3-.1h0m.3-.2h0m.3-.1h0m.3-.1h0m.3-.1h0m.3 0h0m.3 0h0m.3 0h0m.3 .1h0m.3 0h0m.3 .1h0m.3 .1h0m.3 0h0m.3 .1h0m.3 .1h0m.3 0h0m.3 .1h0m.3 0h0m.3 0h0m.3-.2h0m.3-.3h0m.3-.6h0m.3-.6h0m.3-.8h0m.3-.7h0m.3-.8h0m.3-.7h0m.3-.7h0m.3-.4h0m.3-.3h0m.3 0h0m.3 .5h0m.3 .7h0m.3 1.2h0m.3 1.4h0m.3 1.7h0m.3 1.9h0m.3 2h0m.3 2h0m.3 2.1h0m.3 1.9h0m.3 1.8h0m.3 1.7h0m.3 1.3h0m.3 1.1h0m.3 .7h0m.3 .1h0m.3-.2h0m.3-1.2h0m.3-1.4h0m.3-1.9h0m.3-2.2h0m.3-2.3h0m.3-2.2h0m.3-2.2h0m.3-1.9h0m.3-1.4h0m.3-1.2h0m.3-.2h0m.3 .1h0m.3 .8h0m.3 1h0m.3 1.2h0m.3 1.2h0m.3 1.2h0m.3 1h0m.3 .7h0m.3 .4h0m.3-.7h0m.3-1h0m.3-1.9h0m.3-2.2h0m.3-2.5h0m.3-2.7h0m.3-2.6h0m.3-2.5h0m.3-2h0m.3-1.8h0m.3-.7h0m.3-.3h0m.3 1h0m.3 1.7h0m.3 2.5h0m.3 3.2h0m.3 3.5h0m.3 4h0m.3 4h0m.3 4.1h0m.3 3.9h0m.3 3.7h0m.3 3h0m.3 2.5h0m.3 1.9h0m.3 .7h0m.3 .2h0m.3-1.2h0m.3-1.5h0m.3-2.1h0m.3-2.7h0m.3-2.8h0m.3-3.1h0m.3-3h0m.3-3.1h0m.3-2.7h0m.3-2.6h0m.3-1.8h0m.3-1.5h0m.3-.7h0m.3-.1h0m.3 .2h0m.3 .3h0m.3 .3h0m.3 .3h0m.3 .2h0m.3 .1h0m.3-.5h0m.3-.7h0m.3-1h0m.3-1.2h0m.3-1.4h0m.3-1.5h0m.3-1.5h0m.3-1.5h0m.3-1.3h0m.3-1.2h0m.3-.9h0m.3-.6h0m.3-.2h0m.3 .2h0m.3 .4h0m.3 .9h0m.3 .9h0m.3 1.3h0m.3 1.4h0m.3 1.5h0m.3 1.7h0m.3 1.7h0m.3 1.7h0m.3 1.6h0m.3 1.6h0m.3 1.5h0m.3 1.4h0m.3 1.2h0m.3 1.2h0m.3 1.3h0m.3 1.4h0m.3 1.3h0m.3 1.4h0m.3 1.3h0m.3 1.2h0m.3 1.2h0m.3 1h0m.3 .9h0m.3 .6h0m.3 .5h0m.3 .1h0m.3-.1h0m.3-1.2h0m.3-1.7h0m.3-2.4h0m.3-3h0m.3-3.1h0m.3-3.6h0m.3-3.5h0m.3-3.6h0m.3-3.3h0m.3-3.1h0m.3-2.5h0m.3-2h0m.3-1.4h0m.3-.3h0m.3 .2h0m.3 1.7h0m.3 2.2h0m.3 2.9h0m.3 3.4h0m.3 3.8h0m.3 4.1h0m.3 4.1h0m.3 4.2h0m.3 4h0m.3 3.8h0m.3 3.1h0m.3 2.7h0m.3 2h0m.3 1h0m.3 .5h0m.3-.7h0m.3-1h0m.3-1.6h0m.3-2.1h0m.3-2.2h0m.3-2.6h0m.3-2.7h0m.3-2.8h0m.3-2.7h0m.3-2.7h0m.3-2.3h0m.3-2.2h0m.3-1.7h0m.3-1.2h0m.3-.9h0m.3 0h0m.3 .3h0m.3 .9h0m.3 1.1h0m.3 1.4h0m.3 1.6h0m.3 1.7h0m.3 1.8h0m.3 1.7h0m.3 1.6h0m.3 1.4h0m.3 1.2h0m.3 .7h0m.3 .4h0m.3-.1h0m.3-1.2h0m.3-1.6h0m.3-2.5h0m.3-2.9h0m.3-3.2h0m.3-3.5h0m.3-3.5h0m.3-3.5h0m.3-3.3h0m.3-3.1h0m.3-2.5h0m.3-2.2h0m.3-1.1h0m.3-.4h0m.3 .4h0m.3 1.6h0m.3 2h0m.3 3h0m.3 3.3h0m.3 3.7h0m.3 3.9h0m.3 4h0m.3 3.8h0m.3 3.6h0m.3 3.3h0m.3 2.6h0m.3 2.2h0m.3 .8h0m.3 .4h0m.3-.5h0m.3-1.1h0m.3-1.4h0m.3-1.9h0m.3-2h0m.3-2.2h0m.3-2.1h0m.3-2.1h0m.3-1.7h0m.3-1.5h0m.3-1.1h0m.3-.5h0m.3-.3h0m.3-.1h0m.3-.1h0m.3 0h0m.3-.1h0m.3-.1h0m.3-.2h0m.3-.2h0m.3-.6h0m.3-.7h0m.3-.9h0m.3-1h0m.3-1h0m.3-1.1h0m.3-.9h0m.3-.9h0m.3-.6h0m.3-.4h0m.3 .1h0m.3 .6h0m.3 1h0m.3 1.7h0m.3 1.9h0m.3 2.4h0m.3 2.5h0m.3 2.6h0m.3 2.5h0m.3 2.6h0m.3 2.2h0m.3 2h0m.3 1.7h0m.3 1h0m.3 .7h0m.3-.2h0m.3-.5h0m.3-1h0m.3-1.3h0m.3-1.4h0m.3-1.6h0m.3-1.6h0m.3-1.6h0m.3-1.3h0m.3-1.2h0m.3-.6h0m.3-.3h0m.3 .1h0m.3 .5h0m.3 .7h0m.3 .9h0m.3 .9h0m.3 1h0m.3 1h0m.3 1h0m.3 .7h0m.3 .5h0m.3 .3h0m.3-.3h0m.3-.5h0m.3-1.5h0m.3-1.6h0m.3-2h0m.3-2.2h0m.3-2.2h0m.3-2.2h0m.3-2h0m.3-1.7h0m.3-1.2h0m.3-.9h0m.3 .2h0m.3 .7h0m.3 1.8h0m.3 2.5h0m.3 2.9h0m.3 3.6h0m.3 3.6h0m.3 3.8h0m.3 3.7h0m.3 3.5h0m.3 2.9h0m.3 2.6h0m.3 1.6h0m.3 .8h0m.3 .1h0m.3-1.3h0m.3-1.7h0m.3-2.6h0m.3-3h0m.3-3.3h0m.3-3.7h0m.3-3.7h0m.3-3.8h0m.3-3.5h0m.3-3.4h0m.3-2.7h0m.3-2.4h0m.3-1.5h0m.3-.9h0m.3-.1h0m.3 .1h0m.3 .3h0m.3 .4h0m.3 .5h0m.3 .6h0m.3 .7h0m.3 .8h0m.3 .8h0m.3 .8h0m.3 .9h0m.3 .9h0m.3 .9h0m.3 .8h0m.3 .9h0m.3 1h0m.3 1.3h0m.3 1.3h0m.3 1.6h0m.3 1.6h0m.3 1.6h0m.3 1.6h0m.3 1.6h0m.3 1.3h0m.3 1.2h0m.3 1h0m.3 .6h0m.3 .5h0m.3-.4h0m.3-.8h0m.3-1.5h0m.3-2.1h0m.3-2.4h0m.3-2.8h0m.3-2.9h0m.3-3.1h0m.3-2.9h0m.3-2.9h0m.3-2.5h0m.3-2.3h0m.3-1.6h0m.3-1.1h0m.3-.5h0m.3 .4h0m.3 .8h0m.3 1.4h0m.3 1.7h0m.3 1.9h0m.3 2.1h0m.3 2h0m.3 2h0m.3 1.8h0m.3 1.5h0m.3 .9h0m.3 .7h0m.3-.1h0m.3-.4h0m.3-.7h0m.3-.9h0m.3-.9h0m.3-.7h0m.3-.4h0m.3-.1h0m.3 .7h0m.3 .9h0m.3 1.7h0m.3 2h0m.3 2.3h0m.3 2.6h0m.3 2.6h0m.3 2.8h0m.3 2.7h0m.3 2.6h0m.3 2.3h0m.3 2.2h0m.3 1.7h0m.3 1.3h0m.3 .7h0m.3 .1h0m.3-.1h0m.3-.7h0m.3-.9h0m.3-1.3h0m.3-1.5h0m.3-1.8h0m.3-2.2h0m.3-2.4h0m.3-2.6h0m.3-3h0m.3-3.1h0m.3-3.5h0" stroke="#3874bc" stroke-width="1.45" stroke-linecap="round" fill="none"/>
<use href="#p41" stroke="#d83838" stroke-width="0.95" stroke-dasharray="1.7 1.5"/>
</g>
<text x="204.00" y="285.90" text-anchor="end" font-size="9.8" fill="#444444">0.2</text>
<path d="M205.40 282.50H206.6" stroke="#555" stroke-width="0.8"/>
<text x="204.00" y="308.90" text-anchor="end" font-size="9.8" fill="#444444">0.0</text>
<path d="M205.40 305.50H206.6" stroke="#555" stroke-width="0.8"/>
<text x="204.00" y="331.90" text-anchor="end" font-size="9.8" fill="#444444">0.2</text>
<path d="M184.35 328.80H190.35" stroke="#444444" stroke-width="0.75"/>
<path d="M205.40 328.50H206.6" stroke="#555" stroke-width="0.8"/>
<text x="206.60" y="341.30" text-anchor="middle" font-size="9.8" fill="#444444">0</text>
<text x="253.17" y="341.30" text-anchor="middle" font-size="9.8" fill="#444444">20</text>
<text x="299.73" y="341.30" text-anchor="middle" font-size="9.8" fill="#444444">40</text>
<text x="346.30" y="341.30" text-anchor="middle" font-size="9.8" fill="#444444">60</text>
<clipPath id="c42"><rect x="374.4" y="277.1" width="139.0" height="55.799999999999955"/></clipPath>
<path d="M373.9 277.4H513.9" stroke="#dcdcdc" stroke-width="1.3"/>
<path d="M373.9 332.4H513.9" stroke="#e0e0e0" stroke-width="1.3"/>
<path d="M513.4 277.6V332.4" stroke="#cdcdcd" stroke-width="1.1"/>
<path d="M374.4 277.6V332.4" stroke="#c4c4c4" stroke-width="1.1"/>
<g clip-path="url(#c42)">
<path id="p42" d="M374.4 304.7L374.9 304.7 375.4 304.7 375.9 304.7 376.4 304.7 376.9 304.7 377.4 304.7 377.9 304.7 378.4 304.7 378.9 304.5 379.4 304.2 379.9 303.9 380.4 303.7 380.9 303.5 381.4 303.6 381.9 304.0 382.4 304.7 382.9 305.4 383.4 305.9 383.9 306.2 384.4 306.0 384.9 305.3 385.4 304.2 385.9 303.0 386.4 301.9 386.9 300.9 387.4 300.4 387.9 300.5 388.5 302.2 389.0 305.0 389.5 308.4 390.0 312.0 390.5 315.1 391.0 317.2 391.5 317.9 392.0 316.5 392.5 313.3 393.0 308.9 393.5 304.0 394.0 299.1 394.5 295.0 395.0 292.2 395.5 291.4 396.0 292.7 396.5 295.6 397.0 299.4 397.5 303.5 398.0 307.5 398.5 310.6 399.0 312.4 399.5 312.1 400.0 309.2 400.5 304.7 401.0 299.5 401.5 294.6 402.0 290.9 402.5 289.5 403.0 291.1 403.5 295.5 404.0 301.7 404.5 308.8 405.0 316.0 405.5 322.4 406.0 327.1 406.5 329.3 407.0 327.6 407.5 322.0 408.0 313.9 408.5 304.8 409.0 296.2 409.5 289.7 410.0 286.7 410.5 287.8 411.0 291.5 411.5 296.5 412.0 301.8 412.5 305.9 413.0 307.9 413.5 307.2 414.0 305.0 414.5 302.1 415.0 299.0 415.5 296.5 416.0 295.1 416.6 295.5 417.1 297.7 417.6 301.0 418.1 305.0 418.6 308.9 419.1 312.2 419.6 314.3 420.1 314.7 420.6 313.9 421.1 312.5 421.6 310.9 422.1 309.5 422.6 308.7 423.1 309.1 423.6 310.4 424.1 311.9 424.6 312.6 425.1 311.5 425.6 308.3 426.1 303.7 426.6 298.5 427.1 293.2 427.6 288.6 428.1 285.4 428.6 284.1 429.1 285.7 429.6 290.0 430.1 296.1 430.6 303.4 431.1 311.1 431.6 318.2 432.1 324.0 432.6 327.8 433.1 328.7 433.6 327.1 434.1 323.5 434.6 318.5 435.1 312.7 435.6 306.6 436.1 300.6 436.6 295.3 437.1 291.2 437.6 288.9 438.1 288.7 438.6 290.2 439.1 292.9 439.6 296.6 440.1 300.7 440.6 304.9 441.1 308.9 441.6 312.2 442.1 314.6 442.6 315.6 443.1 314.5 443.6 311.1 444.2 306.2 444.7 300.4 445.2 294.6 445.7 289.4 446.2 285.7 446.7 284.1 447.2 285.4 447.7 289.5 448.2 295.4 448.7 302.5 449.2 309.9 449.7 317.0 450.2 322.8 450.7 326.7 451.2 327.8 451.7 325.8 452.2 321.5 452.7 315.6 453.2 309.0 453.7 302.6 454.2 297.2 454.7 293.5 455.2 292.5 455.7 293.8 456.2 296.5 456.7 299.7 457.2 302.8 457.7 305.1 458.2 305.7 458.7 304.9 459.2 303.3 459.7 301.5 460.2 299.7 460.7 298.6 461.2 298.6 461.7 300.1 462.2 303.0 462.7 306.5 463.2 310.4 463.7 314.0 464.2 317.0 464.7 318.7 465.2 318.8 465.7 317.1 466.2 314.0 466.7 310.1 467.2 305.9 467.7 301.9 468.2 298.5 468.7 296.4 469.2 296.0 469.7 297.5 470.2 300.3 470.7 303.8 471.2 307.3 471.8 310.1 472.3 311.6 472.8 311.0 473.3 308.2 473.8 304.0 474.3 299.3 474.8 295.1 475.3 292.3 475.8 291.9 476.3 294.1 476.8 298.5 477.3 304.1 477.8 310.4 478.3 316.4 478.8 321.6 479.3 325.0 479.8 326.0 480.3 323.8 480.8 318.9 481.3 312.2 481.8 304.7 482.3 297.1 482.8 290.3 483.3 285.4 483.8 283.0 484.3 283.6 484.8 286.4 485.3 290.6 485.8 295.5 486.3 300.6 486.8 305.2 487.3 308.6 487.8 310.2 488.3 309.9 488.8 309.1 489.3 308.1 489.8 307.3 490.3 307.4 490.8 308.8 491.3 311.0 491.8 313.4 492.3 315.1 492.8 315.5 493.3 313.7 493.8 310.1 494.3 305.3 494.8 300.0 495.3 294.9 495.8 290.7 496.3 288.0 496.8 287.4 497.3 289.4 497.8 293.2 498.3 298.3 498.8 303.8 499.3 309.2 499.9 313.6 500.4 316.5 500.9 317.0 501.4 315.4 501.9 312.5 502.4 308.8 502.9 305.1 503.4 302.0 503.9 300.1 504.4 300.2 504.9 302.4 505.4 305.9 505.9 310.3 506.4 314.7 506.9 318.6 507.4 321.2 507.9 322.0 508.4 320.2 508.9 316.5 509.4 311.3 509.9 305.6 510.4 299.8 510.9 294.9 511.4 291.3 511.9 290.0 512.4 290.3 512.9 291.3 513.4 293.2" fill="none" stroke-linejoin="round"/>
<use href="#p42" stroke="#7a7a7a" stroke-width="0.8"/>
<path d="M374.4 304.7h0m.3 0h0m.3 0h0m.3 0h0m.3 0h0m.3 0h0m.3 0h0m.3 0h0m.3 0h0m.3 0h0m.3 0h0m.3 0h0m.3 0h0m.3 0h0m.3-.1h0m.3-.1h0m.3-.1h0m.3-.2h0m.3-.2h0m.3-.2h0m.3-.1h0m.3-.1h0m.3-.1h0m.3 .1h0m.3 .1h0m.3 .3h0m.3 .4h0m.3 .4h0m.3 .4h0m.3 .4h0m.3 .3h0m.3 .2h0m.3 .1h0m.3-.2h0m.3-.3h0m.3-.4h0m.3-.6h0m.3-.6h0m.3-.7h0m.3-.7h0m.3-.7h0m.3-.6h0m.3-.5h0m.3-.4h0m.3-.1h0m.3 .1h0m.3 .9h0m.3 1.1h0m.3 1.6h0m.3 1.9h0m.3 2h0m.3 2.1h0m.3 2.1h0m.3 1.9h0m.3 1.6h0m.3 1.3h0m.3 .5h0m.3 .3h0m.3-.9h0m.3-1.3h0m.3-1.9h0m.3-2.5h0m.3-2.6h0m.3-3h0m.3-2.9h0m.3-2.9h0m.3-2.5h0m.3-2.4h0m.3-1.7h0m.3-1.2h0m.3-.5h0m.3 .5h0m.3 .8h0m.3 1.7h0m.3 2h0m.3 2.2h0m.3 2.5h0m.3 2.5h0m.3 2.3h0m.3 2.2h0m.3 1.9h0m.3 1.3h0m.3 1h0m.3-.2h0m.3-.7h0m.3-1.7h0m.3-2.4h0m.3-2.7h0m.3-3.1h0m.3-3.1h0m.3-2.9h0m.3-2.5h0m.3-2.2h0m.3-.8h0m.3-.3h0m.3 1h0m.3 2.1h0m.3 2.6h0m.3 3.6h0m.3 3.9h0m.3 4.3h0m.3 4.2h0m.3 4.3h0m.3 3.9h0m.3 3.5h0m.3 2.8h0m.3 1.9h0m.3 1.3h0m.3-.9h0m.3-1.6h0m.3-3.4h0m.3-4.2h0m.3-4.9h0m.3-5.4h0m.3-5.3h0m.3-5.2h0m.3-4.4h0m.3-3.9h0m.3-2h0m.3-1.2h0m.3 .7h0m.3 1.5h0m.3 2.3h0m.3 2.9h0m.3 3h0m.3 3.2h0m.3 2.7h0m.3 2.5h0m.3 1.3h0m.3 .9h0m.3-.4h0m.3-.9h0m.3-1.3h0m.3-1.7h0m.3-1.7h0m.3-1.9h0m.3-1.7h0m.3-1.5h0m.3-.9h0m.3-.7h0m.3 .3h0m.3 .7h0m.3 1.3h0m.3 1.9h0m.3 2.1h0m.3 2.3h0m.3 2.4h0m.3 2.3h0m.3 2.1h0m.3 1.9h0m.3 1.2h0m.3 .8h0m.3 .3h0m.3-.3h0m.3-.6h0m.3-.8h0m.3-.9h0m.3-1h0m.3-.9h0m.3-.8h0m.3-.4h0m.3-.2h0m.3 .2h0m.3 .7h0m.3 .8h0m.3 .9h0m.3 .7h0m.3 .4h0m.3-.4h0m.3-.8h0m.3-1.9h0m.3-2.2h0m.3-2.7h0m.3-3h0m.3-3.1h0m.3-3.2h0m.3-3h0m.3-2.7h0m.3-2.2h0m.3-2h0m.3-.7h0m.3-.2h0m.3 1h0m.3 2h0m.3 2.6h0m.3 3.7h0m.3 3.9h0m.3 4.4h0m.3 4.4h0m.3 4.6h0m.3 4.3h0m.3 4h0m.3 3.5h0m.3 2.7h0m.3 2.2h0m.3 .6h0m.3 .1h0m.3-1h0m.3-1.7h0m.3-2.1h0m.3-2.9h0m.3-3.1h0m.3-3.5h0m.3-3.6h0m.3-3.7h0m.3-3.6h0m.3-3.5h0m.3-3.1h0m.3-2.8h0m.3-2.4h0m.3-1.5h0m.3-1.1h0m.3-.1h0m.3 .5h0m.3 .9h0m.3 1.6h0m.3 1.7h0m.3 2.2h0m.3 2.3h0m.3 2.5h0m.3 2.5h0m.3 2.5h0m.3 2.4h0m.3 2.1h0m.3 2h0m.3 1.5h0m.3 1.3h0m.3 .6h0m.3 0h0m.3-.7h0m.3-1.8h0m.3-2.2h0m.3-2.9h0m.3-3.2h0m.3-3.5h0m.3-3.5h0m.3-3.4h0m.3-3.1h0m.3-2.7h0m.3-2.2h0m.3-1.2h0m.3-.7h0m.3 .8h0m.3 1.6h0m.3 2.4h0m.3 3.3h0m.3 3.6h0m.3 4.2h0m.3 4.4h0m.3 4.4h0m.3 4.3h0m.3 4.1h0m.3 3.5h0m.3 3h0m.3 2.3h0m.3 1.1h0m.3 .5h0m.3-1.2h0m.3-1.8h0m.3-2.5h0m.3-3.3h0m.3-3.5h0m.3-4h0m.3-3.8h0m.3-3.9h0m.3-3.4h0m.3-3.2h0m.3-2.2h0m.3-1.6h0m.3-.6h0m.3 .4h0m.3 .8h0m.3 1.6h0m.3 1.7h0m.3 1.9h0m.3 1.9h0m.3 1.8h0m.3 1.4h0m.3 1h0m.3 .3h0m.3-.1h0m.3-.5h0m.3-.9h0m.3-1h0m.3-1.1h0m.3-1.1h0m.3-1h0m.3-.7h0m.3-.5h0m.3 0h0m.3 .6h0m.3 .9h0m.3 1.6h0m.3 1.9h0m.3 2.1h0m.3 2.2h0m.3 2.3h0m.3 2.2h0m.3 2.1h0m.3 1.7h0m.3 1.4h0m.3 1h0m.3 .2h0m.3-.3h0m.3-1h0m.3-1.5h0m.3-1.8h0m.3-2.3h0m.3-2.4h0m.3-2.5h0m.3-2.4h0m.3-2.4h0m.3-2.1h0m.3-1.8h0m.3-1.3h0m.3-.7h0m.3-.3h0m.3 .7h0m.3 1.1h0m.3 1.7h0m.3 1.9h0m.3 2.1h0m.3 2h0m.3 2.1h0m.3 1.7h0m.3 1.3h0m.3 .9h0m.3-.2h0m.3-.5h0m.3-1.7h0m.3-2.1h0m.3-2.6h0m.3-2.7h0m.3-2.7h0m.3-2.6h0m.3-2.1h0m.3-1.6h0m.3-.6h0m.3-.1h0m.3 1.4h0m.3 1.9h0m.3 2.6h0m.3 3.2h0m.3 3.4h0m.3 3.7h0m.3 3.7h0m.3 3.6h0m.3 3.2h0m.3 3h0m.3 2.1h0m.3 1.4h0m.3 .6h0m.3-.8h0m.3-1.4h0m.3-2.9h0m.3-3.4h0m.3-4h0m.3-4.3h0m.3-4.5h0m.3-4.6h0m.3-4.3h0m.3-4.1h0m.3-3.2h0m.3-3h0m.3-1.4h0m.3-.8h0m.3 .4h0m.3 1.3h0m.3 1.6h0m.3 2.5h0m.3 2.7h0m.3 2.9h0m.3 3.1h0m.3 3h0m.3 2.7h0m.3 2.5h0m.3 2.1h0m.3 1.3h0m.3 .9h0m.3-.1h0m.3-.2h0m.3-.5h0m.3-.6h0m.3-.6h0m.3-.4h0m.3-.4h0m.3 .1h0m.3 .5h0m.3 .8h0m.3 1.3h0m.3 1.4h0m.3 1.4h0m.3 1.2h0m.3 1h0m.3 .3h0m.3 0h0m.3-1.1h0m.3-1.7h0m.3-2.2h0m.3-2.8h0m.3-2.9h0m.3-3.2h0m.3-3.1h0m.3-3h0m.3-2.6h0m.3-2.4h0m.3-1.6h0m.3-.9h0m.3-.3h0m.3 .9h0m.3 1.4h0m.3 2.3h0m.3 2.7h0m.3 3h0m.3 3.3h0m.3 3.3h0m.3 3.2h0m.3 2.9h0m.3 2.7h0m.3 1.8h0m.3 1.5h0m.3 .3h0m.3-.3h0m.3-.9h0m.3-1.6h0m.3-1.8h0m.3-2.2h0m.3-2.2h0m.3-2.3h0m.3-1.9h0m.3-1.8h0m.3-1.1h0m.3-.5h0m.3 0h0m.3 1h0m.3 1.4h0m.3 2.1h0m.3 2.3h0m.3 2.6h0m.3 2.7h0m.3 2.6h0m.3 2.3h0m.3 2h0m.3 1.6h0m.3 .7h0m.3 .4h0m.3-1h0m.3-1.5h0m.3-2.3h0m.3-2.8h0m.3-3.1h0m.3-3.5h0m.3-3.4h0m.3-3.4h0m.3-3.2h0m.3-2.9h0m.3-2.1h0m.3-1.6h0m.3-.8h0m.3-.2h0m.3 .2h0m.3 .6h0m.3 .8h0m.3 1.1h0" stroke="#3874bc" stroke-width="1.45" stroke-linecap="round" fill="none"/>
<use href="#p42" stroke="#d83838" stroke-width="0.95" stroke-dasharray="1.7 1.5"/>
</g>
<text x="371.80" y="287.80" text-anchor="end" font-size="9.8" fill="#444444">0.25</text>
<path d="M373.20 284.40H374.4" stroke="#555" stroke-width="0.8"/>
<text x="371.80" y="308.20" text-anchor="end" font-size="9.8" fill="#444444">0.00</text>
<path d="M373.20 304.80H374.4" stroke="#555" stroke-width="0.8"/>
<text x="371.80" y="328.60" text-anchor="end" font-size="9.8" fill="#444444">0.25</text>
<path d="M347.25 325.50H353.25" stroke="#444444" stroke-width="0.75"/>
<path d="M373.20 325.20H374.4" stroke="#555" stroke-width="0.8"/>
<text x="374.40" y="341.30" text-anchor="middle" font-size="9.8" fill="#444444">0</text>
<text x="420.73" y="341.30" text-anchor="middle" font-size="9.8" fill="#444444">20</text>
<text x="467.07" y="341.30" text-anchor="middle" font-size="9.8" fill="#444444">40</text>
<text x="513.40" y="341.30" text-anchor="middle" font-size="9.8" fill="#444444">60</text>
<clipPath id="c43"><rect x="541.5" y="277.1" width="139.0" height="55.799999999999955"/></clipPath>
<path d="M541.0 277.4H681.0" stroke="#dcdcdc" stroke-width="1.3"/>
<path d="M541.0 332.4H681.0" stroke="#e0e0e0" stroke-width="1.3"/>
<path d="M680.5 277.6V332.4" stroke="#cdcdcd" stroke-width="1.1"/>
<path d="M541.5 277.6V332.4" stroke="#8c8c8c" stroke-width="1.1"/>
<g clip-path="url(#c43)">
<path d="M541.8 308.7L542.2 304.3 542.6 298.0 543.0 301.5 543.4 312.8 543.8 306.2 544.2 293.1 544.6 300.6 545.0 312.7 545.4 305.8 545.8 291.2 546.2 299.1 546.6 315.2 547.0 308.7 547.4 291.5 547.8 296.9 548.2 313.2 548.6 310.9 549.0 294.3 549.4 294.0 549.8 310.6 550.2 313.2 550.6 297.4 551.0 294.3 551.4 306.7 551.8 309.9 552.2 300.6 552.6 298.7 553.0 303.5 553.4 305.9 553.8 302.1 554.2 299.8 554.6 303.3 555.0 305.4 555.4 302.4 555.8 300.2 556.2 302.2 556.6 305.0 557.0 302.4 557.4 300.3 557.8 301.5 558.2 303.2 558.6 302.5 559.0 300.4 559.4 300.3 559.8 305.1 560.2 305.8 560.6 300.0 561.0 299.1 561.4 305.0 561.8 304.6 562.2 300.8 562.6 300.6 563.0 303.1 563.4 305.9 563.8 301.1 564.2 298.6 564.6 302.5 565.0 306.7 565.4 302.0 565.8 298.3 566.2 301.6 566.6 306.5 567.0 303.6 567.4 298.2 567.8 299.6 568.2 305.4 568.6 305.1 569.0 299.6 569.4 297.9 569.8 303.5 570.2 305.5 570.6 301.0 571.0 297.7 571.4 303.2 571.8 308.3 572.2 301.4 572.6 295.4 573.0 301.9 573.4 307.3 573.8 302.9 574.2 299.6 574.6 302.0 575.0 305.8 575.4 304.2 575.8 299.4 576.2 300.7 576.6 306.5 577.0 305.7 577.4 299.2 577.8 294.2 578.2 304.2 578.6 306.4 579.0 300.1 579.4 298.0 579.8 302.3 580.2 305.4 580.6 301.8 581.0 296.4 581.4 301.0 581.8 309.8 582.2 303.8 582.6 296.5 583.0 298.8 583.4 310.1 583.8 304.6 584.2 297.8 584.6 299.5 585.0 302.6 585.4 302.0 585.8 299.4 586.2 298.2 586.6 301.7 587.0 305.4 587.4 298.6 587.8 293.1 588.2 301.2 588.6 308.5 589.0 301.4 589.4 295.3 589.8 299.6 590.2 303.5 590.6 301.6 591.0 296.3 591.4 298.9 591.8 304.8 592.2 305.5 592.6 295.3 593.0 295.2 593.4 305.1 593.8 307.4 594.2 296.3 594.6 292.7 595.0 303.4 595.4 308.9 595.8 300.0 596.2 292.1 596.6 300.9 597.0 309.1 597.4 300.4 597.8 295.3 598.2 300.4 598.6 302.4 599.0 301.0 599.4 298.1 599.8 299.9 600.2 302.1 600.6 301.5 601.0 297.6 601.4 297.8 601.8 303.8 602.2 305.7 602.6 299.8 603.0 297.9 603.4 303.8 603.8 306.2 604.2 300.9 604.6 297.4 605.0 302.0 605.4 306.6 605.8 302.7 606.2 297.5 606.6 300.8 607.0 305.6 607.4 303.3 607.8 299.7 608.2 300.8 608.6 303.7 609.0 305.6 609.4 300.9 609.8 300.7 610.2 302.7 610.6 303.4 611.0 301.6 611.4 300.8 611.8 301.9 612.2 302.8 612.6 301.6 613.0 298.7 613.4 300.1 613.8 305.6 614.2 303.8 614.6 297.7 615.0 298.4 615.4 302.9 615.8 303.4 616.2 299.5 616.6 299.1 617.0 303.2 617.4 303.7 617.8 299.8 618.2 297.4 618.6 302.4 619.0 303.0 619.4 301.2 619.8 299.9 620.2 301.3 620.6 304.5 621.0 302.4 621.4 298.5 621.8 299.8 622.2 304.6 622.6 304.5 623.0 297.2 623.4 298.5 623.8 304.1 624.2 306.6 624.6 297.8 625.0 295.0 625.4 303.4 625.8 307.6 626.2 299.8 626.6 296.2 627.0 301.2 627.4 303.0 627.8 301.6 628.2 298.1 628.6 299.8 629.0 305.3 629.4 302.0 629.8 297.8 630.2 296.6 630.6 307.3 631.0 308.2 631.4 294.8 631.8 293.3 632.2 306.7 632.6 309.9 633.0 297.2 633.4 296.9 633.8 303.7 634.2 307.4 634.6 298.4 635.0 293.3 635.4 302.3 635.8 312.9 636.2 300.1 636.6 289.0 637.0 300.6 637.4 311.6 637.8 301.6 638.2 294.9 638.6 299.5 639.0 305.9 639.4 304.4 639.8 295.1 640.2 297.0 640.6 306.0 641.0 309.8 641.4 295.0 641.8 291.8 642.2 305.2 642.6 309.3 643.0 299.5 643.4 296.9 643.8 301.9 644.2 304.1 644.6 301.3 645.0 299.9 645.4 301.3 645.8 303.3 646.2 301.8 646.6 297.5 647.0 300.1 647.4 305.1 647.8 302.2 648.2 298.6 648.6 300.7 649.0 302.7 649.4 301.9 649.8 300.1 650.2 300.1 650.6 303.4 651.0 303.1 651.4 298.9 651.8 298.8 652.2 304.0 652.6 304.6 653.0 298.8 653.4 294.9 653.8 304.0 654.2 306.9 654.6 298.8 655.0 298.8 655.4 302.2 655.8 303.1 656.2 300.7 656.6 298.8 657.0 302.2 657.4 304.2 657.8 300.1 658.2 295.1 658.6 302.1 659.0 305.3 659.4 301.3 659.8 293.9 660.2 296.1 660.6 307.4 661.0 303.4 661.4 293.2 661.8 294.6 662.2 312.7 662.6 308.8 663.0 291.6 663.4 292.2 663.8 309.6 664.2 308.2 664.6 297.1 665.0 295.7 665.4 303.6 665.8 304.5 666.2 299.4 666.6 297.2 667.0 302.2 667.4 308.2 667.8 302.6 668.2 296.1 668.6 299.9 669.0 305.9 669.4 302.6 669.8 300.4 670.2 301.1 670.6 303.5 671.0 302.9 671.4 297.9 671.8 299.7 672.2 305.1 672.6 304.9 673.0 297.8 673.4 297.0 673.8 305.9 674.2 305.8 674.6 298.6 675.0 296.8 675.4 304.2 675.8 306.7 676.2 299.6 676.6 296.2 677.0 303.3 677.4 308.1 677.8 301.4 678.2 295.7 678.6 301.5 679.0 306.4 679.4 302.1 679.8 298.8 680.2 299.2" fill="none" stroke="#d42a2a" stroke-width="1.0" stroke-dasharray="1.3 0.9"/>
<path d="M541.5 304.7H680.5" stroke="#4a8fd0" stroke-width="2.0"/>
<path d="M541.9 290.0V310.0" stroke="#d42a2a" stroke-width="1.0" stroke-dasharray="1.2 0.9"/>
</g>
<text x="538.90" y="285.41" text-anchor="end" font-size="9.8" fill="#444444">0.02</text>
<path d="M540.30 282.01H541.5" stroke="#555" stroke-width="0.8"/>
<text x="538.90" y="308.85" text-anchor="end" font-size="9.8" fill="#444444">0.00</text>
<path d="M540.30 305.45H541.5" stroke="#555" stroke-width="0.8"/>
<text x="538.90" y="332.29" text-anchor="end" font-size="9.8" fill="#444444">0.02</text>
<path d="M514.35 329.19H520.35" stroke="#444444" stroke-width="0.75"/>
<path d="M540.30 328.89H541.5" stroke="#555" stroke-width="0.8"/>
<text x="541.50" y="341.30" text-anchor="middle" font-size="9.8" fill="#444444">0</text>
<text x="587.83" y="341.30" text-anchor="middle" font-size="9.8" fill="#444444">20</text>
<text x="634.17" y="341.30" text-anchor="middle" font-size="9.8" fill="#444444">40</text>
<text x="680.50" y="341.30" text-anchor="middle" font-size="9.8" fill="#444444">60</text>
<text x="1.3" y="308.10" font-size="12" fill="#444444">5</text>
<text x="94.00" y="8.8" font-size="12" font-style="italic" fill="#444444">u</text>
<text x="99.60" y="10.6" font-size="8" font-style="italic" fill="#444444">i</text>
<text x="105.90" y="8.8" font-size="12" fill="#444444" textLength="18.3" lengthAdjust="spacingAndGlyphs">(m)</text>
<text x="82.55" y="353.8" font-size="12" fill="#444444" textLength="52.6" lengthAdjust="spacingAndGlyphs">Time, <tspan font-style="italic">t</tspan> (s)</text>
<text x="256.10" y="8.8" font-size="12" font-style="italic" fill="#444444">u</text>
<text x="261.70" y="10.6" font-size="8" font-style="italic" fill="#444444">i</text>
<circle cx="259.40" cy="1.9" r="0.75" fill="#444444"/>
<text x="269.30" y="8.8" font-size="12" fill="#444444" textLength="27.1" lengthAdjust="spacingAndGlyphs">(m/s)</text>
<text x="249.85" y="353.8" font-size="12" fill="#444444" textLength="52.6" lengthAdjust="spacingAndGlyphs">Time, <tspan font-style="italic">t</tspan> (s)</text>
<text x="423.30" y="8.8" font-size="12" font-style="italic" fill="#444444">u</text>
<text x="428.90" y="10.6" font-size="8" font-style="italic" fill="#444444">i</text>
<circle cx="425.40" cy="1.9" r="0.7" fill="#444444"/><circle cx="427.90" cy="1.9" r="0.7" fill="#444444"/>
<text x="436.50" y="8.8" font-size="12" fill="#444444" textLength="27.1" lengthAdjust="spacingAndGlyphs">(m/s)</text>
<text x="417.30" y="353.8" font-size="12" fill="#444444" textLength="52.6" lengthAdjust="spacingAndGlyphs">Time, <tspan font-style="italic">t</tspan> (s)</text>
<text x="596.00" y="8.8" font-size="12" font-style="italic" fill="#444444">f</text>
<text x="601.60" y="10.6" font-size="8" font-style="italic" fill="#444444">i</text>
<text x="608.20" y="8.8" font-size="12" fill="#444444" textLength="17.7" lengthAdjust="spacingAndGlyphs">(m)</text>
<text x="584.40" y="353.8" font-size="12" fill="#444444" textLength="52.6" lengthAdjust="spacingAndGlyphs">Time, <tspan font-style="italic">t</tspan> (s)</text>
<rect x="213.3" y="362.4" width="293.3" height="17" rx="1.5" fill="#fff" stroke="#e8e8e8" stroke-width="0.8"/>
<circle cx="227.7" cy="370.4" r="2.4" fill="#5b9bd8"/>
<text x="245.4" y="373.6" font-size="10" fill="#444444" textLength="54" lengthAdjust="spacingAndGlyphs">Observations</text>
<path d="M320.5 369.9H341" stroke="#d01c1c" stroke-width="1.9" stroke-dasharray="6.7 2.4"/>
<text x="348.9" y="373.6" font-size="10" fill="#444444" textLength="42.7" lengthAdjust="spacingAndGlyphs">Prediction</text>
<path d="M412 369.9H434" stroke="#777" stroke-width="1.9"/>
<text x="441.4" y="373.6" font-size="10" fill="#444444" textLength="60.7" lengthAdjust="spacingAndGlyphs">Exact Solution</text>
</svg>
</body></html>
